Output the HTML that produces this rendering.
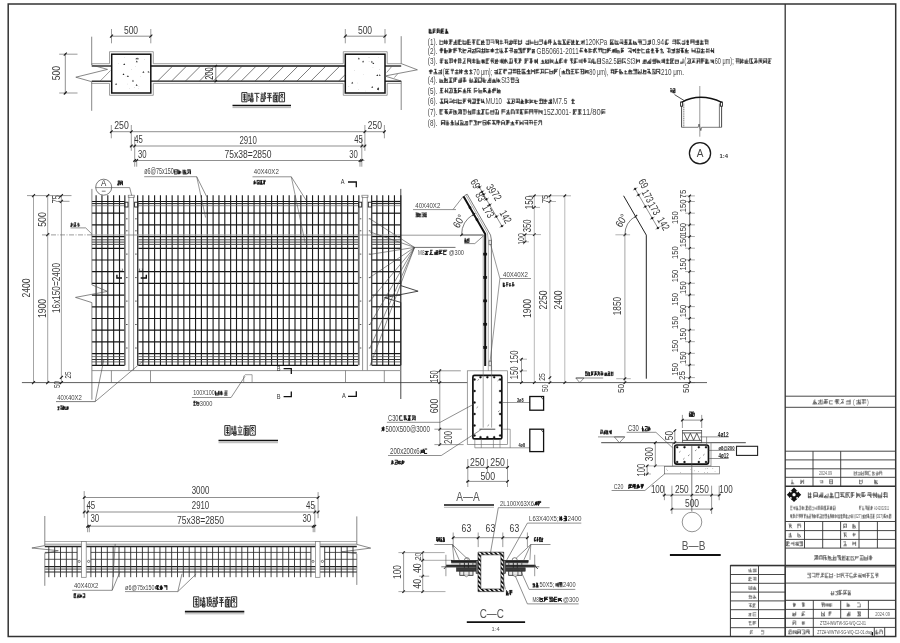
<!DOCTYPE html>
<html><head><meta charset="utf-8"><title>drawing</title>
<style>
html,body{margin:0;padding:0;background:#fff;}
body{width:900px;height:643px;overflow:hidden;font-family:"Liberation Sans",sans-serif;}
svg{display:block;position:absolute;left:0;top:0;filter:blur(0.3px);}
svg text{font-family:"Liberation Sans",sans-serif;}
</style></head><body>
<svg width="900" height="643" viewBox="0 0 900 643" shape-rendering="auto">
<rect x="0" y="0" width="900" height="643" fill="#fff"/>
<rect x="8.2" y="4" width="887.5" height="632.5" fill="none" stroke="#333" stroke-width="1.5"/>
<line x1="785.2" y1="4" x2="785.2" y2="636.5" stroke="#333" stroke-width="1.3"/>
<path d="M96.1 195.3V365.3M101.95 195.3V365.3M107.8 195.3V365.3M113.65 195.3V365.3M119.5 195.3V365.3M124.85 195.3V365.3M137.65 195.3V365.3M142.9 195.3V365.3M148.75 195.3V365.3M154.6 195.3V365.3M160.45 195.3V365.3M166.3 195.3V365.3M172.15 195.3V365.3M178 195.3V365.3M183.85 195.3V365.3M189.7 195.3V365.3M195.55 195.3V365.3M201.4 195.3V365.3M207.25 195.3V365.3M213.1 195.3V365.3M218.95 195.3V365.3M224.8 195.3V365.3M230.65 195.3V365.3M236.5 195.3V365.3M242.35 195.3V365.3M248.2 195.3V365.3M254.05 195.3V365.3M259.9 195.3V365.3M265.75 195.3V365.3M271.6 195.3V365.3M277.45 195.3V365.3M283.3 195.3V365.3M289.15 195.3V365.3M295 195.3V365.3M300.85 195.3V365.3M306.7 195.3V365.3M312.55 195.3V365.3M318.4 195.3V365.3M324.25 195.3V365.3M330.1 195.3V365.3M335.95 195.3V365.3M341.8 195.3V365.3M347.65 195.3V365.3M353.5 195.3V365.3M358.85 195.3V365.3M371.65 195.3V365.3M376.9 195.3V365.3M382.75 195.3V365.3M388.6 195.3V365.3M394.45 195.3V365.3" fill="none" stroke="#1c1c1c" stroke-width="1.12"/>
<line x1="91.9" y1="365.3" x2="124.6" y2="365.3" stroke="#141414" stroke-width="1.22"/>
<line x1="138.2" y1="365.3" x2="358" y2="365.3" stroke="#141414" stroke-width="1.22"/>
<line x1="371.7" y1="365.3" x2="400.8" y2="365.3" stroke="#141414" stroke-width="1.22"/>
<line x1="91.9" y1="353.6" x2="124.6" y2="353.6" stroke="#141414" stroke-width="1.22"/>
<line x1="138.2" y1="353.6" x2="358" y2="353.6" stroke="#141414" stroke-width="1.22"/>
<line x1="371.7" y1="353.6" x2="400.8" y2="353.6" stroke="#141414" stroke-width="1.22"/>
<line x1="91.9" y1="341.9" x2="124.6" y2="341.9" stroke="#141414" stroke-width="1.22"/>
<line x1="138.2" y1="341.9" x2="358" y2="341.9" stroke="#141414" stroke-width="1.22"/>
<line x1="371.7" y1="341.9" x2="400.8" y2="341.9" stroke="#141414" stroke-width="1.22"/>
<line x1="91.9" y1="330.2" x2="124.6" y2="330.2" stroke="#141414" stroke-width="1.22"/>
<line x1="138.2" y1="330.2" x2="358" y2="330.2" stroke="#141414" stroke-width="1.22"/>
<line x1="371.7" y1="330.2" x2="400.8" y2="330.2" stroke="#141414" stroke-width="1.22"/>
<line x1="91.9" y1="318.5" x2="124.6" y2="318.5" stroke="#141414" stroke-width="1.22"/>
<line x1="138.2" y1="318.5" x2="358" y2="318.5" stroke="#141414" stroke-width="1.22"/>
<line x1="371.7" y1="318.5" x2="400.8" y2="318.5" stroke="#141414" stroke-width="1.22"/>
<line x1="91.9" y1="306.8" x2="124.6" y2="306.8" stroke="#141414" stroke-width="1.22"/>
<line x1="138.2" y1="306.8" x2="358" y2="306.8" stroke="#141414" stroke-width="1.22"/>
<line x1="371.7" y1="306.8" x2="400.8" y2="306.8" stroke="#141414" stroke-width="1.22"/>
<line x1="91.9" y1="295.1" x2="124.6" y2="295.1" stroke="#141414" stroke-width="1.22"/>
<line x1="138.2" y1="295.1" x2="358" y2="295.1" stroke="#141414" stroke-width="1.22"/>
<line x1="371.7" y1="295.1" x2="400.8" y2="295.1" stroke="#141414" stroke-width="1.22"/>
<line x1="91.9" y1="283.4" x2="124.6" y2="283.4" stroke="#141414" stroke-width="1.22"/>
<line x1="138.2" y1="283.4" x2="358" y2="283.4" stroke="#141414" stroke-width="1.22"/>
<line x1="371.7" y1="283.4" x2="400.8" y2="283.4" stroke="#141414" stroke-width="1.22"/>
<line x1="91.9" y1="271.7" x2="124.6" y2="271.7" stroke="#141414" stroke-width="1.22"/>
<line x1="138.2" y1="271.7" x2="358" y2="271.7" stroke="#141414" stroke-width="1.22"/>
<line x1="371.7" y1="271.7" x2="400.8" y2="271.7" stroke="#141414" stroke-width="1.22"/>
<line x1="91.9" y1="260" x2="124.6" y2="260" stroke="#141414" stroke-width="1.22"/>
<line x1="138.2" y1="260" x2="358" y2="260" stroke="#141414" stroke-width="1.22"/>
<line x1="371.7" y1="260" x2="400.8" y2="260" stroke="#141414" stroke-width="1.22"/>
<line x1="91.9" y1="248.3" x2="124.6" y2="248.3" stroke="#141414" stroke-width="1.22"/>
<line x1="138.2" y1="248.3" x2="358" y2="248.3" stroke="#141414" stroke-width="1.22"/>
<line x1="371.7" y1="248.3" x2="400.8" y2="248.3" stroke="#141414" stroke-width="1.22"/>
<line x1="91.9" y1="236.6" x2="124.6" y2="236.6" stroke="#141414" stroke-width="1.22"/>
<line x1="138.2" y1="236.6" x2="358" y2="236.6" stroke="#141414" stroke-width="1.22"/>
<line x1="371.7" y1="236.6" x2="400.8" y2="236.6" stroke="#141414" stroke-width="1.22"/>
<line x1="91.9" y1="224.9" x2="124.6" y2="224.9" stroke="#141414" stroke-width="1.22"/>
<line x1="138.2" y1="224.9" x2="358" y2="224.9" stroke="#141414" stroke-width="1.22"/>
<line x1="371.7" y1="224.9" x2="400.8" y2="224.9" stroke="#141414" stroke-width="1.22"/>
<line x1="91.9" y1="213.2" x2="124.6" y2="213.2" stroke="#141414" stroke-width="1.22"/>
<line x1="138.2" y1="213.2" x2="358" y2="213.2" stroke="#141414" stroke-width="1.22"/>
<line x1="371.7" y1="213.2" x2="400.8" y2="213.2" stroke="#141414" stroke-width="1.22"/>
<line x1="91.9" y1="201.5" x2="124.6" y2="201.5" stroke="#141414" stroke-width="1.22"/>
<line x1="138.2" y1="201.5" x2="358" y2="201.5" stroke="#141414" stroke-width="1.22"/>
<line x1="371.7" y1="201.5" x2="400.8" y2="201.5" stroke="#141414" stroke-width="1.22"/>
<line x1="91.9" y1="203.6" x2="124.6" y2="203.6" stroke="#222" stroke-width="1"/>
<line x1="138.2" y1="203.6" x2="358" y2="203.6" stroke="#222" stroke-width="1"/>
<line x1="371.7" y1="203.6" x2="400.8" y2="203.6" stroke="#222" stroke-width="1"/>
<line x1="91.9" y1="205.7" x2="124.6" y2="205.7" stroke="#666" stroke-width="0.7"/>
<line x1="138.2" y1="205.7" x2="358" y2="205.7" stroke="#666" stroke-width="0.7"/>
<line x1="371.7" y1="205.7" x2="400.8" y2="205.7" stroke="#666" stroke-width="0.7"/>
<line x1="91.9" y1="239.8" x2="124.6" y2="239.8" stroke="#3a3a3a" stroke-width="0.9"/>
<line x1="138.2" y1="239.8" x2="358" y2="239.8" stroke="#3a3a3a" stroke-width="0.9"/>
<line x1="371.7" y1="239.8" x2="400.8" y2="239.8" stroke="#3a3a3a" stroke-width="0.9"/>
<line x1="91.9" y1="242.1" x2="124.6" y2="242.1" stroke="#333" stroke-width="0.9"/>
<line x1="138.2" y1="242.1" x2="358" y2="242.1" stroke="#333" stroke-width="0.9"/>
<line x1="371.7" y1="242.1" x2="400.8" y2="242.1" stroke="#333" stroke-width="0.9"/>
<line x1="91.9" y1="244.4" x2="124.6" y2="244.4" stroke="#3a3a3a" stroke-width="0.9"/>
<line x1="138.2" y1="244.4" x2="358" y2="244.4" stroke="#3a3a3a" stroke-width="0.9"/>
<line x1="371.7" y1="244.4" x2="400.8" y2="244.4" stroke="#3a3a3a" stroke-width="0.9"/>
<line x1="91.9" y1="356.6" x2="124.6" y2="356.6" stroke="#555" stroke-width="0.8"/>
<line x1="138.2" y1="356.6" x2="358" y2="356.6" stroke="#555" stroke-width="0.8"/>
<line x1="371.7" y1="356.6" x2="400.8" y2="356.6" stroke="#555" stroke-width="0.8"/>
<line x1="91.9" y1="359.5" x2="124.6" y2="359.5" stroke="#333" stroke-width="1"/>
<line x1="138.2" y1="359.5" x2="358" y2="359.5" stroke="#333" stroke-width="1"/>
<line x1="371.7" y1="359.5" x2="400.8" y2="359.5" stroke="#333" stroke-width="1"/>
<line x1="91.9" y1="361.9" x2="124.6" y2="361.9" stroke="#444" stroke-width="0.8"/>
<line x1="138.2" y1="361.9" x2="358" y2="361.9" stroke="#444" stroke-width="0.8"/>
<line x1="371.7" y1="361.9" x2="400.8" y2="361.9" stroke="#444" stroke-width="0.8"/>
<line x1="42" y1="234.9" x2="91.9" y2="234.9" stroke="#555" stroke-width="0.6" stroke-dasharray="5 1.5 1 1.5"/>
<line x1="91.9" y1="235" x2="400.8" y2="235" stroke="#9a9a9a" stroke-width="1.2"/>
<line x1="400.8" y1="235.2" x2="483.5" y2="235.2" stroke="#555" stroke-width="0.6"/>
<line x1="128.9" y1="196.5" x2="128.9" y2="370.6" stroke="#888" stroke-width="0.9"/>
<line x1="133.6" y1="196.5" x2="133.6" y2="370.6" stroke="#666" stroke-width="0.7"/>
<rect x="128.2" y="195.2" width="6.1" height="2.1" fill="none" stroke="#666" stroke-width="0.6"/>
<line x1="124.6" y1="207.5" x2="124.6" y2="365.3" stroke="#777" stroke-width="0.6"/>
<line x1="138.2" y1="207.5" x2="138.2" y2="365.3" stroke="#777" stroke-width="0.6"/>
<rect x="124.8" y="202.2" width="3.2" height="4.8" fill="none" stroke="#222" stroke-width="0.9"/>
<rect x="134.6" y="202.2" width="3.4" height="4.8" fill="none" stroke="#222" stroke-width="0.9"/>
<line x1="126" y1="218.8" x2="127.6" y2="218.8" stroke="#444" stroke-width="0.9"/>
<line x1="135.1" y1="218.8" x2="136.7" y2="218.8" stroke="#444" stroke-width="0.9"/>
<line x1="126" y1="230.8" x2="127.6" y2="230.8" stroke="#444" stroke-width="0.9"/>
<line x1="135.1" y1="230.8" x2="136.7" y2="230.8" stroke="#444" stroke-width="0.9"/>
<line x1="126" y1="254.1" x2="127.6" y2="254.1" stroke="#444" stroke-width="0.9"/>
<line x1="135.1" y1="254.1" x2="136.7" y2="254.1" stroke="#444" stroke-width="0.9"/>
<line x1="126" y1="277.6" x2="127.6" y2="277.6" stroke="#444" stroke-width="0.9"/>
<line x1="135.1" y1="277.6" x2="136.7" y2="277.6" stroke="#444" stroke-width="0.9"/>
<line x1="126" y1="301.1" x2="127.6" y2="301.1" stroke="#444" stroke-width="0.9"/>
<line x1="135.1" y1="301.1" x2="136.7" y2="301.1" stroke="#444" stroke-width="0.9"/>
<line x1="126" y1="324.5" x2="127.6" y2="324.5" stroke="#444" stroke-width="0.9"/>
<line x1="135.1" y1="324.5" x2="136.7" y2="324.5" stroke="#444" stroke-width="0.9"/>
<line x1="126" y1="348" x2="127.6" y2="348" stroke="#444" stroke-width="0.9"/>
<line x1="135.1" y1="348" x2="136.7" y2="348" stroke="#444" stroke-width="0.9"/>
<line x1="362.6" y1="196.5" x2="362.6" y2="370.6" stroke="#888" stroke-width="0.9"/>
<line x1="367.3" y1="196.5" x2="367.3" y2="370.6" stroke="#666" stroke-width="0.7"/>
<rect x="361.9" y="195.2" width="6.1" height="2.1" fill="none" stroke="#666" stroke-width="0.6"/>
<line x1="358.3" y1="207.5" x2="358.3" y2="365.3" stroke="#777" stroke-width="0.6"/>
<line x1="371.9" y1="207.5" x2="371.9" y2="365.3" stroke="#777" stroke-width="0.6"/>
<rect x="358.5" y="202.2" width="3.2" height="4.8" fill="none" stroke="#222" stroke-width="0.9"/>
<rect x="368.3" y="202.2" width="3.4" height="4.8" fill="none" stroke="#222" stroke-width="0.9"/>
<line x1="359.7" y1="218.8" x2="361.3" y2="218.8" stroke="#444" stroke-width="0.9"/>
<line x1="368.8" y1="218.8" x2="370.4" y2="218.8" stroke="#444" stroke-width="0.9"/>
<line x1="359.7" y1="230.8" x2="361.3" y2="230.8" stroke="#444" stroke-width="0.9"/>
<line x1="368.8" y1="230.8" x2="370.4" y2="230.8" stroke="#444" stroke-width="0.9"/>
<line x1="359.7" y1="254.1" x2="361.3" y2="254.1" stroke="#444" stroke-width="0.9"/>
<line x1="368.8" y1="254.1" x2="370.4" y2="254.1" stroke="#444" stroke-width="0.9"/>
<line x1="359.7" y1="277.6" x2="361.3" y2="277.6" stroke="#444" stroke-width="0.9"/>
<line x1="368.8" y1="277.6" x2="370.4" y2="277.6" stroke="#444" stroke-width="0.9"/>
<line x1="359.7" y1="301.1" x2="361.3" y2="301.1" stroke="#444" stroke-width="0.9"/>
<line x1="368.8" y1="301.1" x2="370.4" y2="301.1" stroke="#444" stroke-width="0.9"/>
<line x1="359.7" y1="324.5" x2="361.3" y2="324.5" stroke="#444" stroke-width="0.9"/>
<line x1="368.8" y1="324.5" x2="370.4" y2="324.5" stroke="#444" stroke-width="0.9"/>
<line x1="359.7" y1="348" x2="361.3" y2="348" stroke="#444" stroke-width="0.9"/>
<line x1="368.8" y1="348" x2="370.4" y2="348" stroke="#444" stroke-width="0.9"/>
<path d="M91.9 188.9 L91.9 284.8 L107.4 291.4 L75.5 297.4 L91.9 302.6 L91.9 399.7" fill="none" stroke="#555" stroke-width="0.7" stroke-linejoin="miter"/>
<path d="M400.8 188.9 L400.8 285.6 L418.1 291.2 L384.5 297.7 L400.8 302.4 L400.8 399" fill="none" stroke="#333" stroke-width="0.9" stroke-linejoin="miter"/>
<line x1="400.8" y1="195.3" x2="400.8" y2="365.3" stroke="#222" stroke-width="1.2"/>
<line x1="91.9" y1="370.6" x2="400.8" y2="370.6" stroke="#888" stroke-width="0.9"/>
<line x1="21.9" y1="382.6" x2="467.3" y2="382.6" stroke="#333" stroke-width="0.8"/>
<line x1="507.4" y1="382.6" x2="707" y2="382.6" stroke="#333" stroke-width="0.8"/>
<line x1="111.4" y1="370.6" x2="111.4" y2="382.6" stroke="#666" stroke-width="0.7"/>
<line x1="150.5" y1="370.6" x2="150.5" y2="382.6" stroke="#666" stroke-width="0.7"/>
<line x1="345.5" y1="370.6" x2="345.5" y2="382.6" stroke="#666" stroke-width="0.7"/>
<line x1="384.3" y1="370.6" x2="384.3" y2="382.6" stroke="#666" stroke-width="0.7"/>
<path d="M243.7 382.6 L243.7 376.2 L245.2 374.7 L252.1 374.7 L252.1 382.6" fill="none" stroke="#666" stroke-width="0.6" stroke-linejoin="miter"/>
<line x1="27" y1="195.6" x2="71.5" y2="195.6" stroke="#555" stroke-width="0.6"/>
<line x1="33.5" y1="195.6" x2="33.5" y2="382.6" stroke="#666" stroke-width="0.6"/>
<line x1="32" y1="197.1" x2="35" y2="194.1" stroke="#1a1a1a" stroke-width="1.1"/>
<line x1="32" y1="384.1" x2="35" y2="381.1" stroke="#1a1a1a" stroke-width="1.1"/>
<line x1="47.7" y1="195.6" x2="47.7" y2="382.6" stroke="#666" stroke-width="0.6"/>
<line x1="46.2" y1="197.1" x2="49.2" y2="194.1" stroke="#1a1a1a" stroke-width="1.1"/>
<line x1="46.2" y1="384.1" x2="49.2" y2="381.1" stroke="#1a1a1a" stroke-width="1.1"/>
<line x1="61.4" y1="195.6" x2="61.4" y2="382.6" stroke="#666" stroke-width="0.6"/>
<line x1="59.9" y1="197.1" x2="62.9" y2="194.1" stroke="#1a1a1a" stroke-width="1.1"/>
<line x1="59.9" y1="384.1" x2="62.9" y2="381.1" stroke="#1a1a1a" stroke-width="1.1"/>
<line x1="46.2" y1="236.2" x2="49.2" y2="233.2" stroke="#1a1a1a" stroke-width="1.1"/>
<line x1="59.9" y1="202.8" x2="62.9" y2="199.8" stroke="#1a1a1a" stroke-width="1.1"/>
<line x1="58.4" y1="201.3" x2="69.5" y2="201.3" stroke="#555" stroke-width="0.6"/>
<line x1="59.9" y1="378.9" x2="62.9" y2="375.9" stroke="#1a1a1a" stroke-width="1.1"/>
<text transform="translate(30.2 288) rotate(-90)" font-size="11.33" text-anchor="middle" fill="#3a3a3a" font-weight="normal" textLength="19" lengthAdjust="spacingAndGlyphs">2400</text>
<text transform="translate(46.2 219.5) rotate(-90)" font-size="11.33" text-anchor="middle" fill="#3a3a3a" font-weight="normal" textLength="14.5" lengthAdjust="spacingAndGlyphs">500</text>
<text transform="translate(46.2 308.5) rotate(-90)" font-size="11.33" text-anchor="middle" fill="#3a3a3a" font-weight="normal" textLength="19" lengthAdjust="spacingAndGlyphs">1900</text>
<text transform="translate(59.8 288) rotate(-90)" font-size="11.33" text-anchor="middle" fill="#3a3a3a" font-weight="normal" textLength="50" lengthAdjust="spacingAndGlyphs">16x150=2400</text>
<text transform="translate(59.6 199.3) rotate(-90)" font-size="10.03" text-anchor="middle" fill="#3a3a3a" font-weight="normal" textLength="8" lengthAdjust="spacingAndGlyphs">75</text>
<text transform="translate(70.6 374.9) rotate(-90)" font-size="8.26" text-anchor="middle" fill="#3a3a3a" font-weight="normal" textLength="7" lengthAdjust="spacingAndGlyphs">25</text>
<text transform="translate(59.6 384.6) rotate(-90)" font-size="8.26" text-anchor="middle" fill="#3a3a3a" font-weight="normal" textLength="7" lengthAdjust="spacingAndGlyphs">50</text>
<path d="M70.5 223.92H73.29M70.92 224.8H73.29M70.5 225.77H72.73M71.48 222.6V227M71.89 224.36L70.5 227M73.9 222.82H76.13M73.9 225.77H76.69M74.12 223.48V227M75.43 222.6V227M75.29 224.36L73.9 227M77.3 223.92H79.53M77.3 224.8H79.53M77.72 225.77H80.09M78.28 222.6V227" fill="none" stroke="#222" stroke-width="0.8"/>
<path d="M70.5 227.9 L85.7 227.9 L91.7 233.8" fill="none" stroke="#444" stroke-width="0.6" stroke-linejoin="miter"/>
<circle cx="103.7" cy="187.2" r="8" fill="none" stroke="#444" stroke-width="0.7"/>
<path d="M95.7 187.6 L129.7 187.6 L131.7 195.5" fill="none" stroke="#444" stroke-width="0.6" stroke-linejoin="miter"/>
<text transform="translate(103.7 186.2) rotate(0) scale(0.9 1)" font-size="8.85" text-anchor="middle" fill="#333" font-weight="normal">A</text>
<line x1="101.8" y1="191.2" x2="105.6" y2="191.2" stroke="#444" stroke-width="0.7"/>
<path d="M117.84 181.02H119.8M117.5 184.98H119.34M119.61 180.8V184.54M118.3 180.8V185.2M118.65 182.56L117.5 185.2M120.3 181.02H122.14M120.3 182.12H122.6M120.64 183H122.6M120.48 181.68V185.2M122.41 180.8V185.2M121.45 182.56L122.6 185.2" fill="none" stroke="#111" stroke-width="0.9"/>
<text transform="translate(144.2 174.3) rotate(0)" font-size="8.26" text-anchor="start" fill="#444" font-weight="normal" textLength="29.5" lengthAdjust="spacingAndGlyphs">ø6@75x150</text>
<path d="M174.54 169.83H177.61M174 171.9H176.89M174 173.97H176.89M177.32 169.6V174.2M174.29 169.6V173.51M178.4 171.9H181.29M178.4 172.91H181.29M178.69 169.6V174.2M179.66 170.52V174.2M180.2 171.44L178.4 174.2M182.8 170.98H186.41M182.8 172.91H186.41M182.8 173.97H186.41M184.78 169.6V173.51M183.09 169.6V173.51M184.6 171.44L186.41 174.2M187.2 169.83H190.81M187.2 170.98H190.81M187.74 172.91H190.81M190.52 170.52V174.2M189 171.44L187.2 174.2" fill="none" stroke="#111" stroke-width="0.9"/>
<path d="M144.2 176.7 L196.7 176.7 L206.7 196.7" fill="none" stroke="#444" stroke-width="0.6" stroke-linejoin="miter"/>
<line x1="196.7" y1="176.7" x2="205.6" y2="217.5" stroke="#555" stroke-width="0.6"/>
<text transform="translate(253.8 173.9) rotate(0)" font-size="7.79" text-anchor="start" fill="#444" font-weight="normal" textLength="25" lengthAdjust="spacingAndGlyphs">40X40X2</text>
<path d="M252.5 176.8 L291.3 176.8 L306.3 200.5" fill="none" stroke="#444" stroke-width="0.6" stroke-linejoin="miter"/>
<line x1="291.3" y1="176.8" x2="305.2" y2="243" stroke="#555" stroke-width="0.6"/>
<path d="M254.18 182.3H255.83M253.8 183.22H256.34M254 181.04V183.77M254.69 180.2V184.4M255.07 181.88L253.8 184.4M256.9 180.41H259.44M256.9 183.22H259.44M256.9 184.19H259.44M257.1 180.2V183.77M259.24 180.2V183.77M258.17 181.88L259.44 184.4M260.38 180.41H262.54M260 183.22H262.03M260 184.19H262.54M261.4 180.2V184.4M260.89 180.2V184.4M261.27 181.88L262.54 184.4M263.48 180.41H265.64M263.48 181.46H265.64M263.99 180.2V184.4M264.5 181.04V184.4M264.37 181.88L263.1 184.4" fill="none" stroke="#111" stroke-width="0.85"/>
<text transform="translate(342.6 184.2) rotate(0) scale(0.8 1)" font-size="7.08" text-anchor="middle" fill="#333" font-weight="normal">A</text>
<path d="M348 182 L356.3 182 L356.3 187.2" fill="none" stroke="#111" stroke-width="1.3" stroke-linejoin="miter"/>
<text transform="translate(343.8 398.4) rotate(0) scale(0.8 1)" font-size="7.08" text-anchor="middle" fill="#333" font-weight="normal">A</text>
<path d="M348 396.3 L356.3 396.3 L356.3 391.2" fill="none" stroke="#111" stroke-width="1.3" stroke-linejoin="miter"/>
<text transform="translate(278.7 371.2) rotate(0) scale(0.8 1)" font-size="7.08" text-anchor="middle" fill="#333" font-weight="normal">B</text>
<path d="M283.6 368.7 L291.3 368.7 L291.3 374" fill="none" stroke="#111" stroke-width="1.3" stroke-linejoin="miter"/>
<text transform="translate(278.7 399) rotate(0) scale(0.8 1)" font-size="7.08" text-anchor="middle" fill="#333" font-weight="normal">B</text>
<path d="M283.6 396.7 L291.3 396.7 L291.3 391.5" fill="none" stroke="#111" stroke-width="1.3" stroke-linejoin="miter"/>
<path d="M116.9 274.7 L116.9 278 L122 278" fill="none" stroke="#111" stroke-width="1.4" stroke-linejoin="miter"/>
<path d="M146.3 274.7 L146.3 278 L140.7 278" fill="none" stroke="#111" stroke-width="1.4" stroke-linejoin="miter"/>
<text transform="translate(123.3 270) rotate(-90) scale(0.8 1)" font-size="5.43" text-anchor="middle" fill="#222" font-weight="normal">C</text>
<text transform="translate(143.4 270) rotate(-90) scale(0.8 1)" font-size="5.43" text-anchor="middle" fill="#222" font-weight="normal">C</text>
<text transform="translate(415.3 207.6) rotate(0)" font-size="7.79" text-anchor="start" fill="#444" font-weight="normal" textLength="25" lengthAdjust="spacingAndGlyphs">40X40X2</text>
<line x1="413" y1="209.6" x2="456" y2="209.6" stroke="#444" stroke-width="0.6"/>
<line x1="453.1" y1="209.4" x2="463" y2="196.7" stroke="#444" stroke-width="0.6"/>
<path d="M415.5 213.01H417.47M415.5 214.9H417.96M415.5 216.79H417.96M416.85 212.8V216.37M417.76 212.8V217M418.5 214.06H420.96M418.87 214.9H420.96M418.5 216.79H420.96M419.85 213.64V216.37M418.7 212.8V217M421.5 213.01H423.96M421.5 214.9H423.96M421.5 216.79H423.96M423.76 213.64V216.37M424.5 213.01H426.96M424.87 214.9H426.96M424.5 216.79H426.96M425.85 213.64V217M424.7 212.8V217" fill="none" stroke="#111" stroke-width="0.85"/>
<line x1="414.5" y1="247.4" x2="455.5" y2="247.4" stroke="#333" stroke-width="0.7"/>
<line x1="414.5" y1="247.4" x2="369.9" y2="218.8" stroke="#444" stroke-width="0.6"/>
<line x1="414.5" y1="247.4" x2="369.9" y2="231.9" stroke="#444" stroke-width="0.6"/>
<line x1="414.5" y1="247.4" x2="369.9" y2="254.4" stroke="#444" stroke-width="0.6"/>
<line x1="414.5" y1="247.4" x2="369.9" y2="277.4" stroke="#444" stroke-width="0.6"/>
<line x1="414.5" y1="247.4" x2="369.9" y2="301" stroke="#444" stroke-width="0.6"/>
<line x1="414.5" y1="247.4" x2="369.9" y2="324.4" stroke="#444" stroke-width="0.6"/>
<line x1="414.5" y1="247.4" x2="369.9" y2="348" stroke="#444" stroke-width="0.6"/>
<line x1="414.5" y1="247.4" x2="369.9" y2="366" stroke="#444" stroke-width="0.6"/>
<text transform="translate(418 254.8) rotate(0)" font-size="7.08" text-anchor="start" fill="#555" font-weight="normal" textLength="6.5" lengthAdjust="spacingAndGlyphs">M8</text>
<path d="M425 251.44H428.77M425 254.56H428.02M426.32 250.96V254.8M427.07 250.96V254.8M426.89 251.92L425 254.8M430.17 250.24H432.62M429.6 254.56H433.37M430.92 250V254.8M431.49 251.92L429.6 254.8M434.2 252.4H437.97M434.2 253.46H437.22M434.2 254.56H437.97M437.67 250V254.08M436.27 250V254.08M438.8 250.24H442.57M438.8 251.44H441.82M439.37 253.46H442.57M439.1 250.96V254.08M440.12 250.96V254.08M440.69 251.92L438.8 254.8M443.4 250.24H447.17M443.4 251.44H446.42M443.4 254.56H446.42M443.7 250V254.8" fill="none" stroke="#111" stroke-width="0.9"/>
<text transform="translate(448.8 254.9) rotate(0)" font-size="7.55" text-anchor="start" fill="#444" font-weight="normal" textLength="15.2" lengthAdjust="spacingAndGlyphs">@300</text>
<text transform="translate(57.3 399.6) rotate(0)" font-size="7.79" text-anchor="start" fill="#444" font-weight="normal" textLength="24.5" lengthAdjust="spacingAndGlyphs">40X40X2</text>
<line x1="56" y1="401.6" x2="95.2" y2="401.6" stroke="#444" stroke-width="0.7"/>
<line x1="95.2" y1="401.6" x2="104" y2="359" stroke="#444" stroke-width="0.6"/>
<line x1="95.2" y1="401.6" x2="145" y2="359.4" stroke="#444" stroke-width="0.6"/>
<path d="M57.3 406.99H59.76M57.67 407.85H59.27M57.3 409.78H59.27M58.65 406.56V410M60.3 405.91H62.76M60.3 408.8H62.76M61.16 405.7V410M62.56 406.56V410M63.3 406.99H65.76M63.3 407.85H65.76M63.5 405.7V410M64.16 406.56V410M64.53 407.42L65.76 410M66.3 406.99H68.76M66.3 407.85H68.76M66.67 408.8H68.76M67.65 406.56V410M67.53 407.42L66.3 410" fill="none" stroke="#111" stroke-width="0.85"/>
<text transform="translate(193.3 395.4) rotate(0)" font-size="7.32" text-anchor="start" fill="#444" font-weight="normal" textLength="21.5" lengthAdjust="spacingAndGlyphs">100X100</text>
<path d="M215.2 393.05H218.81M215.2 394.04H218.81M215.2 395.07H218.81M215.49 390.8V395.3M218.52 390.8V394.62M220.14 392.15H222.49M219.6 393.05H222.49M219.6 394.04H223.21M219.89 390.8V395.3M221.58 390.8V395.3M224.54 391.03H227.61M224 393.05H227.61M224 395.07H227.61M225.98 391.7V395.3" fill="none" stroke="#111" stroke-width="0.85"/>
<path d="M191.9 397.5 L231.1 397.5 L245.1 376.1" fill="none" stroke="#444" stroke-width="0.6" stroke-linejoin="miter"/>
<path d="M193.69 401.23H195.4M193.3 402.35H195.92M193.3 405.27H195.92M194.22 401V405.5M196.89 402.35H198.6M196.5 403.25H199.12M196.5 405.27H199.12M196.71 401V404.82M198.91 401.9V404.82" fill="none" stroke="#111" stroke-width="0.85"/>
<text transform="translate(199.8 405.6) rotate(0)" font-size="7.32" text-anchor="start" fill="#444" font-weight="normal" textLength="12.6" lengthAdjust="spacingAndGlyphs">3000</text>
<path d="M224.8 425.6 L230.09 425.6 L230.09 435.2 L224.8 435.2 L224.8 425.6M225.86 428 L229.03 428M225.86 430.21 L229.03 430.21M226.12 432.51 L228.93 432.51 L228.93 433.76M227.45 426.75 L227.45 434.24" fill="none" stroke="#1a1a1a" stroke-width="0.9" stroke-linejoin="round"/>
<path d="M231.1 428.96 L233.01 428.96M232.05 426.08 L232.05 433.76M231.1 434.24 L233.11 433.09M233.48 427.04 L236.39 427.04M234.91 425.6 L234.91 429.44M234.01 428.29 L234.38 429.25M235.86 428.29 L235.49 429.25M233.32 429.92 L236.39 429.92M233.64 431.17 L236.18 431.17 L236.18 435.2 L233.64 435.2 L233.64 431.17M234.38 432.51 L235.44 432.51 L235.44 434.05 L234.38 434.05 L234.38 432.51" fill="none" stroke="#1a1a1a" stroke-width="0.9" stroke-linejoin="round"/>
<path d="M239.78 425.6 L240.15 426.75M237.66 427.71 L242.43 427.71M238.88 429.25 L239.31 433.47M241.32 429.06 L240.68 433.47M237.4 434.72 L242.69 434.72" fill="none" stroke="#1a1a1a" stroke-width="0.9" stroke-linejoin="round"/>
<path d="M243.7 426.08 L248.99 426.08M246.08 426.08 L245.71 428.29M243.96 428.29 L248.73 428.29 L248.73 435.2 L243.96 435.2 L243.96 428.29M245.55 428.29 L245.55 435.2M247.14 428.29 L247.14 435.2M245.55 430.59 L247.14 430.59M245.55 432.9 L247.14 432.9" fill="none" stroke="#1a1a1a" stroke-width="0.9" stroke-linejoin="round"/>
<path d="M250 425.6 L255.29 425.6 L255.29 435.2 L250 435.2 L250 425.6M252.22 426.75 L251.16 429.44M251.85 427.52 L253.7 427.52 L251.32 431.55M252.01 428.86 L254.23 431.55M252.54 431.94 L253.28 432.51M252.12 433.28 L253.28 434.05" fill="none" stroke="#1a1a1a" stroke-width="0.9" stroke-linejoin="round"/>
<line x1="218.5" y1="440.5" x2="278" y2="440.5" stroke="#111" stroke-width="1.6"/>
<line x1="218.5" y1="442.7" x2="278" y2="442.7" stroke="#666" stroke-width="0.5"/>
<path d="M91.7 63.7 L109.5 63.7 L109.5 51.7 L153.3 51.7 L153.3 63.7 L343.3 63.7 L343.3 51.7 L387.2 51.7 L387.2 63.7 L401.2 63.7" fill="none" stroke="#777" stroke-width="0.7" stroke-linejoin="miter"/>
<path d="M91.7 83.4 L109.5 83.4 L109.5 95.3 L153.3 95.3 L153.3 83.4 L343.3 83.4 L343.3 95.3 L387.2 95.3 L387.2 83.4 L401.2 83.4" fill="none" stroke="#777" stroke-width="0.7" stroke-linejoin="miter"/>
<line x1="91.7" y1="66" x2="111.7" y2="66" stroke="#161616" stroke-width="1.3"/>
<line x1="91.7" y1="81.2" x2="111.7" y2="81.2" stroke="#161616" stroke-width="1.3"/>
<line x1="150.8" y1="66" x2="345.3" y2="66" stroke="#161616" stroke-width="1.3"/>
<line x1="150.8" y1="81.2" x2="345.3" y2="81.2" stroke="#161616" stroke-width="1.3"/>
<line x1="385" y1="66" x2="401.2" y2="66" stroke="#161616" stroke-width="1.3"/>
<line x1="385" y1="81.2" x2="401.2" y2="81.2" stroke="#161616" stroke-width="1.3"/>
<rect x="111.7" y="54.2" width="39.1" height="38.8" fill="#fff" stroke="#111" stroke-width="1.5"/>
<rect x="345.3" y="54.2" width="39.7" height="38.8" fill="#fff" stroke="#111" stroke-width="1.5"/>
<path d="M157.5 81.2L172.7 66M171.43 81.2L186.63 66M185.36 81.2L200.56 66M199.29 81.2L214.49 66M213.22 81.2L228.42 66M227.15 81.2L242.35 66M241.08 81.2L256.28 66M255.01 81.2L270.21 66M268.94 81.2L284.14 66M282.87 81.2L298.07 66M296.8 81.2L312 66M310.73 81.2L325.93 66M324.66 81.2L339.86 66M338.59 81.2L345.3 74.49" fill="none" stroke="#444" stroke-width="0.7"/>
<line x1="100" y1="81.2" x2="110.5" y2="70.5" stroke="#555" stroke-width="0.6"/>
<line x1="386.7" y1="72.5" x2="391.7" y2="66.5" stroke="#555" stroke-width="0.6"/>
<line x1="394.4" y1="77.6" x2="397.5" y2="74" stroke="#555" stroke-width="0.6"/>
<path d="M122.58 75.05l1.9 0l-0.95 -1.7z" fill="#222" stroke="none"/>
<path d="M126.95 77.01l1.9 0l-0.95 -1.7z" fill="#222" stroke="none"/>
<path d="M135.41 59.35l1.9 0l-0.95 -1.7z" fill="#222" stroke="none"/>
<path d="M115.14 84.67l1.9 0l-0.95 -1.7z" fill="#222" stroke="none"/>
<path d="M123.28 64.89l1.9 0l-0.95 -1.7z" fill="#222" stroke="none"/>
<path d="M147.66 72.62l1.9 0l-0.95 -1.7z" fill="#222" stroke="none"/>
<path d="M142.39 72.82l1.9 0l-0.95 -1.7z" fill="#222" stroke="none"/>
<path d="M135.85 62.14l1.9 0l-0.95 -1.7z" fill="#222" stroke="none"/>
<path d="M135.71 85.67l1.9 0l-0.95 -1.7z" fill="#222" stroke="none"/>
<path d="M132.02 81.51l1.9 0l-0.95 -1.7z" fill="#222" stroke="none"/>
<path d="M136.92 59.3l1.9 0l-0.95 -1.7z" fill="#222" stroke="none"/>
<circle cx="140.31" cy="76.77" r="0.3" fill="#999"/>
<circle cx="124.27" cy="57.28" r="0.3" fill="#999"/>
<circle cx="144.08" cy="72.65" r="0.3" fill="#999"/>
<circle cx="138.93" cy="86.78" r="0.3" fill="#999"/>
<circle cx="138.77" cy="88.25" r="0.3" fill="#999"/>
<circle cx="127.56" cy="84.07" r="0.3" fill="#999"/>
<circle cx="129.31" cy="88.76" r="0.3" fill="#999"/>
<circle cx="144.55" cy="59.59" r="0.3" fill="#999"/>
<circle cx="118.47" cy="63.75" r="0.3" fill="#999"/>
<circle cx="147.59" cy="71.38" r="0.3" fill="#999"/>
<circle cx="135.7" cy="66.68" r="0.3" fill="#999"/>
<circle cx="131.5" cy="69.63" r="0.3" fill="#999"/>
<circle cx="126.02" cy="76.56" r="0.3" fill="#999"/>
<circle cx="134.21" cy="87.67" r="0.3" fill="#999"/>
<path d="M371.28 87.67l1.9 0l-0.95 -1.7z" fill="#222" stroke="none"/>
<path d="M377.16 89.7l1.9 0l-0.95 -1.7z" fill="#222" stroke="none"/>
<path d="M370.92 62.55l1.9 0l-0.95 -1.7z" fill="#222" stroke="none"/>
<path d="M377.3 88.84l1.9 0l-0.95 -1.7z" fill="#222" stroke="none"/>
<path d="M378.79 75.87l1.9 0l-0.95 -1.7z" fill="#222" stroke="none"/>
<path d="M372.36 64.12l1.9 0l-0.95 -1.7z" fill="#222" stroke="none"/>
<path d="M376.33 76.01l1.9 0l-0.95 -1.7z" fill="#222" stroke="none"/>
<path d="M357.9 59.28l1.9 0l-0.95 -1.7z" fill="#222" stroke="none"/>
<path d="M377.08 89.67l1.9 0l-0.95 -1.7z" fill="#222" stroke="none"/>
<path d="M351.28 83.46l1.9 0l-0.95 -1.7z" fill="#222" stroke="none"/>
<path d="M362.13 62.15l1.9 0l-0.95 -1.7z" fill="#222" stroke="none"/>
<circle cx="357.79" cy="82.95" r="0.3" fill="#999"/>
<circle cx="378.46" cy="57.74" r="0.3" fill="#999"/>
<circle cx="369.24" cy="57.76" r="0.3" fill="#999"/>
<circle cx="372.95" cy="67.72" r="0.3" fill="#999"/>
<circle cx="378.75" cy="90.33" r="0.3" fill="#999"/>
<circle cx="365.34" cy="90.95" r="0.3" fill="#999"/>
<circle cx="358.36" cy="58.88" r="0.3" fill="#999"/>
<circle cx="368.71" cy="57.29" r="0.3" fill="#999"/>
<circle cx="354.35" cy="70.4" r="0.3" fill="#999"/>
<circle cx="369.09" cy="61.64" r="0.3" fill="#999"/>
<circle cx="348.81" cy="86.4" r="0.3" fill="#999"/>
<circle cx="358.5" cy="89.56" r="0.3" fill="#999"/>
<circle cx="379.31" cy="69.35" r="0.3" fill="#999"/>
<circle cx="363.74" cy="74.3" r="0.3" fill="#999"/>
<path d="M91.7 36.7 L91.7 65 L107.5 69.4 L75.8 77.2 L91.7 81.7 L91.7 110.8" fill="none" stroke="#555" stroke-width="0.7" stroke-linejoin="miter"/>
<path d="M401.2 36.2 L401.2 63.6 L417.4 69.8 L384.9 76 L401.2 81.1 L401.2 110" fill="none" stroke="#555" stroke-width="0.7" stroke-linejoin="miter"/>
<line x1="110.7" y1="36.2" x2="151.6" y2="36.2" stroke="#444" stroke-width="0.6"/>
<line x1="111.5" y1="29" x2="111.5" y2="43.3" stroke="#555" stroke-width="0.6"/>
<line x1="150.8" y1="29" x2="150.8" y2="43.3" stroke="#555" stroke-width="0.6"/>
<line x1="110" y1="37.7" x2="113" y2="34.7" stroke="#1a1a1a" stroke-width="1.1"/>
<line x1="149.3" y1="37.7" x2="152.3" y2="34.7" stroke="#1a1a1a" stroke-width="1.1"/>
<text transform="translate(131 33.6) rotate(0)" font-size="11.33" text-anchor="middle" fill="#3a3a3a" font-weight="normal" textLength="14.2" lengthAdjust="spacingAndGlyphs">500</text>
<line x1="344.5" y1="36.2" x2="385.8" y2="36.2" stroke="#444" stroke-width="0.6"/>
<line x1="345.3" y1="29" x2="345.3" y2="43.3" stroke="#555" stroke-width="0.6"/>
<line x1="385" y1="29" x2="385" y2="43.3" stroke="#555" stroke-width="0.6"/>
<line x1="343.8" y1="37.7" x2="346.8" y2="34.7" stroke="#1a1a1a" stroke-width="1.1"/>
<line x1="383.5" y1="37.7" x2="386.5" y2="34.7" stroke="#1a1a1a" stroke-width="1.1"/>
<text transform="translate(365 33.6) rotate(0)" font-size="11.33" text-anchor="middle" fill="#3a3a3a" font-weight="normal" textLength="14.2" lengthAdjust="spacingAndGlyphs">500</text>
<line x1="65.3" y1="53" x2="65.3" y2="94.2" stroke="#444" stroke-width="0.6"/>
<line x1="59.2" y1="54.2" x2="77.5" y2="54.2" stroke="#555" stroke-width="0.6"/>
<line x1="59.2" y1="93" x2="77.5" y2="93" stroke="#555" stroke-width="0.6"/>
<line x1="63.8" y1="55.7" x2="66.8" y2="52.7" stroke="#1a1a1a" stroke-width="1.1"/>
<line x1="63.8" y1="94.5" x2="66.8" y2="91.5" stroke="#1a1a1a" stroke-width="1.1"/>
<text transform="translate(59.8 73.2) rotate(-90)" font-size="11.33" text-anchor="middle" fill="#3a3a3a" font-weight="normal" textLength="14.2" lengthAdjust="spacingAndGlyphs">500</text>
<line x1="215.8" y1="66" x2="215.8" y2="81.2" stroke="#333" stroke-width="0.6"/>
<line x1="214.6" y1="67.2" x2="217" y2="64.8" stroke="#1a1a1a" stroke-width="1.1"/>
<line x1="214.6" y1="82.4" x2="217" y2="80" stroke="#1a1a1a" stroke-width="1.1"/>
<text transform="translate(213.2 73.6) rotate(-90)" font-size="10.38" text-anchor="middle" fill="#222" font-weight="normal" textLength="12.5" lengthAdjust="spacingAndGlyphs">200</text>
<path d="M241.8 92.6 L247.05 92.6 L247.05 101.8 L241.8 101.8 L241.8 92.6M242.85 94.9 L246 94.9M242.85 97.02 L246 97.02M243.11 99.22 L245.9 99.22 L245.9 100.42M244.43 93.7 L244.43 100.88" fill="none" stroke="#1a1a1a" stroke-width="0.9" stroke-linejoin="round"/>
<path d="M248.05 95.82 L249.94 95.82M249 93.06 L249 100.42M248.05 100.88 L250.05 99.78M250.41 93.98 L253.3 93.98M251.83 92.6 L251.83 96.28M250.94 95.18 L251.31 96.1M252.78 95.18 L252.41 96.1M250.26 96.74 L253.3 96.74M250.57 97.94 L253.09 97.94 L253.09 101.8 L250.57 101.8 L250.57 97.94M251.31 99.22 L252.36 99.22 L252.36 100.7 L251.31 100.7 L251.31 99.22" fill="none" stroke="#1a1a1a" stroke-width="0.9" stroke-linejoin="round"/>
<path d="M254.3 93.34 L259.55 93.34M256.82 93.34 L256.82 101.8M257.19 96.1 L258.61 97.94" fill="none" stroke="#1a1a1a" stroke-width="0.9" stroke-linejoin="round"/>
<path d="M261.86 92.6 L262.12 93.52M260.66 94.26 L263.6 94.26M261.34 95.18 L261.7 96.46M262.91 95.18 L262.55 96.46M260.55 97.02 L263.7 97.02M260.97 98.3 L263.28 98.3 L263.28 101.62 L260.97 101.62 L260.97 98.3M264.23 92.78 L265.69 92.78 L264.75 95.36 L265.69 97.2 L265.54 98.86 L264.65 98.86M264.23 92.78 L264.23 101.8" fill="none" stroke="#1a1a1a" stroke-width="0.9" stroke-linejoin="round"/>
<path d="M267.12 93.34 L271.74 93.34M267.95 94.62 L268.48 96.46M270.9 94.62 L270.37 96.46M266.8 97.66 L272.05 97.66M269.43 93.34 L269.43 101.8" fill="none" stroke="#1a1a1a" stroke-width="0.9" stroke-linejoin="round"/>
<path d="M273.05 93.06 L278.3 93.06M275.41 93.06 L275.05 95.18M273.31 95.18 L278.04 95.18 L278.04 101.8 L273.31 101.8 L273.31 95.18M274.89 95.18 L274.89 101.8M276.46 95.18 L276.46 101.8M274.89 97.38 L276.46 97.38M274.89 99.59 L276.46 99.59" fill="none" stroke="#1a1a1a" stroke-width="0.9" stroke-linejoin="round"/>
<path d="M279.3 92.6 L284.55 92.6 L284.55 101.8 L279.3 101.8 L279.3 92.6M281.5 93.7 L280.45 96.28M281.14 94.44 L282.98 94.44 L280.61 98.3M281.3 95.73 L283.5 98.3M281.82 98.67 L282.56 99.22M281.4 99.96 L282.56 100.7" fill="none" stroke="#1a1a1a" stroke-width="0.9" stroke-linejoin="round"/>
<line x1="232.5" y1="105.5" x2="291" y2="105.5" stroke="#111" stroke-width="1.6"/>
<line x1="232.5" y1="107.6" x2="291" y2="107.6" stroke="#666" stroke-width="0.5"/>
<line x1="110.3" y1="131.7" x2="385.4" y2="131.7" stroke="#444" stroke-width="0.6"/>
<line x1="129.8" y1="146" x2="366.2" y2="146" stroke="#444" stroke-width="0.6"/>
<line x1="133.5" y1="160.5" x2="364.4" y2="160.5" stroke="#444" stroke-width="0.6"/>
<line x1="111.3" y1="125" x2="111.3" y2="138.3" stroke="#555" stroke-width="0.6"/>
<line x1="131.3" y1="125" x2="131.3" y2="150.8" stroke="#555" stroke-width="0.6"/>
<line x1="134.7" y1="136.7" x2="134.7" y2="166.7" stroke="#555" stroke-width="0.6"/>
<line x1="136.7" y1="160" x2="136.7" y2="166.7" stroke="#555" stroke-width="0.6"/>
<line x1="384.4" y1="125" x2="384.4" y2="138.3" stroke="#555" stroke-width="0.6"/>
<line x1="364.9" y1="125" x2="364.9" y2="150.8" stroke="#555" stroke-width="0.6"/>
<line x1="361.8" y1="136.7" x2="361.8" y2="166.7" stroke="#555" stroke-width="0.6"/>
<line x1="360" y1="160" x2="360" y2="166.7" stroke="#555" stroke-width="0.6"/>
<line x1="110" y1="133" x2="112.6" y2="130.4" stroke="#1a1a1a" stroke-width="1.1"/>
<line x1="130" y1="133" x2="132.6" y2="130.4" stroke="#1a1a1a" stroke-width="1.1"/>
<line x1="363.6" y1="133" x2="366.2" y2="130.4" stroke="#1a1a1a" stroke-width="1.1"/>
<line x1="383.1" y1="133" x2="385.7" y2="130.4" stroke="#1a1a1a" stroke-width="1.1"/>
<line x1="130" y1="147.3" x2="132.6" y2="144.7" stroke="#1a1a1a" stroke-width="1.1"/>
<line x1="133.4" y1="147.3" x2="136" y2="144.7" stroke="#1a1a1a" stroke-width="1.1"/>
<line x1="360.5" y1="147.3" x2="363.1" y2="144.7" stroke="#1a1a1a" stroke-width="1.1"/>
<line x1="363.6" y1="147.3" x2="366.2" y2="144.7" stroke="#1a1a1a" stroke-width="1.1"/>
<line x1="133.4" y1="161.8" x2="136" y2="159.2" stroke="#1a1a1a" stroke-width="1.1"/>
<line x1="135.4" y1="161.8" x2="138" y2="159.2" stroke="#1a1a1a" stroke-width="1.1"/>
<line x1="358.7" y1="161.8" x2="361.3" y2="159.2" stroke="#1a1a1a" stroke-width="1.1"/>
<line x1="360.5" y1="161.8" x2="363.1" y2="159.2" stroke="#1a1a1a" stroke-width="1.1"/>
<text transform="translate(121.5 129) rotate(0)" font-size="11.33" text-anchor="middle" fill="#3a3a3a" font-weight="normal" textLength="14.5" lengthAdjust="spacingAndGlyphs">250</text>
<text transform="translate(374.8 129.3) rotate(0)" font-size="11.33" text-anchor="middle" fill="#3a3a3a" font-weight="normal" textLength="14.2" lengthAdjust="spacingAndGlyphs">250</text>
<text transform="translate(248.1 143.7) rotate(0)" font-size="11.33" text-anchor="middle" fill="#3a3a3a" font-weight="normal" textLength="17.4" lengthAdjust="spacingAndGlyphs">2910</text>
<text transform="translate(248 158.2) rotate(0)" font-size="11.33" text-anchor="middle" fill="#3a3a3a" font-weight="normal" textLength="47.2" lengthAdjust="spacingAndGlyphs">75x38=2850</text>
<text transform="translate(138.6 143.2) rotate(0)" font-size="11.33" text-anchor="middle" fill="#3a3a3a" font-weight="normal" textLength="8.6" lengthAdjust="spacingAndGlyphs">45</text>
<text transform="translate(358.6 143) rotate(0)" font-size="11.33" text-anchor="middle" fill="#3a3a3a" font-weight="normal" textLength="8.6" lengthAdjust="spacingAndGlyphs">45</text>
<text transform="translate(142.2 157.8) rotate(0)" font-size="11.33" text-anchor="middle" fill="#3a3a3a" font-weight="normal" textLength="8.6" lengthAdjust="spacingAndGlyphs">30</text>
<text transform="translate(353.6 157.8) rotate(0)" font-size="11.33" text-anchor="middle" fill="#3a3a3a" font-weight="normal" textLength="8.6" lengthAdjust="spacingAndGlyphs">30</text>
<path d="M429.39 30.18H431.52M428.9 32.11H432.18M429.39 33.17H432.18M430.05 28.8V33.4M429.16 28.8V33.4M433.39 29.03H435.52M433.39 30.18H435.52M432.9 32.11H435.52M433.16 28.8V33.4M434.54 30.64L432.9 33.4M436.9 29.03H439.52M436.9 30.18H439.52M436.9 32.11H439.52M439.92 29.72V33.4M437.16 28.8V32.71M438.54 30.64L436.9 33.4M441.39 29.03H444.18M440.9 31.1H444.18M441.39 33.17H444.18M441.16 28.8V33.4M442.05 28.8V32.71M442.54 30.64L440.9 33.4M445.39 32.11H448.18M444.9 33.17H448.18M446.05 28.8V33.4M446.7 28.8V33.4M446.54 30.64L448.18 33.4" fill="none" stroke="#111" stroke-width="0.9"/>
<text transform="translate(427.8 45.1) rotate(0)" font-size="8.85" text-anchor="start" fill="#444" font-weight="normal" textLength="9.5" lengthAdjust="spacingAndGlyphs">(1).</text>
<path d="M440.17 41.2H443.39M439.6 44.45H443.39M443.09 40.7V43.95M439.9 39.7V44.7M444.22 41.2H448.01M444.22 42.2H448.01M444.22 43.3H448.01M446.3 39.7V44.7M444.52 39.7V43.95M448.84 39.95H452.63M448.84 41.2H452.63M450.92 39.7V44.7M450.17 39.7V44.7M450.73 41.7L448.84 44.7M453.46 42.2H456.49M453.46 44.45H457.25M456.95 39.7V44.7M455.54 39.7V43.95M455.35 41.7L453.46 44.7M458.65 39.95H461.11M458.65 41.2H461.87M458.65 44.45H461.87M458.38 39.7V44.7M459.41 39.7V44.7M462.7 41.2H465.73M462.7 43.3H466.49M463.27 44.45H466.49M463 39.7V44.7M466.19 40.7V43.95M467.32 39.95H470.35M467.32 42.2H471.11M467.32 44.45H471.11M468.65 39.7V44.7M467.62 39.7V44.7M471.94 39.95H475.73M471.94 42.2H474.97M473.27 39.7V44.7M474.02 39.7V44.7M476.56 39.95H480.35M477.13 44.45H480.35M477.89 39.7V44.7M476.86 40.7V44.7M481.18 41.2H484.21M481.18 42.2H484.97M481.18 44.45H484.97M481.48 40.7V44.7M483.26 39.7V43.95M483.07 41.7L481.18 44.7M485.8 39.95H489.59M486.37 44.45H489.59M489.29 39.7V43.95M487.13 39.7V43.95M490.42 39.95H494.21M490.42 42.2H493.45M493.91 40.7V43.95M495.04 39.95H498.07M495.61 41.2H498.83M495.61 42.2H498.83M498.53 39.7V44.7M496.37 39.7V43.95M496.93 41.7L498.83 44.7M499.66 41.2H502.69M499.66 43.3H503.45M500.99 39.7V44.7M504.28 39.95H508.07M504.28 42.2H508.07M505.61 39.7V43.95M507.77 40.7V44.7M508.9 41.2H512.69M508.9 43.3H511.93M508.9 44.45H511.93M510.98 39.7V44.7M512.39 40.7V43.95M510.79 41.7L508.9 44.7M513.52 39.95H517.31M513.52 41.2H517.31M514.09 43.3H517.31M513.82 40.7V43.95M515.6 40.7V44.7M518.14 41.2H521.93M518.71 43.3H521.93M518.14 44.45H521.17M518.44 39.7V44.7M521.63 39.7V43.95" fill="none" stroke="#222" stroke-width="0.74"/>
<path d="M525.83 41.2H529.05M525.26 43.3H529.05M525.83 44.45H529.05M528.75 39.7V44.7M529.88 42.2H533.67M530.45 43.3H533.67M530.18 39.7V44.7M534.5 42.2H537.53M534.5 44.45H538.29M534.8 39.7V44.7M537.99 40.7V44.7M539.12 39.95H542.91M539.12 41.2H542.15M539.12 44.45H542.15M542.61 39.7V43.95M544.31 42.2H547.53M543.74 43.3H547.53M544.31 44.45H546.77M545.07 40.7V43.95M545.82 39.7V44.7M548.93 39.95H551.39M548.36 41.2H551.39M548.36 42.2H552.15M548.66 39.7V43.95M550.44 39.7V44.7M553.55 43.3H556.01M552.98 44.45H556.77M554.31 39.7V43.95M554.87 41.7L556.77 44.7M557.6 41.2H561.39M557.6 43.3H561.39M558.17 44.45H561.39M558.93 39.7V43.95M559.49 41.7L561.39 44.7M562.22 39.95H566.01M562.22 44.45H566.01M564.3 40.7V44.7M563.55 39.7V43.95M564.11 41.7L566.01 44.7M567.41 39.95H570.63M567.41 42.2H570.63M567.41 44.45H569.87M567.14 40.7V44.7M568.17 40.7V43.95M568.73 41.7L566.84 44.7M571.46 41.2H574.49M572.03 42.2H574.49M571.46 44.45H575.25M573.54 39.7V43.95M571.76 39.7V44.7M573.35 41.7L571.46 44.7M576.08 41.2H579.11M576.08 44.45H579.87M576.38 39.7V43.95M577.41 40.7V44.7M577.97 41.7L576.08 44.7M580.7 41.2H584.49M581.27 42.2H583.73M582.78 40.7V44.7M584.19 39.7V44.7M582.59 41.7L580.7 44.7" fill="none" stroke="#222" stroke-width="0.74"/>
<text transform="translate(585.32 45.1) rotate(0)" font-size="8.85" text-anchor="start" fill="#444" font-weight="normal" textLength="22" lengthAdjust="spacingAndGlyphs">120KPa</text>
<path d="M610.12 39.95H613.91M610.12 43.3H613.91M610.12 44.45H613.91M610.42 39.7V44.7M612.2 40.7V44.7M612.01 41.7L610.12 44.7M615.31 41.2H618.53M614.74 43.3H618.53M615.31 44.45H618.53M615.04 39.7V44.7M616.63 41.7L618.53 44.7M619.93 39.95H623.15M619.36 42.2H622.39M619.36 43.3H623.15M622.85 40.7V43.95M621.25 41.7L623.15 44.7M624.55 39.95H627.77M623.98 42.2H627.77M623.98 44.45H627.01M626.06 39.7V44.7M625.31 39.7V43.95M625.87 41.7L627.77 44.7M628.6 39.95H631.63M629.17 43.3H632.39M628.6 44.45H632.39M630.68 39.7V43.95M629.93 39.7V43.95M630.49 41.7L628.6 44.7M633.22 42.2H636.25M633.22 43.3H637.01M633.79 44.45H637.01M633.52 40.7V44.7M635.11 41.7L637.01 44.7M637.84 39.95H641.63M637.84 41.2H641.63M637.84 42.2H641.63M641.33 40.7V44.7M639.92 40.7V44.7M642.46 39.95H646.25M642.46 44.45H646.25M645.95 40.7V43.95M647.65 41.2H650.87M647.65 43.3H650.87M647.08 44.45H650.11M650.57 39.7V43.95M649.16 39.7V43.95" fill="none" stroke="#222" stroke-width="0.74"/>
<text transform="translate(651.7 45.1) rotate(0)" font-size="8.85" text-anchor="start" fill="#444" font-weight="normal" textLength="12.5" lengthAdjust="spacingAndGlyphs">0.94</text>
<path d="M665.57 39.95H668.79M665.57 43.3H668.79M665 44.45H668.03M665.3 40.7V44.7M666.33 39.7V43.95" fill="none" stroke="#222" stroke-width="0.74"/>
<path d="M672.69 39.95H675.91M672.12 41.2H675.91M672.12 43.3H675.15M675.61 39.7V44.7M676.74 39.95H680.53M676.74 43.3H680.53M678.07 39.7V44.7M677.04 39.7V43.95M678.63 41.7L680.53 44.7M681.93 41.2H684.39M681.36 43.3H685.15M681.93 44.45H685.15M684.85 39.7V43.95M685.98 41.2H689.01M686.55 42.2H689.01M686.55 44.45H689.01M687.31 39.7V44.7M688.06 39.7V44.7M690.6 39.95H694.39M690.6 41.2H694.39M690.6 42.2H694.39M690.9 39.7V43.95M694.09 39.7V44.7M695.22 41.2H699.01M695.22 42.2H699.01M695.22 44.45H699.01M698.71 39.7V44.7M697.3 39.7V44.7M700.41 41.2H703.63M699.84 43.3H703.63M699.84 44.45H703.63M701.92 40.7V43.95M701.17 39.7V44.7M704.46 39.95H707.49M704.46 41.2H708.25M705.03 43.3H707.49M707.95 39.7V44.7M705.79 39.7V44.7" fill="none" stroke="#222" stroke-width="0.74"/>
<text transform="translate(427.8 53.5) rotate(0)" font-size="8.85" text-anchor="start" fill="#444" font-weight="normal" textLength="9.5" lengthAdjust="spacingAndGlyphs">(2).</text>
<path d="M440.17 48.35H442.63M439.6 49.6H443.39M439.6 50.6H443.39M441.68 48.1V53.1M440.93 49.1V53.1M444.22 50.6H448.01M444.22 51.7H448.01M444.22 52.85H447.25M445.55 48.1V53.1M444.52 48.1V53.1M449.41 49.6H452.63M448.84 50.6H451.87M448.84 51.7H451.87M450.17 48.1V53.1M449.14 48.1V53.1M450.73 50.1L448.84 53.1M454.03 48.35H457.25M453.46 49.6H456.49M454.03 50.6H457.25M453.76 48.1V53.1M454.79 49.1V53.1M458.08 48.35H461.11M458.65 49.6H461.87M459.41 48.1V52.35M459.97 50.1L461.87 53.1M463.27 49.6H466.49M462.7 50.6H466.49M463.27 52.85H465.73M463 48.1V52.35M464.59 50.1L462.7 53.1M467.89 48.35H471.11M467.89 50.6H471.11M467.89 51.7H471.11M470.81 48.1V53.1M469.21 50.1L467.32 53.1M471.94 49.6H475.73M471.94 51.7H474.97M471.94 52.85H475.73M475.43 48.1V52.35M473.83 50.1L471.94 53.1M476.56 48.35H479.59M476.56 51.7H480.35M476.86 48.1V53.1M480.05 48.1V52.35M478.45 50.1L480.35 53.1M481.18 49.6H484.97M481.18 51.7H484.97M481.18 52.85H484.21M484.67 48.1V53.1M482.51 48.1V52.35M485.8 49.6H489.59M485.8 51.7H489.59M487.88 49.1V53.1M486.1 48.1V53.1M490.42 49.6H494.21M490.42 50.6H494.21M490.42 51.7H494.21M491.75 49.1V52.35M492.5 48.1V52.35M495.04 49.6H498.83M495.04 52.85H498.83M497.12 48.1V52.35M499.66 51.7H502.69M500.23 52.85H502.69M501.74 48.1V53.1M499.96 48.1V52.35M501.55 50.1L503.45 53.1M504.85 48.35H508.07M504.28 51.7H508.07M506.36 48.1V52.35M505.61 48.1V53.1M509.47 48.35H512.69M508.9 50.6H511.93M512.39 48.1V52.35M510.98 48.1V53.1M514.09 49.6H517.31M513.52 51.7H517.31M514.09 52.85H517.31M514.85 49.1V53.1M517.01 49.1V52.35M515.41 50.1L517.31 53.1M518.14 48.35H521.93M518.14 49.6H521.17M518.14 52.85H521.93M520.22 48.1V52.35M521.63 49.1V53.1M520.03 50.1L521.93 53.1M523.33 48.35H526.55M522.76 49.6H525.79M524.09 48.1V53.1M523.06 48.1V53.1M527.38 48.35H531.17M527.38 49.6H531.17M527.68 48.1V52.35M528.71 48.1V52.35M529.27 50.1L527.38 53.1M532 49.6H535.03M532 51.7H535.03M532 52.85H535.03M534.08 49.1V52.35M532.3 49.1V53.1M533.89 50.1L532 53.1" fill="none" stroke="#222" stroke-width="0.74"/>
<text transform="translate(536.62 53.5) rotate(0)" font-size="8.85" text-anchor="start" fill="#444" font-weight="normal" textLength="42" lengthAdjust="spacingAndGlyphs">GB50661-2011</text>
<path d="M579.99 48.35H583.21M579.42 50.6H582.45M579.42 51.7H583.21M580.75 48.1V52.35M584.61 49.6H587.07M584.04 50.6H587.07M584.61 51.7H587.83M585.37 48.1V52.35M586.12 49.1V53.1M589.23 49.6H592.45M589.23 51.7H592.45M588.96 48.1V53.1M589.99 48.1V53.1M593.85 48.35H597.07M593.28 49.6H596.31M594.61 48.1V53.1M593.58 49.1V53.1M595.17 50.1L597.07 53.1M597.9 48.35H601.69M597.9 49.6H601.69M599.23 49.1V52.35M601.39 48.1V52.35M602.52 49.6H606.31M602.52 52.85H606.31M606.01 49.1V53.1M602.82 48.1V53.1M607.71 48.35H610.93M607.71 49.6H610.17M607.14 50.6H610.93M607.44 48.1V53.1M608.47 49.1V52.35M612.33 49.6H615.55M611.76 50.6H615.55M612.33 51.7H615.55M613.84 49.1V53.1M615.25 48.1V53.1M613.65 50.1L611.76 53.1M616.38 50.6H619.41M616.38 51.7H620.17M616.95 52.85H620.17M616.68 48.1V53.1M621 48.35H624.03M621 50.6H624.03M621 51.7H624.03M622.33 49.1V52.35M621.3 48.1V52.35M622.89 50.1L621 53.1" fill="none" stroke="#222" stroke-width="0.74"/>
<path d="M627.62 48.35H631.41M628.19 51.7H631.41M631.11 48.1V53.1M629.51 50.1L631.41 53.1M632.24 49.6H636.03M632.24 50.6H635.27M633.57 49.1V52.35M635.73 48.1V53.1M634.13 50.1L636.03 53.1M636.86 49.6H640.65M636.86 50.6H640.65M636.86 52.85H639.89M638.19 48.1V53.1M642.05 49.6H644.51M641.48 52.85H645.27M641.78 48.1V52.35M646.67 49.6H649.89M646.1 51.7H649.89M646.1 52.85H649.89M646.4 49.1V53.1M648.18 48.1V53.1M651.29 49.6H653.75M650.72 50.6H653.75M651.29 52.85H654.51M652.05 48.1V53.1M652.8 48.1V52.35M655.34 48.35H658.37M655.34 50.6H659.13M655.91 51.7H658.37M657.42 49.1V53.1M656.67 48.1V53.1M659.96 49.6H662.99M660.53 52.85H663.75M661.29 48.1V52.35M661.85 50.1L663.75 53.1" fill="none" stroke="#222" stroke-width="0.74"/>
<path d="M666.58 48.35H670.37M667.15 51.7H669.61M668.66 48.1V53.1M670.07 49.1V53.1M671.2 49.6H674.99M671.77 50.6H674.99M671.2 52.85H674.23M673.28 49.1V53.1M674.69 48.1V53.1M675.82 49.6H679.61M676.39 51.7H678.85M675.82 52.85H678.85M677.15 48.1V52.35M679.31 48.1V52.35M677.71 50.1L679.61 53.1M680.44 48.35H684.23M680.44 50.6H683.47M681.01 51.7H683.47M681.77 48.1V53.1M682.52 48.1V53.1M682.33 50.1L684.23 53.1M685.06 50.6H688.85M685.63 51.7H688.09M685.06 52.85H688.85M686.39 48.1V52.35M685.36 49.1V52.35" fill="none" stroke="#222" stroke-width="0.74"/>
<path d="M691.68 50.6H695.47M692.25 51.7H695.47M691.98 48.1V52.35M695.17 48.1V53.1M696.3 48.35H699.33M696.3 51.7H700.09M696.3 52.85H699.33M699.79 48.1V53.1M697.63 49.1V52.35M700.92 49.6H704.71M701.49 51.7H704.71M700.92 52.85H704.71M702.25 48.1V53.1M702.81 50.1L700.92 53.1M706.11 49.6H708.57M705.54 51.7H708.57M706.87 48.1V53.1M709.03 48.1V53.1M710.16 50.6H713.95M710.73 51.7H713.95M711.49 48.1V52.35M713.65 48.1V53.1M712.05 50.1L713.95 53.1" fill="none" stroke="#222" stroke-width="0.74"/>
<text transform="translate(427.8 64) rotate(0)" font-size="8.85" text-anchor="start" fill="#444" font-weight="normal" textLength="9.5" lengthAdjust="spacingAndGlyphs">(3).</text>
<path d="M440.17 58.85H443.39M439.6 60.1H443.39M439.6 62.2H442.63M441.68 59.6V63.6M440.93 59.6V63.6M444.22 60.1H448.01M444.22 62.2H448.01M444.79 63.35H448.01M445.55 59.6V63.6M446.11 60.6L448.01 63.6M448.84 58.85H452.63M449.41 60.1H451.87M448.84 62.2H452.63M450.17 58.6V63.6M452.33 58.6V62.85M453.46 60.1H457.25M453.46 61.1H456.49M454.79 59.6V62.85M455.54 58.6V63.6M458.08 58.85H461.11M458.65 60.1H461.87M458.08 62.2H461.87M460.16 58.6V63.6M458.38 58.6V63.6M463.27 58.85H465.73M462.7 63.35H465.73M464.78 59.6V62.85M464.59 60.6L462.7 63.6M467.32 58.85H470.35M467.32 60.1H471.11M467.32 61.1H471.11M470.81 58.6V63.6M467.62 58.6V63.6M469.21 60.6L471.11 63.6M471.94 60.1H475.73M471.94 62.2H475.73M473.27 58.6V62.85M474.02 58.6V63.6M477.13 61.1H480.35M477.13 62.2H480.35M476.56 63.35H480.35M476.86 58.6V63.6M477.89 58.6V63.6M481.18 60.1H484.97M481.18 61.1H484.97M481.18 62.2H484.97M483.26 59.6V63.6M482.51 59.6V63.6M483.07 60.6L484.97 63.6M486.37 58.85H489.59M486.37 60.1H488.83M485.8 63.35H488.83M486.1 58.6V63.6M487.13 58.6V63.6M490.99 58.85H494.21M490.42 60.1H494.21M490.42 61.1H494.21M491.75 59.6V63.6M492.31 60.6L494.21 63.6M495.04 60.1H498.07M495.04 61.1H498.83M495.04 63.35H498.07M495.34 59.6V62.85M497.12 58.6V63.6M496.93 60.6L495.04 63.6M499.66 60.1H503.45M499.66 61.1H503.45M499.66 62.2H502.69M503.15 58.6V63.6M501.74 58.6V63.6M501.55 60.6L503.45 63.6M504.28 60.1H507.31M504.28 61.1H507.31M505.61 58.6V63.6M504.58 59.6V63.6M506.17 60.6L508.07 63.6M509.47 58.85H512.69M508.9 62.2H512.69M508.9 63.35H512.69M512.39 59.6V62.85M510.23 58.6V63.6M514.09 58.85H517.31M514.09 60.1H517.31M514.09 61.1H516.55M515.6 58.6V63.6M515.41 60.6L517.31 63.6M518.14 58.85H521.17M518.71 60.1H521.93M520.22 58.6V62.85M519.47 59.6V63.6M520.03 60.6L518.14 63.6" fill="none" stroke="#222" stroke-width="0.74"/>
<path d="M524.76 58.85H528.55M524.76 60.1H528.55M525.06 58.6V63.6M526.09 59.6V63.6M526.65 60.6L524.76 63.6M529.38 58.85H532.41M529.95 61.1H533.17M529.38 62.2H532.41M530.71 58.6V63.6M531.46 58.6V63.6M534 60.1H537.79M534 61.1H537.79M534 62.2H537.03M535.33 59.6V63.6M537.49 58.6V63.6M535.89 60.6L537.79 63.6" fill="none" stroke="#222" stroke-width="0.74"/>
<path d="M541.19 61.1H544.41M540.62 63.35H544.41M542.7 59.6V63.6M542.51 60.6L544.41 63.6M545.24 60.1H549.03M545.24 62.2H549.03M545.81 63.35H549.03M545.54 59.6V62.85M548.73 59.6V62.85M547.13 60.6L545.24 63.6M550.43 60.1H553.65M549.86 61.1H553.65M549.86 62.2H552.89M550.16 58.6V63.6M551.75 60.6L553.65 63.6M554.48 62.2H558.27M554.48 63.35H558.27M556.56 58.6V62.85M556.37 60.6L558.27 63.6M559.67 58.85H562.89M559.1 60.1H562.13M559.1 62.2H562.89M560.43 58.6V63.6M559.4 59.6V63.6M563.72 60.1H567.51M563.72 61.1H566.75M563.72 62.2H566.75M565.8 58.6V63.6" fill="none" stroke="#222" stroke-width="0.74"/>
<path d="M569.91 58.85H573.13M569.91 60.1H573.13M571.42 58.6V63.6M571.23 60.6L573.13 63.6M573.96 58.85H577.75M574.53 62.2H577.75M574.26 59.6V63.6M575.29 58.6V63.6M575.85 60.6L573.96 63.6M578.58 60.1H582.37M578.58 61.1H581.61M578.58 62.2H582.37M582.07 58.6V63.6M583.77 58.85H586.23M583.2 60.1H586.23M583.2 61.1H586.99M585.28 59.6V62.85M584.53 58.6V62.85M587.82 58.85H590.85M587.82 62.2H591.61M589.15 59.6V62.85M591.31 59.6V63.6M592.44 62.2H596.23M593.01 63.35H596.23M592.74 58.6V62.85M593.77 58.6V63.6M597.63 58.85H600.85M597.63 61.1H600.85M597.06 63.35H600.85M597.36 58.6V62.85M600.55 58.6V63.6" fill="none" stroke="#222" stroke-width="0.74"/>
<text transform="translate(601.68 64) rotate(0)" font-size="8.85" text-anchor="start" fill="#444" font-weight="normal" textLength="15" lengthAdjust="spacingAndGlyphs">Sa2.5</text>
<path d="M617.48 58.85H621.27M618.05 61.1H621.27M617.48 63.35H620.51M620.97 59.6V63.6M617.78 58.6V63.6M619.37 60.6L617.48 63.6M622.1 58.85H625.89M622.1 62.2H625.89M622.4 58.6V63.6M623.99 60.6L625.89 63.6" fill="none" stroke="#222" stroke-width="0.74"/>
<text transform="translate(626.72 64) rotate(0)" font-size="8.85" text-anchor="start" fill="#444" font-weight="normal" textLength="8.5" lengthAdjust="spacingAndGlyphs">St3</text>
<path d="M636.02 60.1H639.81M636.02 61.1H639.81M639.51 59.6V62.85M636.32 58.6V63.6M637.91 60.6L636.02 63.6" fill="none" stroke="#222" stroke-width="0.74"/>
<path d="M643.21 60.1H646.43M642.64 61.1H646.43M642.64 63.35H645.67M644.72 59.6V63.6M646.13 59.6V63.6M644.53 60.6L642.64 63.6M647.26 62.2H651.05M647.26 63.35H651.05M649.34 59.6V63.6M650.75 58.6V63.6M649.15 60.6L647.26 63.6M651.88 60.1H655.67M651.88 61.1H655.67M652.45 63.35H655.67M653.96 58.6V63.6M655.37 58.6V63.6M656.5 61.1H660.29M657.07 62.2H660.29M656.8 58.6V62.85M657.83 59.6V63.6M658.39 60.6L660.29 63.6M661.12 60.1H664.91M661.69 61.1H664.91M661.12 62.2H664.91M663.2 58.6V62.85M664.61 58.6V63.6M665.74 60.1H669.53M665.74 63.35H669.53M667.82 58.6V63.6M667.07 58.6V63.6M670.36 58.85H674.15M670.36 60.1H674.15M670.36 63.35H674.15M672.44 59.6V62.85M670.66 58.6V63.6M672.25 60.6L670.36 63.6M675.55 60.1H678.01M675.55 61.1H678.77M674.98 63.35H678.77M678.47 59.6V62.85M675.28 59.6V63.6M680.17 62.2H683.39M680.17 63.35H682.63M683.09 58.6V63.6" fill="none" stroke="#222" stroke-width="0.74"/>
<text transform="translate(684.22 64) rotate(0)" font-size="8.85" text-anchor="start" fill="#444" font-weight="normal" textLength="2" lengthAdjust="spacingAndGlyphs">(</text>
<path d="M687.02 58.85H690.05M687.59 63.35H690.05M689.1 59.6V63.6M690.51 58.6V63.6M688.91 60.6L687.02 63.6M691.64 58.85H695.43M692.21 61.1H694.67M692.21 62.2H695.43M693.72 59.6V62.85M693.53 60.6L691.64 63.6M696.26 58.85H700.05M696.26 61.1H700.05M699.75 58.6V63.6M697.59 59.6V63.6M698.15 60.6L696.26 63.6M700.88 58.85H704.67M701.45 60.1H703.91M700.88 61.1H704.67M701.18 58.6V63.6M702.21 58.6V63.6M706.07 60.1H708.53M705.5 62.2H709.29M705.5 63.35H709.29M705.8 58.6V63.6M706.83 58.6V63.6M707.39 60.6L705.5 63.6M710.12 60.1H713.15M710.69 61.1H713.91M710.69 62.2H713.15M713.61 59.6V63.6M712.01 60.6L713.91 63.6" fill="none" stroke="#222" stroke-width="0.74"/>
<text transform="translate(714.74 64) rotate(0)" font-size="8.85" text-anchor="start" fill="#444" font-weight="normal" textLength="19" lengthAdjust="spacingAndGlyphs">60 μm);</text>
<path d="M735.54 58.85H739.33M735.54 61.1H739.33M739.03 58.6V63.6M736.87 58.6V63.6M740.73 60.1H743.95M740.16 62.2H743.95M740.46 58.6V63.6M742.24 58.6V63.6M742.05 60.6L740.16 63.6M744.78 61.1H748.57M744.78 62.2H747.81M744.78 63.35H748.57M746.86 58.6V62.85M745.08 59.6V63.6M749.4 58.85H753.19M749.4 63.35H753.19M751.48 58.6V63.6M749.7 58.6V62.85M751.29 60.6L753.19 63.6M754.02 58.85H757.05M754.59 61.1H757.81M754.02 62.2H757.81M756.1 58.6V63.6M755.91 60.6L754.02 63.6M758.64 58.85H762.43M759.21 60.1H762.43M759.21 61.1H762.43M758.94 59.6V63.6M760.72 59.6V62.85M760.53 60.6L762.43 63.6M763.26 58.85H767.05M763.83 61.1H767.05M763.26 62.2H767.05M766.75 58.6V63.6M763.56 59.6V62.85M765.15 60.6L763.26 63.6M767.88 58.85H771.67M767.88 61.1H770.91M768.45 63.35H770.91M769.21 58.6V63.6M769.77 60.6L767.88 63.6" fill="none" stroke="#222" stroke-width="0.74"/>
<path d="M428.9 70.6H432.69M428.9 71.6H432.69M430.23 70.1V74.1M430.98 69.1V74.1M434.09 69.35H436.55M433.52 72.7H436.55M433.52 73.85H437.31M435.6 69.1V73.35M435.41 71.1L437.31 74.1M438.71 70.6H441.93M438.14 72.7H441.17M438.14 73.85H441.93M441.63 69.1V73.35M440.03 71.1L441.93 74.1" fill="none" stroke="#222" stroke-width="0.74"/>
<text transform="translate(442.76 74.5) rotate(0)" font-size="8.85" text-anchor="start" fill="#444" font-weight="normal" textLength="2" lengthAdjust="spacingAndGlyphs">(</text>
<path d="M445.56 69.35H449.35M445.56 71.6H448.59M445.56 73.85H449.35M445.86 69.1V74.1M447.64 70.1V74.1M447.45 71.1L445.56 74.1M450.75 69.35H453.97M450.75 70.6H453.97M452.26 70.1V74.1M454.8 70.6H458.59M454.8 72.7H458.59M454.8 73.85H458.59M456.88 69.1V74.1M459.42 70.6H463.21M459.42 71.6H462.45M459.42 72.7H462.45M461.5 69.1V74.1M459.72 69.1V74.1M464.61 70.6H467.83M464.04 71.6H467.83M464.04 73.85H467.83M466.12 69.1V73.35M465.93 71.1L467.83 74.1M469.23 70.6H472.45M469.23 73.85H471.69M470.74 69.1V74.1M470.55 71.1L472.45 74.1" fill="none" stroke="#222" stroke-width="0.74"/>
<text transform="translate(473.28 74.5) rotate(0)" font-size="8.85" text-anchor="start" fill="#444" font-weight="normal" textLength="19" lengthAdjust="spacingAndGlyphs">70 μm);</text>
<path d="M494.08 70.6H497.11M494.08 72.7H497.87M494.65 73.85H497.87M496.16 70.1V74.1M497.57 69.1V74.1M498.7 69.35H502.49M498.7 73.85H501.73M500.03 69.1V74.1M500.59 71.1L498.7 74.1M503.32 69.35H507.11M503.89 70.6H507.11M503.62 70.1V73.35M504.65 69.1V74.1M508.51 69.35H511.73M507.94 72.7H511.73M507.94 73.85H511.73M511.43 69.1V73.35M512.56 69.35H516.35M512.56 70.6H515.59M512.56 72.7H516.35M513.89 69.1V73.35M516.05 69.1V73.35M517.18 69.35H520.21M517.18 71.6H520.97M517.18 73.85H520.97M519.26 69.1V74.1M517.48 69.1V74.1M521.8 69.35H525.59M521.8 72.7H525.59M521.8 73.85H525.59M523.88 69.1V74.1M522.1 69.1V74.1M523.69 71.1L525.59 74.1M526.99 70.6H530.21M526.42 71.6H530.21M526.42 73.85H530.21M528.5 69.1V74.1M528.31 71.1L530.21 74.1M531.61 70.6H534.07M531.61 71.6H534.83M531.34 69.1V74.1M534.53 69.1V74.1M536.23 69.35H539.45M535.66 70.6H538.69M536.23 72.7H539.45M536.99 69.1V73.35M535.96 69.1V74.1M540.28 69.35H544.07M540.85 72.7H544.07M541.61 69.1V73.35M543.77 70.1V73.35M542.17 71.1L540.28 74.1M544.9 69.35H548.69M544.9 72.7H548.69M545.2 69.1V74.1M549.52 71.6H553.31M549.52 73.85H552.55M549.82 69.1V74.1M553.01 70.1V73.35M551.41 71.1L553.31 74.1M554.14 69.35H557.93M554.14 70.6H557.17M554.14 71.6H557.17M554.44 69.1V74.1M556.03 71.1L554.14 74.1" fill="none" stroke="#222" stroke-width="0.74"/>
<text transform="translate(558.76 74.5) rotate(0)" font-size="8.85" text-anchor="start" fill="#444" font-weight="normal" textLength="2" lengthAdjust="spacingAndGlyphs">(</text>
<path d="M561.56 71.6H565.35M561.56 72.7H564.59M561.56 73.85H565.35M563.64 70.1V73.35M563.45 71.1L565.35 74.1M566.18 69.35H569.21M566.18 70.6H569.97M566.75 73.85H569.97M566.48 69.1V74.1M569.67 70.1V74.1M568.07 71.1L569.97 74.1M570.8 69.35H574.59M570.8 71.6H573.83M570.8 73.85H574.59M572.13 69.1V74.1M575.42 69.35H579.21M575.42 72.7H579.21M575.72 69.1V73.35M576.75 70.1V74.1M580.04 69.35H583.83M580.61 71.6H583.07M580.61 73.85H583.83M583.53 69.1V74.1M581.37 69.1V73.35M585.23 70.6H588.45M584.66 71.6H587.69M584.66 72.7H588.45M588.15 70.1V74.1M584.96 69.1V73.35M586.55 71.1L584.66 74.1" fill="none" stroke="#222" stroke-width="0.74"/>
<text transform="translate(589.28 74.5) rotate(0)" font-size="8.85" text-anchor="start" fill="#444" font-weight="normal" textLength="19" lengthAdjust="spacingAndGlyphs">80 μm),</text>
<path d="M610.65 69.35H613.11M610.65 70.6H613.87M610.65 72.7H613.87M613.57 69.1V74.1M611.41 70.1V73.35M614.7 69.35H617.73M614.7 71.6H618.49M616.03 69.1V73.35M615 69.1V74.1M616.59 71.1L614.7 74.1M619.32 72.7H623.11M619.32 73.85H622.35M619.62 69.1V73.35M620.65 69.1V74.1M621.21 71.1L623.11 74.1M624.51 71.6H626.97M624.51 73.85H627.73M625.27 70.1V74.1M629.13 70.6H632.35M628.56 71.6H632.35M628.56 73.85H632.35M629.89 69.1V73.35M628.86 70.1V74.1M630.45 71.1L632.35 74.1M633.18 69.35H636.97M633.18 70.6H636.97M633.18 73.85H636.97M635.26 70.1V73.35M636.67 69.1V73.35M637.8 72.7H641.59M638.37 73.85H641.59M641.29 69.1V73.35M638.1 69.1V74.1M639.69 71.1L637.8 74.1M642.99 70.6H646.21M642.99 71.6H646.21M642.99 73.85H646.21M645.91 70.1V74.1M643.75 69.1V73.35M644.31 71.1L642.42 74.1M647.04 69.35H650.07M647.61 71.6H650.07M647.04 72.7H650.83M649.12 69.1V74.1M648.93 71.1L650.83 74.1M652.23 69.35H654.69M651.66 73.85H655.45M652.99 69.1V73.35M655.15 69.1V74.1M653.55 71.1L655.45 74.1M656.28 69.35H660.07M656.85 71.6H659.31M659.77 69.1V74.1M656.58 69.1V74.1M658.17 71.1L660.07 74.1" fill="none" stroke="#222" stroke-width="0.74"/>
<text transform="translate(660.9 74.5) rotate(0)" font-size="8.85" text-anchor="start" fill="#444" font-weight="normal" textLength="23" lengthAdjust="spacingAndGlyphs">210 μm.</text>
<text transform="translate(427.8 83.1) rotate(0)" font-size="8.85" text-anchor="start" fill="#444" font-weight="normal" textLength="9.5" lengthAdjust="spacingAndGlyphs">(4).</text>
<path d="M440.17 80.2H443.39M439.6 81.3H442.63M439.6 82.45H443.39M439.9 78.7V82.7M441.49 79.7L443.39 82.7M444.79 79.2H448.01M444.79 80.2H448.01M444.22 82.45H448.01M444.52 77.7V82.7M445.55 77.7V81.95M446.11 79.7L448.01 82.7M448.84 77.95H452.63M449.41 81.3H451.87M448.84 82.45H452.63M450.17 78.7V82.7M450.92 77.7V82.7M454.03 77.95H457.25M453.46 79.2H457.25M453.76 77.7V81.95M455.54 77.7V81.95M455.35 79.7L453.46 82.7M458.08 80.2H461.87M458.08 81.3H461.87M458.08 82.45H461.11M461.57 77.7V82.7M460.16 77.7V82.7M462.7 77.95H465.73M462.7 80.2H466.49M462.7 81.3H466.49M464.03 77.7V82.7M464.78 77.7V81.95" fill="none" stroke="#222" stroke-width="0.74"/>
<path d="M468.82 80.2H471.85M469.39 81.3H472.61M469.39 82.45H472.61M470.15 77.7V81.95M472.31 78.7V81.95M474.01 77.95H477.23M473.44 81.3H476.47M473.44 82.45H476.47M475.52 78.7V82.7M476.93 77.7V82.7M475.33 79.7L477.23 82.7M478.06 77.95H481.85M478.06 81.3H481.09M478.06 82.45H481.85M478.36 78.7V82.7M481.55 77.7V81.95M482.68 80.2H486.47M482.68 81.3H485.71M483.25 82.45H485.71M484.01 77.7V81.95M482.98 77.7V81.95M487.87 80.2H491.09M487.3 82.45H491.09M490.79 77.7V82.7M489.38 77.7V81.95M489.19 79.7L487.3 82.7M491.92 80.2H495.71M491.92 81.3H495.71M491.92 82.45H495.71M494 78.7V81.95M493.81 79.7L495.71 82.7M496.54 80.2H500.33M497.11 81.3H499.57M496.84 77.7V82.7M498.62 78.7V82.7M498.43 79.7L500.33 82.7" fill="none" stroke="#222" stroke-width="0.74"/>
<text transform="translate(501.16 83.1) rotate(0)" font-size="8.85" text-anchor="start" fill="#444" font-weight="normal" textLength="8.5" lengthAdjust="spacingAndGlyphs">St3</text>
<path d="M510.46 77.95H514.25M510.46 79.2H514.25M511.03 82.45H514.25M511.79 77.7V82.7M513.95 77.7V81.95M515.65 77.95H518.11M515.08 80.2H518.11M515.08 82.45H518.87M518.57 78.7V82.7M516.97 79.7L518.87 82.7" fill="none" stroke="#222" stroke-width="0.74"/>
<text transform="translate(427.8 93.5) rotate(0)" font-size="8.85" text-anchor="start" fill="#444" font-weight="normal" textLength="9.5" lengthAdjust="spacingAndGlyphs">(5).</text>
<path d="M440.17 88.35H443.39M440.17 90.6H442.63M439.6 92.85H443.39M441.68 88.1V93.1M440.93 88.1V92.35M444.79 90.6H447.25M444.22 91.7H448.01M445.55 88.1V93.1M447.71 88.1V93.1M448.84 88.35H452.63M448.84 92.85H451.87M452.33 89.1V93.1M450.92 88.1V93.1M450.73 90.1L448.84 93.1M453.46 88.35H456.49M454.03 90.6H457.25M453.46 92.85H457.25M454.79 88.1V93.1M455.54 88.1V93.1M455.35 90.1L457.25 93.1M458.08 88.35H461.87M458.08 90.6H461.11M458.08 91.7H461.87M458.38 88.1V93.1M459.97 90.1L458.08 93.1M463.27 90.6H465.73M462.7 91.7H466.49M462.7 92.85H466.49M464.78 88.1V92.35M464.03 89.1V92.35M467.32 88.35H471.11M467.32 90.6H471.11M467.62 88.1V93.1M469.4 89.1V93.1M469.21 90.1L471.11 93.1" fill="none" stroke="#222" stroke-width="0.74"/>
<path d="M473.94 88.35H476.97M474.51 90.6H477.73M474.51 91.7H476.97M474.24 88.1V93.1M479.13 90.6H482.35M478.56 91.7H482.35M479.13 92.85H482.35M478.86 88.1V93.1M483.18 88.35H486.21M483.75 90.6H486.21M483.18 91.7H486.21M484.51 88.1V92.35M483.48 88.1V92.35M485.07 90.1L486.97 93.1M488.37 90.6H490.83M487.8 91.7H491.59M487.8 92.85H490.83M489.13 88.1V93.1M489.88 88.1V93.1M489.69 90.1L487.8 93.1M492.99 88.35H496.21M492.42 89.6H496.21M492.42 90.6H496.21M493.75 89.1V93.1M492.72 89.1V93.1M497.04 90.6H500.83M497.61 91.7H500.83M497.61 92.85H500.83M497.34 88.1V93.1M499.12 89.1V93.1M498.93 90.1L497.04 93.1" fill="none" stroke="#222" stroke-width="0.74"/>
<text transform="translate(427.8 104.2) rotate(0)" font-size="8.85" text-anchor="start" fill="#444" font-weight="normal" textLength="9.5" lengthAdjust="spacingAndGlyphs">(6).</text>
<path d="M440.17 99.05H443.39M439.6 102.4H443.39M440.17 103.55H443.39M441.68 98.8V103.05M441.49 100.8L443.39 103.8M444.22 99.05H448.01M444.22 101.3H448.01M444.22 102.4H448.01M447.71 99.8V103.8M444.52 98.8V103.8M446.11 100.8L448.01 103.8M449.41 99.05H451.87M449.41 101.3H452.63M448.84 102.4H451.87M452.33 99.8V103.05M453.46 100.3H456.49M453.46 102.4H457.25M453.76 98.8V103.8M456.95 98.8V103.8M458.65 100.3H461.87M458.08 102.4H461.87M458.08 103.55H461.87M458.38 98.8V103.8M462.7 99.05H466.49M462.7 100.3H465.73M462.7 101.3H465.73M464.03 98.8V103.8M464.59 100.8L462.7 103.8M467.89 99.05H471.11M467.32 100.3H471.11M467.89 101.3H471.11M468.65 99.8V103.05M470.81 99.8V103.8M469.21 100.8L471.11 103.8M471.94 99.05H475.73M471.94 102.4H474.97M471.94 103.55H475.73M474.02 98.8V103.8M475.43 98.8V103.05M476.56 99.05H480.35M476.56 100.3H480.35M476.56 103.55H479.59M477.89 98.8V103.8M478.64 98.8V103.8M481.75 101.3H484.21M481.75 102.4H484.21M483.26 98.8V103.05M481.48 98.8V103.05M483.07 100.8L484.97 103.8" fill="none" stroke="#222" stroke-width="0.74"/>
<text transform="translate(485.8 104.2) rotate(0)" font-size="8.85" text-anchor="start" fill="#444" font-weight="normal" textLength="16" lengthAdjust="spacingAndGlyphs">MU10</text>
<path d="M507.17 99.05H510.39M506.6 102.4H509.63M507.17 103.55H510.39M508.68 99.8V103.8M508.49 100.8L510.39 103.8M511.22 99.05H514.25M511.79 101.3H514.25M511.22 103.55H514.25M512.55 99.8V103.05M514.71 98.8V103.05M513.11 100.8L511.22 103.8M515.84 99.05H519.63M516.41 101.3H518.87M515.84 102.4H519.63M517.17 98.8V103.05M519.33 98.8V103.8M520.46 101.3H524.25M520.46 102.4H523.49M521.03 103.55H524.25M521.79 98.8V103.8M522.54 99.8V103.05M522.35 100.8L520.46 103.8M525.65 100.3H528.87M525.65 101.3H528.11M525.65 102.4H528.87M525.38 98.8V103.8M526.41 98.8V103.8M529.7 100.3H533.49M530.27 101.3H532.73M529.7 102.4H533.49M530 98.8V103.05M531.59 100.8L529.7 103.8M534.32 101.3H538.11M534.89 103.55H537.35M534.62 99.8V103.05M535.65 99.8V103.8M539.51 99.05H541.97M538.94 100.3H542.73M538.94 103.55H542.73M542.43 98.8V103.8M540.27 98.8V103.8M543.56 100.3H547.35M544.13 101.3H547.35M543.56 103.55H546.59M543.86 98.8V103.8M545.64 98.8V103.05M548.75 100.3H551.97M548.18 102.4H551.97M548.18 103.55H551.97M551.67 98.8V103.05M550.26 98.8V103.8M550.07 100.8L551.97 103.8" fill="none" stroke="#222" stroke-width="0.74"/>
<text transform="translate(552.8 104.2) rotate(0)" font-size="8.85" text-anchor="start" fill="#444" font-weight="normal" textLength="14.5" lengthAdjust="spacingAndGlyphs">M7.5</text>
<path d="M571.1 100.3H574.89M571.67 103.55H574.89M573.18 98.8V103.05M572.43 98.8V103.8" fill="none" stroke="#222" stroke-width="0.74"/>
<text transform="translate(427.8 114.8) rotate(0)" font-size="8.85" text-anchor="start" fill="#444" font-weight="normal" textLength="9.5" lengthAdjust="spacingAndGlyphs">(7).</text>
<path d="M439.6 109.65H443.39M440.17 110.9H442.63M439.6 114.15H442.63M440.93 109.4V114.4M439.9 109.4V113.65M444.22 109.65H448.01M444.22 111.9H448.01M444.79 113H448.01M446.3 109.4V114.4M445.55 109.4V113.65M446.11 111.4L448.01 114.4M449.41 109.65H452.63M448.84 111.9H452.63M448.84 113H451.87M450.92 109.4V113.65M450.73 111.4L448.84 114.4M454.03 110.9H456.49M453.46 111.9H457.25M453.46 114.15H456.49M455.54 110.4V113.65M453.76 109.4V114.4M455.35 111.4L457.25 114.4M458.08 109.65H461.11M458.08 110.9H461.87M458.08 113H461.87M461.57 109.4V114.4M460.16 109.4V114.4M459.97 111.4L458.08 114.4M462.7 109.65H465.73M463.27 110.9H465.73M463.27 114.15H465.73M466.19 109.4V113.65M464.03 109.4V114.4M467.32 111.9H471.11M467.89 114.15H471.11M468.65 109.4V113.65M470.81 110.4V114.4M469.21 111.4L471.11 114.4M472.51 109.65H475.73M472.51 110.9H475.73M472.51 113H475.73M472.24 109.4V114.4M474.02 109.4V114.4M476.56 110.9H480.35M476.56 113H479.59M476.56 114.15H480.35M478.64 109.4V114.4M478.45 111.4L480.35 114.4M481.18 109.65H484.97M481.18 114.15H484.21M483.26 109.4V113.65M482.51 109.4V114.4M483.07 111.4L481.18 114.4M485.8 109.65H488.83M485.8 113H489.59M486.37 114.15H488.83M486.1 109.4V114.4M490.42 110.9H494.21M490.99 111.9H494.21M490.42 114.15H494.21M490.72 110.4V113.65M493.91 109.4V113.65M495.04 109.65H498.07M495.04 113H498.83M495.04 114.15H498.83M496.37 109.4V113.65M498.53 110.4V114.4" fill="none" stroke="#222" stroke-width="0.74"/>
<path d="M501.66 109.65H505.45M501.66 110.9H504.69M501.66 111.9H505.45M501.96 109.4V114.4M506.28 110.9H509.31M506.85 113H510.07M506.28 114.15H510.07M508.36 109.4V113.65M508.17 111.4L506.28 114.4M510.9 109.65H513.93M510.9 110.9H513.93M510.9 113H514.69M514.39 110.4V114.4M511.2 110.4V114.4M515.52 109.65H519.31M515.52 110.9H519.31M515.52 113H519.31M517.6 110.4V113.65M520.14 109.65H523.93M520.14 113H523.17M520.71 114.15H523.17M521.47 109.4V113.65M520.44 109.4V113.65M522.03 111.4L520.14 114.4M524.76 109.65H528.55M524.76 111.9H528.55M524.76 113H528.55M525.06 109.4V114.4M526.09 110.4V113.65M529.38 109.65H533.17M529.38 110.9H533.17M529.38 111.9H533.17M529.68 109.4V114.4M532.87 109.4V114.4M534 109.65H537.79M534 110.9H537.79M534 111.9H537.79M536.08 110.4V114.4M538.62 110.9H542.41M538.62 111.9H542.41M542.11 110.4V113.65M538.92 109.4V114.4M540.51 111.4L542.41 114.4" fill="none" stroke="#222" stroke-width="0.74"/>
<text transform="translate(543.24 114.8) rotate(0)" font-size="8.85" text-anchor="start" fill="#444" font-weight="normal" textLength="28" lengthAdjust="spacingAndGlyphs">15ZJ001-</text>
<path d="M573.04 109.65H576.83M573.04 110.9H576.83M573.04 114.15H576.07M573.34 109.4V114.4M574.37 110.4V113.65M574.93 111.4L573.04 114.4M577.66 109.65H581.45M578.23 110.9H581.45M577.66 114.15H580.69M579.74 109.4V114.4M578.99 110.4V114.4M579.55 111.4L581.45 114.4" fill="none" stroke="#222" stroke-width="0.74"/>
<text transform="translate(582.28 114.8) rotate(0)" font-size="8.85" text-anchor="start" fill="#444" font-weight="normal" textLength="18.5" lengthAdjust="spacingAndGlyphs">11/80</text>
<path d="M601.58 109.65H605.37M601.58 111.9H605.37M601.58 113H605.37M601.88 109.4V113.65M603.47 111.4L601.58 114.4" fill="none" stroke="#222" stroke-width="0.74"/>
<text transform="translate(427.8 125.6) rotate(0)" font-size="8.85" text-anchor="start" fill="#444" font-weight="normal" textLength="9.5" lengthAdjust="spacingAndGlyphs">(8).</text>
<path d="M441.67 120.45H444.89M441.1 122.7H444.89M441.1 123.8H444.89M444.59 120.2V125.2M441.4 120.2V124.45M442.99 122.2L441.1 125.2M446.29 122.7H448.75M446.29 123.8H449.51M446.29 124.95H448.75M446.02 120.2V125.2M447.8 120.2V125.2M450.34 122.7H454.13M450.34 124.95H453.37M452.42 120.2V125.2M451.67 120.2V124.45M452.23 122.2L454.13 125.2M455.53 123.8H458.75M455.53 124.95H457.99M455.26 120.2V125.2M458.45 120.2V125.2M456.85 122.2L458.75 125.2M459.58 120.45H462.61M460.15 123.8H462.61M459.58 124.95H463.37M463.07 121.2V125.2M460.91 121.2V125.2M461.47 122.2L463.37 125.2M464.77 121.7H467.99M464.2 124.95H467.99M467.69 121.2V125.2M466.28 121.2V125.2M466.09 122.2L464.2 125.2M469.39 120.45H472.61M469.39 121.7H472.61M470.15 120.2V125.2M473.44 120.45H476.47M474.01 121.7H477.23M473.44 124.95H476.47M475.52 121.2V124.45M476.93 121.2V125.2M478.06 121.7H481.85M478.06 122.7H481.09M478.36 121.2V125.2M483.25 120.45H486.47M482.68 122.7H486.47M482.68 124.95H485.71M486.17 121.2V124.45M482.98 120.2V124.45M484.57 122.2L486.47 125.2M487.87 120.45H491.09M487.3 122.7H490.33M487.87 123.8H491.09M488.63 120.2V125.2M487.6 121.2V124.45M491.92 120.45H495.71M491.92 123.8H495.71M493.25 120.2V124.45M494 121.2V124.45M493.81 122.2L495.71 125.2M496.54 120.45H499.57M496.54 121.7H500.33M497.11 122.7H500.33M496.84 120.2V124.45M498.62 120.2V125.2M501.73 120.45H504.19M501.73 122.7H504.95M501.73 123.8H504.95M501.46 121.2V125.2M504.65 121.2V125.2M505.78 120.45H509.57M506.35 121.7H509.57M506.35 122.7H509.57M507.86 120.2V124.45M507.11 120.2V125.2M507.67 122.2L505.78 125.2M510.4 122.7H514.19M510.97 123.8H513.43M510.4 124.95H514.19M512.48 121.2V124.45M512.29 122.2L514.19 125.2M515.59 120.45H518.81M515.02 122.7H518.05M517.1 121.2V124.45M516.35 120.2V124.45M519.64 122.7H522.67M520.21 123.8H523.43M523.13 120.2V125.2M519.94 120.2V124.45M521.53 122.2L519.64 125.2M524.26 120.45H528.05M524.26 122.7H528.05M524.83 123.8H528.05M527.75 120.2V125.2M528.88 120.45H532.67M528.88 122.7H532.67M532.37 121.2V124.45M530.21 120.2V124.45M534.07 120.45H537.29M533.5 122.7H537.29M534.07 124.95H536.53M534.83 121.2V124.45M538.69 120.45H541.91M538.12 121.7H541.91M541.61 121.2V125.2M540.01 122.2L538.12 125.2" fill="none" stroke="#222" stroke-width="0.74"/>
<line x1="699.8" y1="86" x2="699.8" y2="136.7" stroke="#555" stroke-width="0.6"/>
<path d="M681.6 102.3 Q700 92.3 721.8 102.3" fill="none" stroke="#111" stroke-width="1.4"/>
<rect x="680.6" y="102" width="2" height="4.2" fill="none" stroke="#222" stroke-width="0.9"/>
<rect x="720.4" y="102" width="2" height="4.2" fill="none" stroke="#222" stroke-width="0.9"/>
<line x1="681.6" y1="106" x2="681.6" y2="127.3" stroke="#333" stroke-width="0.9"/>
<line x1="683.8" y1="103.5" x2="683.8" y2="127.3" stroke="#555" stroke-width="0.8" stroke-dasharray="1.2 0.6"/>
<line x1="719.4" y1="103.5" x2="719.4" y2="127.3" stroke="#555" stroke-width="0.8"/>
<line x1="721.6" y1="106" x2="721.6" y2="127.3" stroke="#333" stroke-width="0.9"/>
<path d="M681.6 127.3 L698.2 127.3 L699 124 L700.8 130.6 L701.6 127.3 L721.6 127.3" fill="none" stroke="#444" stroke-width="0.7" stroke-linejoin="miter"/>
<path d="M670 88.82H671.84M670 90.8H672.3M670.34 91.77H671.84M672.11 89.48V92.34M672.8 88.82H675.1M672.8 90.8H675.1M672.8 92.78H675.1M674.91 88.6V93M673.95 90.36L672.8 93" fill="none" stroke="#111" stroke-width="0.95"/>
<line x1="674.5" y1="94.6" x2="684.2" y2="100.6" stroke="#222" stroke-width="0.8"/>
<circle cx="700" cy="153.2" r="10.6" fill="none" stroke="#1a1a1a" stroke-width="1.3"/>
<text transform="translate(700.2 157.4) rotate(0) scale(0.85 1)" font-size="11.8" text-anchor="middle" fill="#444" font-weight="normal">A</text>
<text transform="translate(719.6 157.6) rotate(0)" font-size="6.14" text-anchor="start" fill="#333" font-weight="bold" textLength="8.5" lengthAdjust="spacingAndGlyphs">1:4</text>
<path d="M463.45 196.33 L485.2 234 L485.2 366" fill="none" stroke="#111" stroke-width="2" stroke-linejoin="miter"/>
<line x1="483.2" y1="236" x2="483.2" y2="366" stroke="#888" stroke-width="0.7"/>
<path d="M464.45 195.73 L467.17 194.18 L490.52 235.05 L491.4 240 L491.4 371" fill="none" stroke="#444" stroke-width="0.7" stroke-linejoin="miter"/>
<path d="M487.45 233 L488.3 240 L488.3 371" fill="none" stroke="#777" stroke-width="0.6" stroke-linejoin="miter"/>
<line x1="465.96" y1="195.23" x2="487.45" y2="233" stroke="#777" stroke-width="0.6"/>
<rect x="489" y="240.2" width="2.2" height="4.6" fill="none" stroke="#555" stroke-width="0.6"/>
<rect x="489" y="361" width="2.2" height="4.8" fill="none" stroke="#555" stroke-width="0.6"/>
<rect x="483.6" y="253.1" width="3.2" height="2" fill="#111" stroke="#111" stroke-width="0.5"/>
<rect x="483.6" y="276.5" width="3.2" height="2" fill="#111" stroke="#111" stroke-width="0.5"/>
<rect x="483.6" y="299.9" width="3.2" height="2" fill="#111" stroke="#111" stroke-width="0.5"/>
<rect x="483.6" y="323.2" width="3.2" height="2" fill="#111" stroke="#111" stroke-width="0.5"/>
<rect x="483.6" y="346.6" width="3.2" height="2" fill="#111" stroke="#111" stroke-width="0.5"/>
<circle cx="469.97" cy="207.63" r="1.1" fill="#111" stroke="#111" stroke-width="0.5"/>
<circle cx="476.94" cy="219.69" r="1.1" fill="#111" stroke="#111" stroke-width="0.5"/>
<line x1="461.8" y1="234.9" x2="483.5" y2="234.9" stroke="#444" stroke-width="0.6"/>
<path d="M461.6 234.9 A23.6 23.6 0 0 1 473.4 214.46" fill="none" stroke="#444" stroke-width="0.7"/>
<line x1="460.3" y1="236.2" x2="462.9" y2="233.6" stroke="#1a1a1a" stroke-width="1.1"/>
<line x1="472.5" y1="215.76" x2="475.1" y2="213.16" stroke="#1a1a1a" stroke-width="1.1"/>
<text transform="translate(462 223) rotate(-60)" font-size="10.62" text-anchor="middle" fill="#3a3a3a" font-weight="normal" textLength="13" lengthAdjust="spacingAndGlyphs">60°</text>
<path d="M464.4 240.2H466.53M464.4 241.21H466.53M464.4 242.27H466.53M465.15 237.9V242.5M465.47 239.74L466.53 242.5M467 239.28H468.71M467 240.2H469.13M467 242.27H469.13M467.17 238.82V242.5M468.96 237.9V242.5" fill="none" stroke="#111" stroke-width="0.9"/>
<path d="M464.3 243.6 L474.8 243.6 L484.2 235.2" fill="none" stroke="#444" stroke-width="0.6" stroke-linejoin="miter"/>
<line x1="478.98" y1="186.44" x2="502.28" y2="226.79" stroke="#444" stroke-width="0.6"/>
<line x1="477.13" y1="188.43" x2="481.64" y2="185.83" stroke="#555" stroke-width="0.6"/>
<circle cx="479.38" cy="187.13" r="0.9" fill="#111" stroke="#111" stroke-width="0.4"/>
<line x1="479.82" y1="193.08" x2="484.32" y2="190.48" stroke="#555" stroke-width="0.6"/>
<circle cx="482.07" cy="191.78" r="0.9" fill="#111" stroke="#111" stroke-width="0.4"/>
<line x1="481.34" y1="195.71" x2="485.84" y2="193.11" stroke="#555" stroke-width="0.6"/>
<circle cx="483.59" cy="194.41" r="0.9" fill="#111" stroke="#111" stroke-width="0.4"/>
<line x1="484.14" y1="200.57" x2="488.65" y2="197.97" stroke="#555" stroke-width="0.6"/>
<circle cx="486.4" cy="199.27" r="0.9" fill="#111" stroke="#111" stroke-width="0.4"/>
<line x1="487.38" y1="206.17" x2="491.88" y2="203.57" stroke="#555" stroke-width="0.6"/>
<circle cx="489.63" cy="204.87" r="0.9" fill="#111" stroke="#111" stroke-width="0.4"/>
<line x1="494.11" y1="217.84" x2="498.62" y2="215.24" stroke="#555" stroke-width="0.6"/>
<circle cx="496.37" cy="216.54" r="0.9" fill="#111" stroke="#111" stroke-width="0.4"/>
<line x1="499.65" y1="227.42" x2="504.15" y2="224.82" stroke="#555" stroke-width="0.6"/>
<circle cx="501.9" cy="226.12" r="0.9" fill="#111" stroke="#111" stroke-width="0.4"/>
<text transform="translate(472.1 185.65) rotate(60)" font-size="10.86" text-anchor="middle" fill="#3a3a3a" font-weight="normal" textLength="8.8" lengthAdjust="spacingAndGlyphs">69</text>
<text transform="translate(487.9 190.75) rotate(60)" font-size="10.86" text-anchor="middle" fill="#3a3a3a" font-weight="normal" textLength="8.8" lengthAdjust="spacingAndGlyphs">39</text>
<text transform="translate(493.5 197.75) rotate(60)" font-size="10.86" text-anchor="middle" fill="#3a3a3a" font-weight="normal" textLength="8.8" lengthAdjust="spacingAndGlyphs">72</text>
<text transform="translate(477.2 198.65) rotate(60)" font-size="10.86" text-anchor="middle" fill="#3a3a3a" font-weight="normal" textLength="8.8" lengthAdjust="spacingAndGlyphs">83</text>
<text transform="translate(485.1 213.15) rotate(60)" font-size="10.86" text-anchor="middle" fill="#3a3a3a" font-weight="normal" textLength="13" lengthAdjust="spacingAndGlyphs">173</text>
<text transform="translate(502.4 218.75) rotate(60)" font-size="10.86" text-anchor="middle" fill="#3a3a3a" font-weight="normal" textLength="13" lengthAdjust="spacingAndGlyphs">142</text>
<text transform="translate(503 276.5) rotate(0)" font-size="7.79" text-anchor="start" fill="#444" font-weight="normal" textLength="25" lengthAdjust="spacingAndGlyphs">40X40X2</text>
<line x1="499.9" y1="278.5" x2="531" y2="278.5" stroke="#444" stroke-width="0.6"/>
<line x1="499.9" y1="278.5" x2="490.5" y2="244" stroke="#555" stroke-width="0.6"/>
<line x1="499.9" y1="278.5" x2="490" y2="362" stroke="#555" stroke-width="0.6"/>
<path d="M503 283.86H504.97M503 285.62H505.46M503 286.59H504.97M503.2 282.6V286.8M503.86 282.6V286.8M506 282.81H508.46M506 284.7H508.46M506.86 282.6V286.8M509 283.86H510.97M509 285.62H511.46M509.86 283.44V286.8M512 282.81H513.97M512 284.7H514.46M512.37 285.62H514.46M512.86 282.6V286.8" fill="none" stroke="#111" stroke-width="0.85"/>
<rect x="467.3" y="370.8" width="40.1" height="73.8" fill="none" stroke="#777" stroke-width="0.7"/>
<rect x="472.9" y="375.4" width="28.9" height="63.5" rx="1.5" fill="none" stroke="#111" stroke-width="1.7"/>
<line x1="483.2" y1="366" x2="483.2" y2="427.7" stroke="#666" stroke-width="0.6"/>
<line x1="491.6" y1="366" x2="491.6" y2="427.7" stroke="#666" stroke-width="0.6"/>
<path d="M479.4 429.2 L495.3 429.2" fill="none" stroke="#333" stroke-width="0.9" stroke-linejoin="miter"/>
<circle cx="474.6" cy="379.5" r="1" fill="#111" stroke="#111" stroke-width="0.3"/>
<circle cx="500.1" cy="379.5" r="1" fill="#111" stroke="#111" stroke-width="0.3"/>
<circle cx="474.6" cy="391" r="1" fill="#111" stroke="#111" stroke-width="0.3"/>
<circle cx="500.1" cy="391" r="1" fill="#111" stroke="#111" stroke-width="0.3"/>
<circle cx="474.6" cy="402.5" r="1" fill="#111" stroke="#111" stroke-width="0.3"/>
<circle cx="500.1" cy="402.5" r="1" fill="#111" stroke="#111" stroke-width="0.3"/>
<circle cx="474.6" cy="414" r="1" fill="#111" stroke="#111" stroke-width="0.3"/>
<circle cx="500.1" cy="414" r="1" fill="#111" stroke="#111" stroke-width="0.3"/>
<circle cx="474.6" cy="425.5" r="1" fill="#111" stroke="#111" stroke-width="0.3"/>
<circle cx="500.1" cy="425.5" r="1" fill="#111" stroke="#111" stroke-width="0.3"/>
<circle cx="474.6" cy="435.5" r="1" fill="#111" stroke="#111" stroke-width="0.3"/>
<circle cx="500.1" cy="435.5" r="1" fill="#111" stroke="#111" stroke-width="0.3"/>
<circle cx="480.5" cy="437.2" r="1" fill="#111" stroke="#111" stroke-width="0.3"/>
<circle cx="480.5" cy="377.2" r="1" fill="#111" stroke="#111" stroke-width="0.3"/>
<circle cx="487.4" cy="437.2" r="1" fill="#111" stroke="#111" stroke-width="0.3"/>
<circle cx="487.4" cy="377.2" r="1" fill="#111" stroke="#111" stroke-width="0.3"/>
<circle cx="494.2" cy="437.2" r="1" fill="#111" stroke="#111" stroke-width="0.3"/>
<circle cx="494.2" cy="377.2" r="1" fill="#111" stroke="#111" stroke-width="0.3"/>
<line x1="477.5" y1="380.5" x2="479.1" y2="379.1" stroke="#444" stroke-width="0.6"/>
<line x1="497.5" y1="381" x2="499.1" y2="379.6" stroke="#444" stroke-width="0.6"/>
<line x1="476.5" y1="408" x2="478.1" y2="406.6" stroke="#444" stroke-width="0.6"/>
<line x1="498" y1="412" x2="499.6" y2="410.6" stroke="#444" stroke-width="0.6"/>
<line x1="487.5" y1="426" x2="489.1" y2="424.6" stroke="#444" stroke-width="0.6"/>
<line x1="474.8" y1="438.9" x2="474.8" y2="447.8" stroke="#666" stroke-width="0.6"/>
<line x1="481.3" y1="438.9" x2="481.3" y2="447.8" stroke="#666" stroke-width="0.6"/>
<line x1="493.4" y1="438.9" x2="493.4" y2="447.8" stroke="#666" stroke-width="0.6"/>
<line x1="500" y1="438.9" x2="500" y2="447.8" stroke="#666" stroke-width="0.6"/>
<path d="M501.8 429.2 L510.2 429.2 L510.2 447.8" fill="none" stroke="#666" stroke-width="0.6" stroke-linejoin="miter"/>
<line x1="474.8" y1="447.8" x2="529.8" y2="447.8" stroke="#555" stroke-width="0.6"/>
<line x1="501.8" y1="402.5" x2="529.8" y2="402.5" stroke="#555" stroke-width="0.6"/>
<rect x="529.8" y="396.5" width="13.8" height="13.7" fill="none" stroke="#111" stroke-width="1.3"/>
<line x1="541" y1="396.8" x2="543.2" y2="399.6" stroke="#222" stroke-width="0.8"/>
<rect x="529.8" y="429.2" width="13.8" height="22.4" fill="none" stroke="#111" stroke-width="1.3"/>
<line x1="541" y1="429.5" x2="543.2" y2="432.3" stroke="#222" stroke-width="0.8"/>
<text transform="translate(517 401.6) rotate(0)" font-size="4.72" text-anchor="start" fill="#111" font-weight="bold" textLength="6.5" lengthAdjust="spacingAndGlyphs">3ø8</text>
<text transform="translate(518.5 447) rotate(0)" font-size="4.72" text-anchor="start" fill="#111" font-weight="bold" textLength="6.5" lengthAdjust="spacingAndGlyphs">4ø8</text>
<line x1="439.8" y1="369.5" x2="439.8" y2="446" stroke="#555" stroke-width="0.6"/>
<line x1="438.5" y1="372.1" x2="441.1" y2="369.5" stroke="#1a1a1a" stroke-width="1.1"/>
<line x1="438.5" y1="383.9" x2="441.1" y2="381.3" stroke="#1a1a1a" stroke-width="1.1"/>
<line x1="438.5" y1="430.5" x2="441.1" y2="427.9" stroke="#1a1a1a" stroke-width="1.1"/>
<line x1="438.5" y1="445.9" x2="441.1" y2="443.3" stroke="#1a1a1a" stroke-width="1.1"/>
<line x1="439" y1="370.8" x2="460.8" y2="370.8" stroke="#555" stroke-width="0.6"/>
<line x1="434.4" y1="429.2" x2="461.8" y2="429.2" stroke="#555" stroke-width="0.6"/>
<line x1="434.4" y1="444.6" x2="463.6" y2="444.6" stroke="#555" stroke-width="0.6"/>
<text transform="translate(437.6 376.5) rotate(-90)" font-size="10.15" text-anchor="middle" fill="#3a3a3a" font-weight="normal" textLength="12.5" lengthAdjust="spacingAndGlyphs">150</text>
<text transform="translate(437.8 406) rotate(-90)" font-size="11.33" text-anchor="middle" fill="#3a3a3a" font-weight="normal" textLength="14.5" lengthAdjust="spacingAndGlyphs">600</text>
<text transform="translate(451.8 437.4) rotate(-90)" font-size="10.62" text-anchor="middle" fill="#3a3a3a" font-weight="normal" textLength="13" lengthAdjust="spacingAndGlyphs">200</text>
<text transform="translate(388 420.8) rotate(0)" font-size="8.26" text-anchor="start" fill="#444" font-weight="normal" textLength="10.5" lengthAdjust="spacingAndGlyphs">C30</text>
<path d="M399.92 415.85H402.16M399.4 420.25H402.84M399.68 415.6V419.76M403.6 415.85H406.36M403.6 417.07H406.36M403.6 419.13H407.04M404.81 415.6V420.5M405.32 417.56L407.04 420.5M407.8 415.85H411.24M407.8 419.13H410.56M407.8 420.25H410.56M409.01 415.6V420.5M409.69 415.6V420.5M409.52 417.56L407.8 420.5M412 415.85H414.76M412 417.07H415.44M412 419.13H415.44M415.17 415.6V420.5M413.72 417.56L412 420.5" fill="none" stroke="#111" stroke-width="0.95"/>
<path d="M386.9 422.3 L440.2 422.3 L474 404" fill="none" stroke="#444" stroke-width="0.6" stroke-linejoin="miter"/>
<path d="M381.6 427.87H384.88M381.6 428.85H384.22M382.09 429.93H384.88M382.75 427.38V430.56M383.4 426.4V431.3M383.24 428.36L381.6 431.3" fill="none" stroke="#111" stroke-width="0.9"/>
<text transform="translate(385.4 431.7) rotate(0)" font-size="8.26" text-anchor="start" fill="#444" font-weight="normal" textLength="44.4" lengthAdjust="spacingAndGlyphs">500X500@3000</text>
<text transform="translate(390.1 454) rotate(0)" font-size="8.26" text-anchor="start" fill="#444" font-weight="normal" textLength="29.5" lengthAdjust="spacingAndGlyphs">200x200x6</text>
<path d="M420.6 450.27H423.55M420.6 451.25H422.96M420.6 452.33H423.55M423.32 448.8V452.96M422.08 450.76L420.6 453.7M424.64 449.05H427.15M424.2 453.45H427.15M424.44 449.78V453.7" fill="none" stroke="#111" stroke-width="1"/>
<path d="M388 455.5 L441.3 455.5 L481.4 429.4" fill="none" stroke="#444" stroke-width="0.6" stroke-linejoin="miter"/>
<path d="M391.63 461.35H393.5M391.63 462.25H393.5M391.63 463.24H394.07M392.2 460V464.5M392.63 461.8L391.2 464.5M394.7 460.23H397.57M395.13 462.25H397.57M394.7 464.27H397M397.34 460V464.5M396.13 461.8L394.7 464.5M398.63 461.35H401.07M398.2 463.24H400.5M399.2 460.9V464.5M398.43 460.9V463.82M399.63 461.8L401.07 464.5M402.13 461.35H404.57M402.13 462.25H404.57M401.7 463.24H404M401.93 460.9V464.5M402.7 460V463.82M403.13 461.8L401.7 464.5" fill="none" stroke="#111" stroke-width="0.9"/>
<line x1="466" y1="467.4" x2="508.4" y2="467.4" stroke="#444" stroke-width="0.6"/>
<line x1="466" y1="481.4" x2="508.4" y2="481.4" stroke="#444" stroke-width="0.6"/>
<line x1="467.8" y1="459" x2="467.8" y2="487" stroke="#555" stroke-width="0.6"/>
<line x1="466.5" y1="468.7" x2="469.1" y2="466.1" stroke="#1a1a1a" stroke-width="1.1"/>
<line x1="466.5" y1="482.7" x2="469.1" y2="480.1" stroke="#1a1a1a" stroke-width="1.1"/>
<line x1="507.5" y1="459" x2="507.5" y2="487" stroke="#555" stroke-width="0.6"/>
<line x1="506.2" y1="468.7" x2="508.8" y2="466.1" stroke="#1a1a1a" stroke-width="1.1"/>
<line x1="506.2" y1="482.7" x2="508.8" y2="480.1" stroke="#1a1a1a" stroke-width="1.1"/>
<line x1="487.4" y1="459" x2="487.4" y2="472" stroke="#555" stroke-width="0.6"/>
<line x1="486.1" y1="468.7" x2="488.7" y2="466.1" stroke="#1a1a1a" stroke-width="1.1"/>
<text transform="translate(477.4 465.6) rotate(0)" font-size="11.33" text-anchor="middle" fill="#3a3a3a" font-weight="normal" textLength="14.6" lengthAdjust="spacingAndGlyphs">250</text>
<text transform="translate(497.6 465.6) rotate(0)" font-size="11.33" text-anchor="middle" fill="#3a3a3a" font-weight="normal" textLength="14.6" lengthAdjust="spacingAndGlyphs">250</text>
<text transform="translate(487.8 479.6) rotate(0)" font-size="11.33" text-anchor="middle" fill="#3a3a3a" font-weight="normal" textLength="14.6" lengthAdjust="spacingAndGlyphs">500</text>
<text transform="translate(468 500.6) rotate(0)" font-size="12.27" text-anchor="middle" fill="#555" font-weight="normal" textLength="23.4" lengthAdjust="spacingAndGlyphs">A—A</text>
<line x1="444" y1="505" x2="494" y2="505" stroke="#111" stroke-width="1.5"/>
<line x1="444" y1="507.3" x2="494" y2="507.3" stroke="#666" stroke-width="0.5"/>
<line x1="528.7" y1="195.8" x2="571" y2="195.8" stroke="#666" stroke-width="0.5"/>
<line x1="534.3" y1="195.8" x2="534.3" y2="382.6" stroke="#888" stroke-width="0.6"/>
<line x1="533" y1="197.1" x2="535.6" y2="194.5" stroke="#1a1a1a" stroke-width="1.1"/>
<line x1="533" y1="383.9" x2="535.6" y2="381.3" stroke="#1a1a1a" stroke-width="1.1"/>
<line x1="549.9" y1="195.8" x2="549.9" y2="382.6" stroke="#888" stroke-width="0.6"/>
<line x1="548.6" y1="197.1" x2="551.2" y2="194.5" stroke="#1a1a1a" stroke-width="1.1"/>
<line x1="548.6" y1="383.9" x2="551.2" y2="381.3" stroke="#1a1a1a" stroke-width="1.1"/>
<line x1="564.8" y1="195.8" x2="564.8" y2="382.6" stroke="#888" stroke-width="0.6"/>
<line x1="563.5" y1="197.1" x2="566.1" y2="194.5" stroke="#1a1a1a" stroke-width="1.1"/>
<line x1="563.5" y1="383.9" x2="566.1" y2="381.3" stroke="#1a1a1a" stroke-width="1.1"/>
<line x1="533" y1="208.7" x2="535.6" y2="206.1" stroke="#1a1a1a" stroke-width="1.1"/>
<line x1="533" y1="235.9" x2="535.6" y2="233.3" stroke="#1a1a1a" stroke-width="1.1"/>
<line x1="531.5" y1="207.4" x2="540" y2="207.4" stroke="#666" stroke-width="0.5"/>
<line x1="522" y1="234.6" x2="541" y2="234.6" stroke="#666" stroke-width="0.5"/>
<line x1="525.2" y1="234.6" x2="525.2" y2="241.8" stroke="#666" stroke-width="0.6"/>
<line x1="524" y1="235.8" x2="526.4" y2="233.4" stroke="#1a1a1a" stroke-width="1.1"/>
<line x1="524" y1="243" x2="526.4" y2="240.6" stroke="#1a1a1a" stroke-width="1.1"/>
<line x1="522" y1="241.8" x2="529" y2="241.8" stroke="#666" stroke-width="0.5"/>
<line x1="548.6" y1="202.8" x2="551.2" y2="200.2" stroke="#1a1a1a" stroke-width="1.1"/>
<line x1="546" y1="201.5" x2="556" y2="201.5" stroke="#666" stroke-width="0.5"/>
<text transform="translate(533.2 202.4) rotate(-90)" font-size="10.38" text-anchor="middle" fill="#3a3a3a" font-weight="normal" textLength="13.5" lengthAdjust="spacingAndGlyphs">150</text>
<text transform="translate(530.6 225.8) rotate(-90)" font-size="10.38" text-anchor="middle" fill="#3a3a3a" font-weight="normal" textLength="13" lengthAdjust="spacingAndGlyphs">350</text>
<text transform="translate(523.6 239) rotate(-90)" font-size="9.44" text-anchor="middle" fill="#3a3a3a" font-weight="normal" textLength="11.5" lengthAdjust="spacingAndGlyphs">100</text>
<text transform="translate(548 199) rotate(-90)" font-size="9.44" text-anchor="middle" fill="#3a3a3a" font-weight="normal" textLength="8" lengthAdjust="spacingAndGlyphs">75</text>
<text transform="translate(531 308.5) rotate(-90)" font-size="11.33" text-anchor="middle" fill="#3a3a3a" font-weight="normal" textLength="19" lengthAdjust="spacingAndGlyphs">1900</text>
<text transform="translate(546.6 300) rotate(-90)" font-size="11.33" text-anchor="middle" fill="#3a3a3a" font-weight="normal" textLength="19" lengthAdjust="spacingAndGlyphs">2250</text>
<text transform="translate(561.6 300) rotate(-90)" font-size="11.33" text-anchor="middle" fill="#3a3a3a" font-weight="normal" textLength="19" lengthAdjust="spacingAndGlyphs">2400</text>
<line x1="521.5" y1="358" x2="521.5" y2="382.6" stroke="#555" stroke-width="0.6"/>
<line x1="520.2" y1="360.5" x2="522.8" y2="357.9" stroke="#1a1a1a" stroke-width="1.1"/>
<line x1="520.2" y1="372.2" x2="522.8" y2="369.6" stroke="#1a1a1a" stroke-width="1.1"/>
<line x1="520.2" y1="383.9" x2="522.8" y2="381.3" stroke="#1a1a1a" stroke-width="1.1"/>
<line x1="519.2" y1="359.2" x2="527" y2="359.2" stroke="#666" stroke-width="0.5"/>
<line x1="519.2" y1="370.9" x2="527" y2="370.9" stroke="#666" stroke-width="0.5"/>
<text transform="translate(517.8 357) rotate(-90)" font-size="10.15" text-anchor="middle" fill="#3a3a3a" font-weight="normal" textLength="12.8" lengthAdjust="spacingAndGlyphs">150</text>
<text transform="translate(517.8 372.8) rotate(-90)" font-size="10.15" text-anchor="middle" fill="#3a3a3a" font-weight="normal" textLength="12.8" lengthAdjust="spacingAndGlyphs">150</text>
<line x1="548.6" y1="378.9" x2="551.2" y2="376.3" stroke="#1a1a1a" stroke-width="1.1"/>
<text transform="translate(544.8 376.9) rotate(-90)" font-size="8.5" text-anchor="middle" fill="#3a3a3a" font-weight="normal" textLength="7.6" lengthAdjust="spacingAndGlyphs">25</text>
<text transform="translate(548.4 388.2) rotate(-90)" font-size="8.5" text-anchor="middle" fill="#3a3a3a" font-weight="normal" textLength="7.6" lengthAdjust="spacingAndGlyphs">50</text>
<path d="M575.8 378 L584 378 L579.8 382.6 L575.8 378" fill="none" stroke="#444" stroke-width="0.6" stroke-linejoin="miter"/>
<line x1="575.8" y1="378" x2="603.2" y2="378" stroke="#444" stroke-width="0.6"/>
<path d="M585 371.81H587.54M585 372.86H587.03M585 375.59H587.54M585.89 371.6V375.17M587.34 372.44V375.8M588.48 372.86H590.13M588.1 375.59H590.64M589.5 372.44V375.8M588.3 371.6V375.17M591.2 371.81H593.74M591.2 372.86H593.23M591.2 374.62H593.23M591.4 371.6V375.17M592.6 372.44V375.17M592.47 373.28L591.2 375.8M594.3 371.81H596.84M594.68 373.7H596.84M594.68 374.62H596.84M595.19 371.6V375.17M595.7 371.6V375.17M595.57 373.28L594.3 375.8M597.4 371.81H599.43M597.78 372.86H599.94M599.74 372.44V375.8M598.29 371.6V375.17M598.67 373.28L597.4 375.8M600.5 371.81H602.53M600.5 373.7H603.04M600.5 374.62H603.04M602.84 372.44V375.17M601.9 371.6V375.8" fill="none" stroke="#111" stroke-width="0.85"/>
<path d="M604.4 373.7H606.94M604.4 374.62H606.94M604.4 375.59H606.94M605.29 372.44V375.8M606.74 372.44V375.17M607.88 371.81H609.53M607.88 373.7H610.04M607.5 375.59H610.04M609.84 371.6V375.8M608.9 372.44V375.17M608.77 373.28L607.5 375.8M610.98 372.86H613.14M610.6 375.59H612.63M611.49 371.6V375.17M612.94 371.6V375.8" fill="none" stroke="#111" stroke-width="0.85"/>
<path d="M623.6 195.78 L646.3 235.1 L646.3 378.7" fill="none" stroke="#222" stroke-width="1" stroke-linejoin="miter"/>
<path d="M624.9 234.8 A21.4 21.4 0 0 1 635.6 216.27" fill="none" stroke="#444" stroke-width="0.7"/>
<line x1="623.6" y1="236.1" x2="626.2" y2="233.5" stroke="#1a1a1a" stroke-width="1.1"/>
<line x1="634.6" y1="217.57" x2="637.2" y2="214.97" stroke="#1a1a1a" stroke-width="1.1"/>
<text transform="translate(624.6 222.4) rotate(-60)" font-size="10.62" text-anchor="middle" fill="#3a3a3a" font-weight="normal" textLength="13" lengthAdjust="spacingAndGlyphs">60°</text>
<line x1="624.9" y1="234.8" x2="624.9" y2="382.6" stroke="#666" stroke-width="0.6"/>
<line x1="615.4" y1="234.8" x2="630.1" y2="234.8" stroke="#666" stroke-width="0.5"/>
<line x1="616.2" y1="378.7" x2="630.8" y2="378.7" stroke="#666" stroke-width="0.5"/>
<line x1="623.6" y1="380" x2="626.2" y2="377.4" stroke="#1a1a1a" stroke-width="1.1"/>
<line x1="623.6" y1="383.9" x2="626.2" y2="381.3" stroke="#1a1a1a" stroke-width="1.1"/>
<text transform="translate(621.4 306) rotate(-90)" font-size="10.62" text-anchor="middle" fill="#3a3a3a" font-weight="normal" textLength="18.5" lengthAdjust="spacingAndGlyphs">1850</text>
<text transform="translate(624 388.6) rotate(-90)" font-size="9.44" text-anchor="middle" fill="#3a3a3a" font-weight="normal" textLength="9" lengthAdjust="spacingAndGlyphs">50</text>
<line x1="634.6" y1="187.9" x2="658.5" y2="229" stroke="#444" stroke-width="0.6"/>
<line x1="632.95" y1="190.2" x2="637.45" y2="187.6" stroke="#555" stroke-width="0.6"/>
<circle cx="635.2" cy="188.9" r="0.9" fill="#111" stroke="#111" stroke-width="0.4"/>
<line x1="636.25" y1="196.2" x2="640.75" y2="193.6" stroke="#555" stroke-width="0.6"/>
<circle cx="638.5" cy="194.9" r="0.9" fill="#111" stroke="#111" stroke-width="0.4"/>
<line x1="643.15" y1="207.9" x2="647.65" y2="205.3" stroke="#555" stroke-width="0.6"/>
<circle cx="645.4" cy="206.6" r="0.9" fill="#111" stroke="#111" stroke-width="0.4"/>
<line x1="649.95" y1="219.5" x2="654.45" y2="216.9" stroke="#555" stroke-width="0.6"/>
<circle cx="652.2" cy="218.2" r="0.9" fill="#111" stroke="#111" stroke-width="0.4"/>
<line x1="655.65" y1="229.3" x2="660.15" y2="226.7" stroke="#555" stroke-width="0.6"/>
<circle cx="657.9" cy="228" r="0.9" fill="#111" stroke="#111" stroke-width="0.4"/>
<text transform="translate(640.2 185.45) rotate(60)" font-size="10.86" text-anchor="middle" fill="#3a3a3a" font-weight="normal" textLength="9" lengthAdjust="spacingAndGlyphs">69</text>
<text transform="translate(644.5 197.95) rotate(60)" font-size="10.86" text-anchor="middle" fill="#3a3a3a" font-weight="normal" textLength="13" lengthAdjust="spacingAndGlyphs">173</text>
<text transform="translate(651.1 210.45) rotate(60)" font-size="10.86" text-anchor="middle" fill="#3a3a3a" font-weight="normal" textLength="13" lengthAdjust="spacingAndGlyphs">173</text>
<text transform="translate(660.3 225.75) rotate(60)" font-size="10.86" text-anchor="middle" fill="#3a3a3a" font-weight="normal" textLength="13" lengthAdjust="spacingAndGlyphs">142</text>
<line x1="689.7" y1="195" x2="689.7" y2="383.1" stroke="#333" stroke-width="0.7"/>
<line x1="685.1" y1="195.9" x2="694.9" y2="195.9" stroke="#555" stroke-width="0.5"/>
<line x1="688.5" y1="197.1" x2="690.9" y2="194.7" stroke="#1a1a1a" stroke-width="1.1"/>
<line x1="685.1" y1="201.5" x2="694.9" y2="201.5" stroke="#555" stroke-width="0.5"/>
<line x1="688.5" y1="202.7" x2="690.9" y2="200.3" stroke="#1a1a1a" stroke-width="1.1"/>
<line x1="685.1" y1="213.18" x2="694.9" y2="213.18" stroke="#555" stroke-width="0.5"/>
<line x1="688.5" y1="214.38" x2="690.9" y2="211.98" stroke="#1a1a1a" stroke-width="1.1"/>
<line x1="685.1" y1="224.86" x2="694.9" y2="224.86" stroke="#555" stroke-width="0.5"/>
<line x1="688.5" y1="226.06" x2="690.9" y2="223.66" stroke="#1a1a1a" stroke-width="1.1"/>
<line x1="685.1" y1="236.54" x2="694.9" y2="236.54" stroke="#555" stroke-width="0.5"/>
<line x1="688.5" y1="237.74" x2="690.9" y2="235.34" stroke="#1a1a1a" stroke-width="1.1"/>
<line x1="685.1" y1="248.22" x2="694.9" y2="248.22" stroke="#555" stroke-width="0.5"/>
<line x1="688.5" y1="249.42" x2="690.9" y2="247.02" stroke="#1a1a1a" stroke-width="1.1"/>
<line x1="685.1" y1="259.9" x2="694.9" y2="259.9" stroke="#555" stroke-width="0.5"/>
<line x1="688.5" y1="261.1" x2="690.9" y2="258.7" stroke="#1a1a1a" stroke-width="1.1"/>
<line x1="685.1" y1="271.58" x2="694.9" y2="271.58" stroke="#555" stroke-width="0.5"/>
<line x1="688.5" y1="272.78" x2="690.9" y2="270.38" stroke="#1a1a1a" stroke-width="1.1"/>
<line x1="685.1" y1="283.26" x2="694.9" y2="283.26" stroke="#555" stroke-width="0.5"/>
<line x1="688.5" y1="284.46" x2="690.9" y2="282.06" stroke="#1a1a1a" stroke-width="1.1"/>
<line x1="685.1" y1="294.94" x2="694.9" y2="294.94" stroke="#555" stroke-width="0.5"/>
<line x1="688.5" y1="296.14" x2="690.9" y2="293.74" stroke="#1a1a1a" stroke-width="1.1"/>
<line x1="685.1" y1="306.62" x2="694.9" y2="306.62" stroke="#555" stroke-width="0.5"/>
<line x1="688.5" y1="307.82" x2="690.9" y2="305.42" stroke="#1a1a1a" stroke-width="1.1"/>
<line x1="685.1" y1="318.3" x2="694.9" y2="318.3" stroke="#555" stroke-width="0.5"/>
<line x1="688.5" y1="319.5" x2="690.9" y2="317.1" stroke="#1a1a1a" stroke-width="1.1"/>
<line x1="685.1" y1="329.98" x2="694.9" y2="329.98" stroke="#555" stroke-width="0.5"/>
<line x1="688.5" y1="331.18" x2="690.9" y2="328.78" stroke="#1a1a1a" stroke-width="1.1"/>
<line x1="685.1" y1="341.66" x2="694.9" y2="341.66" stroke="#555" stroke-width="0.5"/>
<line x1="688.5" y1="342.86" x2="690.9" y2="340.46" stroke="#1a1a1a" stroke-width="1.1"/>
<line x1="685.1" y1="353.34" x2="694.9" y2="353.34" stroke="#555" stroke-width="0.5"/>
<line x1="688.5" y1="354.54" x2="690.9" y2="352.14" stroke="#1a1a1a" stroke-width="1.1"/>
<line x1="685.1" y1="365.02" x2="694.9" y2="365.02" stroke="#555" stroke-width="0.5"/>
<line x1="688.5" y1="366.22" x2="690.9" y2="363.82" stroke="#1a1a1a" stroke-width="1.1"/>
<line x1="685.1" y1="377.6" x2="694.9" y2="377.6" stroke="#555" stroke-width="0.5"/>
<line x1="688.5" y1="378.8" x2="690.9" y2="376.4" stroke="#1a1a1a" stroke-width="1.1"/>
<line x1="685.1" y1="382.6" x2="694.9" y2="382.6" stroke="#555" stroke-width="0.5"/>
<line x1="688.5" y1="383.8" x2="690.9" y2="381.4" stroke="#1a1a1a" stroke-width="1.1"/>
<text transform="translate(686.4 194) rotate(-90)" font-size="9.44" text-anchor="middle" fill="#3a3a3a" font-weight="normal" textLength="8.8" lengthAdjust="spacingAndGlyphs">75</text>
<text transform="translate(686.2 205.9) rotate(-90)" font-size="9.68" text-anchor="middle" fill="#3a3a3a" font-weight="normal" textLength="12.6" lengthAdjust="spacingAndGlyphs">150</text>
<text transform="translate(677.8 217.58) rotate(-90)" font-size="9.68" text-anchor="middle" fill="#3a3a3a" font-weight="normal" textLength="12.6" lengthAdjust="spacingAndGlyphs">150</text>
<text transform="translate(686.2 229.26) rotate(-90)" font-size="9.68" text-anchor="middle" fill="#3a3a3a" font-weight="normal" textLength="12.6" lengthAdjust="spacingAndGlyphs">150</text>
<text transform="translate(686.2 240.94) rotate(-90)" font-size="9.68" text-anchor="middle" fill="#3a3a3a" font-weight="normal" textLength="12.6" lengthAdjust="spacingAndGlyphs">150</text>
<text transform="translate(677.8 252.62) rotate(-90)" font-size="9.68" text-anchor="middle" fill="#3a3a3a" font-weight="normal" textLength="12.6" lengthAdjust="spacingAndGlyphs">150</text>
<text transform="translate(686.2 264.3) rotate(-90)" font-size="9.68" text-anchor="middle" fill="#3a3a3a" font-weight="normal" textLength="12.6" lengthAdjust="spacingAndGlyphs">150</text>
<text transform="translate(677.8 275.98) rotate(-90)" font-size="9.68" text-anchor="middle" fill="#3a3a3a" font-weight="normal" textLength="12.6" lengthAdjust="spacingAndGlyphs">150</text>
<text transform="translate(686.2 287.66) rotate(-90)" font-size="9.68" text-anchor="middle" fill="#3a3a3a" font-weight="normal" textLength="12.6" lengthAdjust="spacingAndGlyphs">150</text>
<text transform="translate(677.8 299.34) rotate(-90)" font-size="9.68" text-anchor="middle" fill="#3a3a3a" font-weight="normal" textLength="12.6" lengthAdjust="spacingAndGlyphs">150</text>
<text transform="translate(686.2 311.02) rotate(-90)" font-size="9.68" text-anchor="middle" fill="#3a3a3a" font-weight="normal" textLength="12.6" lengthAdjust="spacingAndGlyphs">150</text>
<text transform="translate(677.8 322.7) rotate(-90)" font-size="9.68" text-anchor="middle" fill="#3a3a3a" font-weight="normal" textLength="12.6" lengthAdjust="spacingAndGlyphs">150</text>
<text transform="translate(686.2 334.38) rotate(-90)" font-size="9.68" text-anchor="middle" fill="#3a3a3a" font-weight="normal" textLength="12.6" lengthAdjust="spacingAndGlyphs">150</text>
<text transform="translate(677.8 346.06) rotate(-90)" font-size="9.68" text-anchor="middle" fill="#3a3a3a" font-weight="normal" textLength="12.6" lengthAdjust="spacingAndGlyphs">150</text>
<text transform="translate(686.2 357.74) rotate(-90)" font-size="9.68" text-anchor="middle" fill="#3a3a3a" font-weight="normal" textLength="12.6" lengthAdjust="spacingAndGlyphs">150</text>
<text transform="translate(677.8 369.42) rotate(-90)" font-size="9.68" text-anchor="middle" fill="#3a3a3a" font-weight="normal" textLength="12.6" lengthAdjust="spacingAndGlyphs">150</text>
<text transform="translate(684.6 375.6) rotate(-90)" font-size="9.44" text-anchor="middle" fill="#3a3a3a" font-weight="normal" textLength="9" lengthAdjust="spacingAndGlyphs">25</text>
<text transform="translate(689 388.4) rotate(-90)" font-size="9.44" text-anchor="middle" fill="#3a3a3a" font-weight="normal" textLength="9" lengthAdjust="spacingAndGlyphs">50</text>
<line x1="601.2" y1="442.7" x2="745.8" y2="442.7" stroke="#333" stroke-width="0.9"/>
<path d="M614.3 436.9 L624.8 436.9 L619.4 442.7 L614.3 436.9" fill="none" stroke="#444" stroke-width="0.6" stroke-linejoin="miter"/>
<line x1="598" y1="436.9" x2="624.8" y2="436.9" stroke="#444" stroke-width="0.6"/>
<path d="M600.37 430.11H602.46M600 433H602.46M602.26 429.9V433.56M600.86 430.76V434.2M603 433H605.46M603.37 433.98H604.97M604.35 430.76V433.56M605.26 429.9V433.56M604.23 431.62L605.46 434.2M606 431.19H608.46M606 433H608.46M606 433.98H608.46M607.35 430.76V433.56M606.86 429.9V433.56M609 431.19H611.46M609 432.05H610.97M611.26 429.9V433.56M610.35 430.76V434.2M610.23 431.62L611.46 434.2" fill="none" stroke="#111" stroke-width="0.9"/>
<text transform="translate(627.9 431.2) rotate(0)" font-size="8.26" text-anchor="start" fill="#444" font-weight="normal" textLength="10.8" lengthAdjust="spacingAndGlyphs">C30</text>
<path d="M641.6 428.7H643.7M641.99 429.76H644.22M641.99 430.86H644.22M642.52 426.3V431.1M644.8 426.54H647.42M644.8 430.86H647.42M647.21 426.3V431.1M646.11 428.22L644.8 431.1M648.39 427.74H650.1M648.39 428.7H650.62M648.39 429.76H650.62M648.92 426.3V431.1M649.31 428.22L648 431.1" fill="none" stroke="#111" stroke-width="0.95"/>
<path d="M626.7 432.3 L655.9 432.3 L672.7 447.9" fill="none" stroke="#444" stroke-width="0.6" stroke-linejoin="miter"/>
<rect x="672.4" y="442.7" width="38.6" height="23.2" fill="none" stroke="#777" stroke-width="0.7"/>
<rect x="674.7" y="445.0" width="33.8" height="19.1" rx="2" fill="none" stroke="#111" stroke-width="1.7"/>
<circle cx="677.2" cy="447.2" r="1" fill="#111" stroke="#111" stroke-width="0.3"/>
<circle cx="677.2" cy="462" r="1" fill="#111" stroke="#111" stroke-width="0.3"/>
<circle cx="684.5" cy="447.2" r="1" fill="#111" stroke="#111" stroke-width="0.3"/>
<circle cx="684.5" cy="462" r="1" fill="#111" stroke="#111" stroke-width="0.3"/>
<circle cx="698.8" cy="447.2" r="1" fill="#111" stroke="#111" stroke-width="0.3"/>
<circle cx="698.8" cy="462" r="1" fill="#111" stroke="#111" stroke-width="0.3"/>
<circle cx="706" cy="447.2" r="1" fill="#111" stroke="#111" stroke-width="0.3"/>
<circle cx="706" cy="462" r="1" fill="#111" stroke="#111" stroke-width="0.3"/>
<line x1="679" y1="452.5" x2="680.5" y2="451.2" stroke="#444" stroke-width="0.6"/>
<line x1="688" y1="456" x2="689.5" y2="454.7" stroke="#444" stroke-width="0.6"/>
<line x1="695" y1="451" x2="696.5" y2="449.7" stroke="#444" stroke-width="0.6"/>
<line x1="703" y1="455.5" x2="704.5" y2="454.2" stroke="#444" stroke-width="0.6"/>
<line x1="699" y1="459" x2="700.5" y2="457.7" stroke="#444" stroke-width="0.6"/>
<line x1="683" y1="459.5" x2="684.5" y2="458.2" stroke="#444" stroke-width="0.6"/>
<line x1="691.8" y1="445" x2="691.8" y2="511.4" stroke="#444" stroke-width="0.7"/>
<rect x="682.4" y="430.5" width="19.3" height="12.2" fill="none" stroke="#444" stroke-width="0.7"/>
<line x1="682.4" y1="432.9" x2="701.7" y2="432.9" stroke="#333" stroke-width="0.8"/>
<line x1="682.4" y1="440.4" x2="701.7" y2="440.4" stroke="#333" stroke-width="0.8"/>
<path d="M684 433.2 L687.2 440.2 L690.4 433.2 L693.6 440.2 L696.8 433.2 L700 440.2" fill="none" stroke="#333" stroke-width="0.8" stroke-linejoin="miter"/>
<line x1="681.4" y1="420.1" x2="702.7" y2="420.1" stroke="#444" stroke-width="0.6"/>
<line x1="682.4" y1="414.9" x2="682.4" y2="428" stroke="#555" stroke-width="0.6"/>
<line x1="701.7" y1="414.9" x2="701.7" y2="428" stroke="#555" stroke-width="0.6"/>
<line x1="681.1" y1="421.4" x2="683.7" y2="418.8" stroke="#1a1a1a" stroke-width="1.1"/>
<line x1="700.4" y1="421.4" x2="703" y2="418.8" stroke="#1a1a1a" stroke-width="1.1"/>
<path d="M689.2 412.04H691.58M689.2 415.26H691.58M689.2 416.36H691.58M689.39 412.76V416.6M691.39 411.8V416.6M690.39 413.72L691.58 416.6M692.46 412.04H694M692.1 413.24H694.48M692.1 416.36H694.48M694.29 412.76V415.88M692.29 411.8V416.6M693.29 413.72L692.1 416.6" fill="none" stroke="#111" stroke-width="0.95"/>
<line x1="674.8" y1="429.9" x2="674.8" y2="442.7" stroke="#444" stroke-width="0.6"/>
<line x1="673.5" y1="431.9" x2="676.1" y2="429.3" stroke="#1a1a1a" stroke-width="1.1"/>
<line x1="673.5" y1="444" x2="676.1" y2="441.4" stroke="#1a1a1a" stroke-width="1.1"/>
<text transform="translate(672.6 435.6) rotate(-90)" font-size="10.15" text-anchor="middle" fill="#3a3a3a" font-weight="normal" textLength="9.4" lengthAdjust="spacingAndGlyphs">50</text>
<line x1="655.3" y1="442.7" x2="655.3" y2="466.6" stroke="#555" stroke-width="0.6"/>
<line x1="654" y1="444" x2="656.6" y2="441.4" stroke="#1a1a1a" stroke-width="1.1"/>
<line x1="654" y1="467.2" x2="656.6" y2="464.6" stroke="#1a1a1a" stroke-width="1.1"/>
<line x1="646" y1="465.9" x2="672.4" y2="465.9" stroke="#666" stroke-width="0.5"/>
<text transform="translate(653 454.2) rotate(-90)" font-size="10.86" text-anchor="middle" fill="#3a3a3a" font-weight="normal" textLength="14" lengthAdjust="spacingAndGlyphs">300</text>
<line x1="647.2" y1="465.9" x2="647.2" y2="475" stroke="#555" stroke-width="0.6"/>
<line x1="645.9" y1="467.2" x2="648.5" y2="464.6" stroke="#1a1a1a" stroke-width="1.1"/>
<line x1="645.9" y1="475.3" x2="648.5" y2="472.7" stroke="#1a1a1a" stroke-width="1.1"/>
<line x1="644" y1="474" x2="651" y2="474" stroke="#666" stroke-width="0.5"/>
<text transform="translate(644.8 470.2) rotate(-90)" font-size="10.15" text-anchor="middle" fill="#3a3a3a" font-weight="normal" textLength="12.5" lengthAdjust="spacingAndGlyphs">100</text>
<text transform="translate(717.8 436.6) rotate(0)" font-size="6.61" text-anchor="start" fill="#1a1a1a" font-weight="bold" textLength="10.8" lengthAdjust="spacingAndGlyphs">4ø12</text>
<line x1="699.8" y1="436.9" x2="728.6" y2="436.9" stroke="#444" stroke-width="0.6"/>
<line x1="706.6" y1="436.9" x2="706.6" y2="445" stroke="#555" stroke-width="0.6"/>
<text transform="translate(718.5 449.8) rotate(0)" font-size="6.14" text-anchor="start" fill="#1a1a1a" font-weight="bold" textLength="16" lengthAdjust="spacingAndGlyphs">ø8@200</text>
<line x1="708.5" y1="450.4" x2="734.8" y2="450.4" stroke="#444" stroke-width="0.6"/>
<text transform="translate(718.5 457.8) rotate(0)" font-size="6.61" text-anchor="start" fill="#1a1a1a" font-weight="bold" textLength="10.2" lengthAdjust="spacingAndGlyphs">4ø12</text>
<line x1="709.1" y1="458.5" x2="728.6" y2="458.5" stroke="#444" stroke-width="0.6"/>
<rect x="736.5" y="446.3" width="21.1" height="9.1" fill="none" stroke="#222" stroke-width="1.1"/>
<rect x="664.5" y="466.6" width="54.9" height="7.3" fill="none" stroke="#666" stroke-width="0.7"/>
<circle cx="698.39" cy="471.71" r="0.35" fill="#555"/>
<circle cx="707.35" cy="472.71" r="0.35" fill="#555"/>
<circle cx="704.47" cy="472.61" r="0.35" fill="#555"/>
<circle cx="667.51" cy="470.33" r="0.35" fill="#555"/>
<circle cx="715.05" cy="471.24" r="0.35" fill="#555"/>
<circle cx="712.85" cy="468.57" r="0.35" fill="#555"/>
<circle cx="690.39" cy="469.23" r="0.35" fill="#555"/>
<circle cx="694.28" cy="470.87" r="0.35" fill="#555"/>
<circle cx="666.68" cy="469.08" r="0.35" fill="#555"/>
<circle cx="680.53" cy="472.58" r="0.35" fill="#555"/>
<circle cx="705.82" cy="468.8" r="0.35" fill="#555"/>
<circle cx="707.45" cy="468.69" r="0.35" fill="#555"/>
<text transform="translate(613.7 489.2) rotate(0)" font-size="7.08" text-anchor="start" fill="#444" font-weight="normal" textLength="9.6" lengthAdjust="spacingAndGlyphs">C20</text>
<path d="M628.6 484.43H631.88M628.6 485.58H631.88M628.6 487.51H631.88M630.4 485.12V488.11M628.86 485.12V488.8M630.24 486.04L628.6 488.8M632.6 484.43H635.88M632.6 485.58H635.88M632.6 486.5H635.88M632.86 485.12V488.11M634.4 484.2V488.8M634.24 486.04L635.88 488.8M636.6 485.58H639.22M636.6 486.5H639.88M636.6 487.51H639.88M638.4 484.2V488.11M637.75 484.2V488.8M638.24 486.04L636.6 488.8M640.6 484.43H643.88M640.6 485.58H643.88M640.6 486.5H643.22M642.4 484.2V488.11M641.75 485.12V488.8" fill="none" stroke="#111" stroke-width="0.95"/>
<path d="M611.6 490.5 L644.9 490.5 L664.6 473.9" fill="none" stroke="#444" stroke-width="0.6" stroke-linejoin="miter"/>
<line x1="662.5" y1="495.1" x2="720.7" y2="495.1" stroke="#444" stroke-width="0.6"/>
<line x1="664.4" y1="485.7" x2="664.4" y2="500.2" stroke="#555" stroke-width="0.6"/>
<line x1="663.1" y1="496.4" x2="665.7" y2="493.8" stroke="#1a1a1a" stroke-width="1.1"/>
<line x1="671.9" y1="485.7" x2="671.9" y2="513.9" stroke="#555" stroke-width="0.6"/>
<line x1="670.6" y1="496.4" x2="673.2" y2="493.8" stroke="#1a1a1a" stroke-width="1.1"/>
<line x1="711.6" y1="485.7" x2="711.6" y2="513.9" stroke="#555" stroke-width="0.6"/>
<line x1="710.3" y1="496.4" x2="712.9" y2="493.8" stroke="#1a1a1a" stroke-width="1.1"/>
<line x1="719.2" y1="485.7" x2="719.2" y2="500.2" stroke="#555" stroke-width="0.6"/>
<line x1="717.9" y1="496.4" x2="720.5" y2="493.8" stroke="#1a1a1a" stroke-width="1.1"/>
<line x1="690.5" y1="496.4" x2="693.1" y2="493.8" stroke="#1a1a1a" stroke-width="1.1"/>
<line x1="670.8" y1="509.1" x2="712.8" y2="509.1" stroke="#444" stroke-width="0.6"/>
<line x1="670.6" y1="510.4" x2="673.2" y2="507.8" stroke="#1a1a1a" stroke-width="1.1"/>
<line x1="710.3" y1="510.4" x2="712.9" y2="507.8" stroke="#1a1a1a" stroke-width="1.1"/>
<text transform="translate(657.6 492.6) rotate(0)" font-size="10.86" text-anchor="middle" fill="#3a3a3a" font-weight="normal" textLength="13.4" lengthAdjust="spacingAndGlyphs">100</text>
<text transform="translate(681.8 492.6) rotate(0)" font-size="10.86" text-anchor="middle" fill="#3a3a3a" font-weight="normal" textLength="13.8" lengthAdjust="spacingAndGlyphs">250</text>
<text transform="translate(701.9 492.6) rotate(0)" font-size="10.86" text-anchor="middle" fill="#3a3a3a" font-weight="normal" textLength="13.8" lengthAdjust="spacingAndGlyphs">250</text>
<text transform="translate(725.9 492.6) rotate(0)" font-size="10.86" text-anchor="middle" fill="#3a3a3a" font-weight="normal" textLength="13.4" lengthAdjust="spacingAndGlyphs">100</text>
<text transform="translate(692 506.7) rotate(0)" font-size="10.86" text-anchor="middle" fill="#3a3a3a" font-weight="normal" textLength="14.2" lengthAdjust="spacingAndGlyphs">500</text>
<circle cx="692" cy="522" r="9.8" fill="none" stroke="#666" stroke-width="0.7"/>
<text transform="translate(693.6 550.4) rotate(0)" font-size="13.22" text-anchor="middle" fill="#555" font-weight="normal" textLength="23.5" lengthAdjust="spacingAndGlyphs">B—B</text>
<line x1="669.9" y1="555" x2="720.7" y2="555" stroke="#111" stroke-width="2.2"/>
<defs><pattern id="hp" width="3.2" height="3.2" patternUnits="userSpaceOnUse" patternTransform="rotate(-45)"><rect width="3.2" height="3.2" fill="#fff"/><rect width="1.7" height="3.2" fill="#111"/></pattern></defs>
<path d="M478 552.2H503.7V591.6H478Z M480.8 554.8V589H500.9V554.8Z" fill="url(#hp)" fill-rule="evenodd" stroke="#111" stroke-width="0.6"/>
<line x1="403.6" y1="551.5" x2="403.6" y2="592.6" stroke="#555" stroke-width="0.6"/>
<line x1="422.7" y1="551.5" x2="422.7" y2="592.6" stroke="#555" stroke-width="0.6"/>
<line x1="402.3" y1="553.9" x2="404.9" y2="551.3" stroke="#1a1a1a" stroke-width="1.1"/>
<line x1="402.3" y1="592.9" x2="404.9" y2="590.3" stroke="#1a1a1a" stroke-width="1.1"/>
<line x1="421.4" y1="553.9" x2="424" y2="551.3" stroke="#1a1a1a" stroke-width="1.1"/>
<line x1="421.4" y1="561.6" x2="424" y2="559" stroke="#1a1a1a" stroke-width="1.1"/>
<line x1="421.4" y1="577.5" x2="424" y2="574.9" stroke="#1a1a1a" stroke-width="1.1"/>
<line x1="421.4" y1="592.9" x2="424" y2="590.3" stroke="#1a1a1a" stroke-width="1.1"/>
<line x1="398.4" y1="552.6" x2="444.7" y2="552.6" stroke="#555" stroke-width="0.5"/>
<line x1="419" y1="560.3" x2="452.4" y2="560.3" stroke="#555" stroke-width="0.5"/>
<line x1="419" y1="576.2" x2="429.2" y2="576.2" stroke="#555" stroke-width="0.5"/>
<line x1="398.4" y1="591.6" x2="445.5" y2="591.6" stroke="#555" stroke-width="0.5"/>
<text transform="translate(420.6 556.4) rotate(-90)" font-size="9.68" text-anchor="middle" fill="#3a3a3a" font-weight="normal" textLength="7.6" lengthAdjust="spacingAndGlyphs">20</text>
<text transform="translate(420.6 568.2) rotate(-90)" font-size="10.38" text-anchor="middle" fill="#3a3a3a" font-weight="normal" textLength="9.8" lengthAdjust="spacingAndGlyphs">40</text>
<text transform="translate(420.6 583.8) rotate(-90)" font-size="10.38" text-anchor="middle" fill="#3a3a3a" font-weight="normal" textLength="9.8" lengthAdjust="spacingAndGlyphs">40</text>
<text transform="translate(401.2 572) rotate(-90)" font-size="10.86" text-anchor="middle" fill="#3a3a3a" font-weight="normal" textLength="13.8" lengthAdjust="spacingAndGlyphs">100</text>
<line x1="452.2" y1="537.7" x2="528.4" y2="537.7" stroke="#444" stroke-width="0.6"/>
<line x1="453.2" y1="532.5" x2="453.2" y2="547.1" stroke="#555" stroke-width="0.6"/>
<line x1="451.9" y1="539" x2="454.5" y2="536.4" stroke="#1a1a1a" stroke-width="1.1"/>
<line x1="478.2" y1="532.5" x2="478.2" y2="547.1" stroke="#555" stroke-width="0.6"/>
<line x1="476.9" y1="539" x2="479.5" y2="536.4" stroke="#1a1a1a" stroke-width="1.1"/>
<line x1="502.8" y1="532.5" x2="502.8" y2="547.1" stroke="#555" stroke-width="0.6"/>
<line x1="501.5" y1="539" x2="504.1" y2="536.4" stroke="#1a1a1a" stroke-width="1.1"/>
<line x1="527.4" y1="532.5" x2="527.4" y2="547.1" stroke="#555" stroke-width="0.6"/>
<line x1="526.1" y1="539" x2="528.7" y2="536.4" stroke="#1a1a1a" stroke-width="1.1"/>
<text transform="translate(466.4 531.6) rotate(0)" font-size="11.09" text-anchor="middle" fill="#3a3a3a" font-weight="normal" textLength="9.6" lengthAdjust="spacingAndGlyphs">63</text>
<text transform="translate(490.4 531.6) rotate(0)" font-size="11.09" text-anchor="middle" fill="#3a3a3a" font-weight="normal" textLength="9.6" lengthAdjust="spacingAndGlyphs">63</text>
<text transform="translate(514.4 531.6) rotate(0)" font-size="11.09" text-anchor="middle" fill="#3a3a3a" font-weight="normal" textLength="9.6" lengthAdjust="spacingAndGlyphs">63</text>
<rect x="451.3" y="560.3" width="26.7" height="2.3" fill="#222" stroke="#111" stroke-width="0.5"/>
<rect x="446.5" y="565" width="31.5" height="2" fill="#333" stroke="#111" stroke-width="0.5"/>
<line x1="446.5" y1="566" x2="443.9" y2="569" stroke="#333" stroke-width="0.9"/>
<line x1="441.3" y1="566.8" x2="478" y2="566.8" stroke="#444" stroke-width="0.7"/>
<line x1="451.3" y1="563.8" x2="478" y2="563.8" stroke="#777" stroke-width="0.6"/>
<line x1="445.9" y1="554.8" x2="445.9" y2="576.2" stroke="#555" stroke-width="0.6"/>
<rect x="456.5" y="567.8" width="19.7" height="3.4" fill="#3a3a3a" stroke="#111" stroke-width="0.5"/>
<rect x="459.8" y="571.2" width="13.2" height="4.1" fill="#e8e8e8" stroke="#222" stroke-width="0.8"/>
<line x1="469.04" y1="571.2" x2="469.04" y2="575.3" stroke="#333" stroke-width="0.7"/>
<line x1="463.76" y1="571.2" x2="463.76" y2="575.3" stroke="#333" stroke-width="0.7"/>
<path d="M464 575.3 Q466.4 578.2 468.8 575.3" fill="#fff" stroke="#444" stroke-width="0.6"/>
<line x1="464.4" y1="562.6" x2="464.4" y2="567.8" stroke="#222" stroke-width="0.9"/>
<line x1="468.4" y1="562.6" x2="468.4" y2="567.8" stroke="#222" stroke-width="0.9"/>
<line x1="459.9" y1="562.6" x2="459.9" y2="565" stroke="#444" stroke-width="0.8"/>
<line x1="472.9" y1="562.6" x2="472.9" y2="565" stroke="#444" stroke-width="0.8"/>
<rect x="476" y="560.3" width="2" height="13.2" fill="#777" stroke="#222" stroke-width="0.5"/>
<path d="M464.4 560.3 A2.6 2.6 0 0 1 469.6 560.3" fill="none" stroke="#444" stroke-width="0.7"/>
<rect x="503.7" y="560.3" width="24.5" height="2.3" fill="#222" stroke="#111" stroke-width="0.5"/>
<rect x="503.7" y="565" width="31.5" height="2" fill="#333" stroke="#111" stroke-width="0.5"/>
<line x1="535.2" y1="566" x2="537.8" y2="569" stroke="#333" stroke-width="0.9"/>
<line x1="503.7" y1="566.8" x2="539.3" y2="566.8" stroke="#444" stroke-width="0.7"/>
<line x1="503.7" y1="563.8" x2="528.2" y2="563.8" stroke="#777" stroke-width="0.6"/>
<line x1="534.7" y1="554.8" x2="534.7" y2="576.2" stroke="#555" stroke-width="0.6"/>
<rect x="505.5" y="567.8" width="19.7" height="3.4" fill="#3a3a3a" stroke="#111" stroke-width="0.5"/>
<rect x="508.7" y="571.2" width="13.2" height="4.1" fill="#e8e8e8" stroke="#222" stroke-width="0.8"/>
<line x1="512.66" y1="571.2" x2="512.66" y2="575.3" stroke="#333" stroke-width="0.7"/>
<line x1="517.94" y1="571.2" x2="517.94" y2="575.3" stroke="#333" stroke-width="0.7"/>
<path d="M512.9 575.3 Q515.3 578.2 517.7 575.3" fill="#fff" stroke="#444" stroke-width="0.6"/>
<line x1="513.3" y1="562.6" x2="513.3" y2="567.8" stroke="#222" stroke-width="0.9"/>
<line x1="517.3" y1="562.6" x2="517.3" y2="567.8" stroke="#222" stroke-width="0.9"/>
<line x1="508.8" y1="562.6" x2="508.8" y2="565" stroke="#444" stroke-width="0.8"/>
<line x1="521.8" y1="562.6" x2="521.8" y2="565" stroke="#444" stroke-width="0.8"/>
<rect x="503.7" y="560.3" width="2" height="13.2" fill="#777" stroke="#222" stroke-width="0.5"/>
<path d="M512.1 560.3 A2.6 2.6 0 0 1 517.3 560.3" fill="none" stroke="#444" stroke-width="0.7"/>
<path d="M436.1 537.62H437.9M436.37 540.57H437.54M436.73 537.4V541.14M437.76 538.28V541.8M437 539.16L437.9 541.8M438.3 537.62H439.74M438.57 538.72H440.1M438.3 539.6H440.1M438.44 538.28V541.14M439.96 537.4V541.8M439.2 539.16L440.1 541.8M440.5 537.62H441.94M440.5 540.57H442.3M440.5 541.58H442.3M441.13 538.28V541.8M441.4 539.16L442.3 541.8M442.7 537.62H444.5M442.7 538.72H444.14M442.7 541.58H444.14M444.36 538.28V541.8M443.69 537.4V541.8M443.6 539.16L444.5 541.8" fill="none" stroke="#111" stroke-width="0.9"/>
<line x1="434.4" y1="544.5" x2="452.4" y2="544.5" stroke="#444" stroke-width="0.6"/>
<line x1="452.4" y1="544.5" x2="459.2" y2="559.9" stroke="#444" stroke-width="0.6"/>
<line x1="452.4" y1="544.5" x2="468.6" y2="560" stroke="#444" stroke-width="0.6"/>
<line x1="452.4" y1="544.5" x2="454" y2="560" stroke="#555" stroke-width="0.6"/>
<path d="M534.5 537.62H536.17M534.5 540.57H536.17M534.89 537.4V541.8M534.36 538.28V541.14M536.9 537.62H538.17M536.6 539.6H538.57M536.6 540.57H538.17M537.68 537.4V541.14M537.29 538.28V541.8M539.3 537.62H540.97M539 538.72H540.57M539 541.58H540.97M540.08 537.4V541.14M539.69 537.4V541.14M541.4 538.72H543.37M541.4 539.6H542.97M541.4 541.58H542.97M542.09 537.4V541.8M542.38 539.16L541.4 541.8" fill="none" stroke="#111" stroke-width="0.9"/>
<line x1="530.8" y1="544.5" x2="550.5" y2="544.5" stroke="#444" stroke-width="0.6"/>
<line x1="530.8" y1="544.5" x2="516.2" y2="558.2" stroke="#444" stroke-width="0.6"/>
<line x1="530.8" y1="544.5" x2="523.9" y2="559.9" stroke="#444" stroke-width="0.6"/>
<line x1="530.8" y1="544.5" x2="529.9" y2="559.9" stroke="#555" stroke-width="0.6"/>
<text transform="translate(500 506) rotate(0)" font-size="6.61" text-anchor="start" fill="#444" font-weight="normal" textLength="34" lengthAdjust="spacingAndGlyphs">2L100X63X6</text>
<path d="M535.04 502.52H536.96M535.04 503.4H537.55M534.6 504.37H536.96M536.22 501.2V505.6M537.32 501.2V504.94M536.08 502.96L534.6 505.6M538.2 501.42H541.15M538.2 502.52H541.15M538.44 501.2V505.6M539.68 502.96L538.2 505.6" fill="none" stroke="#111" stroke-width="0.9"/>
<line x1="498.3" y1="507.7" x2="549.6" y2="507.7" stroke="#444" stroke-width="0.6"/>
<line x1="498.3" y1="507.7" x2="490.5" y2="552.7" stroke="#444" stroke-width="0.6"/>
<text transform="translate(529.1 521.3) rotate(0)" font-size="7.32" text-anchor="start" fill="#444" font-weight="normal" textLength="29.5" lengthAdjust="spacingAndGlyphs">L63X40X5;</text>
<path d="M560.08 517.5H562.16M559.6 518.5H562.16M559.6 519.6H562.8M561.36 516V521M559.86 516V521M563.98 516.25H566.06M563.5 518.5H566.7M563.5 520.75H566.06M565.26 516V521M566.44 516V521M565.1 518L566.7 521" fill="none" stroke="#111" stroke-width="0.9"/>
<text transform="translate(567.4 521.4) rotate(0)" font-size="7.32" text-anchor="start" fill="#444" font-weight="normal" textLength="14" lengthAdjust="spacingAndGlyphs">2400</text>
<line x1="527.4" y1="523.1" x2="581.3" y2="523.1" stroke="#444" stroke-width="0.6"/>
<line x1="527.4" y1="523.1" x2="506.8" y2="559.9" stroke="#444" stroke-width="0.6"/>
<path d="M532.5 583.84H534.73M532.5 584.8H535.29M532.5 586.96H534.73M534.03 583.36V587.2M533.89 584.32L535.29 587.2M536.32 583.84H538.13M535.9 585.86H538.69M535.9 586.96H538.69M537.43 583.36V587.2M536.88 582.4V587.2" fill="none" stroke="#111" stroke-width="0.95"/>
<text transform="translate(539.4 587.4) rotate(0)" font-size="7.32" text-anchor="start" fill="#444" font-weight="normal" textLength="15" lengthAdjust="spacingAndGlyphs">50X5;</text>
<path d="M555.4 583.84H558.43M555.4 584.8H558.43M555.4 585.86H558.43M558.19 582.4V587.2M559.1 582.64H562.13M559.1 583.84H562.13M559.56 584.8H561.53M560.16 582.4V587.2M561.89 582.4V587.2" fill="none" stroke="#111" stroke-width="0.9"/>
<text transform="translate(563 587.4) rotate(0)" font-size="7.32" text-anchor="start" fill="#444" font-weight="normal" textLength="12.6" lengthAdjust="spacingAndGlyphs">2400</text>
<line x1="529.1" y1="589.4" x2="575.3" y2="589.4" stroke="#444" stroke-width="0.6"/>
<line x1="529.1" y1="589.4" x2="519.7" y2="568.5" stroke="#444" stroke-width="0.6"/>
<text transform="translate(532.5 602) rotate(0)" font-size="7.08" text-anchor="start" fill="#444" font-weight="normal" textLength="6.4" lengthAdjust="spacingAndGlyphs">M8</text>
<path d="M540.17 598.44H543.37M540.17 599.4H542.62M540.17 601.56H542.62M539.9 597V601.8M541.49 598.92L543.37 601.8M544.2 597.24H547.97M544.77 598.44H547.22M544.77 599.4H547.97M544.5 597V601.08M546.09 598.92L544.2 601.8M548.8 597.24H552.57M549.37 598.44H551.82M549.37 601.56H551.82M552.27 597V601.8M550.12 597.96V601.08M550.69 598.92L552.57 601.8M553.97 597.24H557.17M553.97 599.4H557.17M553.97 601.56H557.17M554.72 597V601.08M553.7 597.96V601.8M558.57 598.44H561.77M558 599.4H561.02M558 600.46H561.77M558.3 597.96V601.8M559.89 598.92L561.77 601.8" fill="none" stroke="#111" stroke-width="0.95"/>
<text transform="translate(563 602) rotate(0)" font-size="7.32" text-anchor="start" fill="#444" font-weight="normal" textLength="15.8" lengthAdjust="spacingAndGlyphs">@300</text>
<line x1="527.4" y1="603.9" x2="578.7" y2="603.9" stroke="#444" stroke-width="0.6"/>
<line x1="527.4" y1="603.9" x2="515.4" y2="576.2" stroke="#444" stroke-width="0.6"/>
<path d="M506.2 593.8H508.99M506.2 594.95H508.99M506.42 590.2V595.2M507.73 591.2V595.2M507.59 592.2L506.2 595.2M509.6 590.45H512.39M510.02 591.7H512.39M510.02 592.7H512.39M509.82 590.2V594.45M510.58 591.2V595.2" fill="none" stroke="#111" stroke-width="0.95"/>
<line x1="502.5" y1="577" x2="505.4" y2="589.4" stroke="#444" stroke-width="0.6"/>
<text transform="translate(491.8 617.9) rotate(0)" font-size="13.69" text-anchor="middle" fill="#555" font-weight="normal" textLength="24.2" lengthAdjust="spacingAndGlyphs">C—C</text>
<line x1="466.8" y1="622.1" x2="525.1" y2="622.1" stroke="#111" stroke-width="1.9"/>
<text transform="translate(491.6 630.8) rotate(0)" font-size="6.14" text-anchor="start" fill="#555" font-weight="normal" textLength="8" lengthAdjust="spacingAndGlyphs">1:4</text>
<line x1="83.2" y1="497.5" x2="319.1" y2="497.5" stroke="#444" stroke-width="0.6"/>
<line x1="83.2" y1="512" x2="319.1" y2="512" stroke="#444" stroke-width="0.6"/>
<line x1="87" y1="526.2" x2="314.6" y2="526.2" stroke="#444" stroke-width="0.6"/>
<line x1="84.2" y1="491.1" x2="84.2" y2="517.7" stroke="#555" stroke-width="0.6"/>
<line x1="87.6" y1="505" x2="87.6" y2="532.2" stroke="#555" stroke-width="0.6"/>
<line x1="89.3" y1="526.2" x2="89.3" y2="532.2" stroke="#555" stroke-width="0.6"/>
<line x1="318.1" y1="492.1" x2="318.1" y2="518.2" stroke="#555" stroke-width="0.6"/>
<line x1="314.8" y1="505" x2="314.8" y2="532.2" stroke="#555" stroke-width="0.6"/>
<line x1="313.2" y1="526.2" x2="313.2" y2="532.2" stroke="#555" stroke-width="0.6"/>
<line x1="82.9" y1="498.8" x2="85.5" y2="496.2" stroke="#1a1a1a" stroke-width="1.1"/>
<line x1="316.8" y1="498.8" x2="319.4" y2="496.2" stroke="#1a1a1a" stroke-width="1.1"/>
<line x1="82.9" y1="513.3" x2="85.5" y2="510.7" stroke="#1a1a1a" stroke-width="1.1"/>
<line x1="86.3" y1="513.3" x2="88.9" y2="510.7" stroke="#1a1a1a" stroke-width="1.1"/>
<line x1="313.5" y1="513.3" x2="316.1" y2="510.7" stroke="#1a1a1a" stroke-width="1.1"/>
<line x1="316.8" y1="513.3" x2="319.4" y2="510.7" stroke="#1a1a1a" stroke-width="1.1"/>
<line x1="86.3" y1="527.5" x2="88.9" y2="524.9" stroke="#1a1a1a" stroke-width="1.1"/>
<line x1="88" y1="527.5" x2="90.6" y2="524.9" stroke="#1a1a1a" stroke-width="1.1"/>
<line x1="311.9" y1="527.5" x2="314.5" y2="524.9" stroke="#1a1a1a" stroke-width="1.1"/>
<line x1="313.5" y1="527.5" x2="316.1" y2="524.9" stroke="#1a1a1a" stroke-width="1.1"/>
<text transform="translate(200.5 494.4) rotate(0)" font-size="11.33" text-anchor="middle" fill="#3a3a3a" font-weight="normal" textLength="17.6" lengthAdjust="spacingAndGlyphs">3000</text>
<text transform="translate(200.5 509.2) rotate(0)" font-size="11.33" text-anchor="middle" fill="#3a3a3a" font-weight="normal" textLength="17.4" lengthAdjust="spacingAndGlyphs">2910</text>
<text transform="translate(200.5 523.8) rotate(0)" font-size="11.33" text-anchor="middle" fill="#3a3a3a" font-weight="normal" textLength="47.2" lengthAdjust="spacingAndGlyphs">75x38=2850</text>
<text transform="translate(90.8 509.2) rotate(0)" font-size="11.33" text-anchor="middle" fill="#3a3a3a" font-weight="normal" textLength="8.8" lengthAdjust="spacingAndGlyphs">45</text>
<text transform="translate(310.4 509.2) rotate(0)" font-size="11.33" text-anchor="middle" fill="#3a3a3a" font-weight="normal" textLength="8.8" lengthAdjust="spacingAndGlyphs">45</text>
<text transform="translate(94.8 522.4) rotate(0)" font-size="11.33" text-anchor="middle" fill="#3a3a3a" font-weight="normal" textLength="8.8" lengthAdjust="spacingAndGlyphs">30</text>
<text transform="translate(306.8 522.4) rotate(0)" font-size="11.33" text-anchor="middle" fill="#3a3a3a" font-weight="normal" textLength="8.8" lengthAdjust="spacingAndGlyphs">30</text>
<path d="M44.8 516 L44.8 545.6 L31.9 548 L58.3 550.7 L44.8 553.3 L44.8 585.8" fill="none" stroke="#555" stroke-width="0.7" stroke-linejoin="miter"/>
<path d="M356.8 516.4 L356.8 544.4 L370.7 548.1 L341.8 551.8 L356.8 553.7 L356.8 584.9" fill="none" stroke="#555" stroke-width="0.7" stroke-linejoin="miter"/>
<line x1="44.8" y1="541.5" x2="356.8" y2="541.5" stroke="#888" stroke-width="0.7"/>
<line x1="44.8" y1="544.2" x2="356.8" y2="544.2" stroke="#777" stroke-width="0.8"/>
<line x1="44.8" y1="546.5" x2="356.8" y2="546.5" stroke="#222" stroke-width="1.5"/>
<line x1="44.8" y1="552.4" x2="77.1" y2="552.4" stroke="#3a3a3a" stroke-width="0.85"/>
<line x1="90.9" y1="552.4" x2="310.9" y2="552.4" stroke="#3a3a3a" stroke-width="0.85"/>
<line x1="324.7" y1="552.4" x2="356.8" y2="552.4" stroke="#3a3a3a" stroke-width="0.85"/>
<line x1="44.8" y1="559.3" x2="77.1" y2="559.3" stroke="#3a3a3a" stroke-width="0.85"/>
<line x1="90.9" y1="559.3" x2="310.9" y2="559.3" stroke="#3a3a3a" stroke-width="0.85"/>
<line x1="324.7" y1="559.3" x2="356.8" y2="559.3" stroke="#3a3a3a" stroke-width="0.85"/>
<line x1="44.8" y1="566.6" x2="356.8" y2="566.6" stroke="#222" stroke-width="1.1"/>
<line x1="44.8" y1="569.2" x2="356.8" y2="569.2" stroke="#999" stroke-width="1.8"/>
<line x1="44.8" y1="572" x2="356.8" y2="572" stroke="#222" stroke-width="1"/>
<path d="M48.8 546.5V572M54.65 546.5V572M60.5 546.5V572M66.35 546.5V572M72.2 546.5V572M77.1 546.5V572M90.9 546.5V572M95.6 546.5V572M101.45 546.5V572M107.3 546.5V572M113.15 546.5V572M119 546.5V572M124.85 546.5V572M130.7 546.5V572M136.55 546.5V572M142.4 546.5V572M148.25 546.5V572M154.1 546.5V572M159.95 546.5V572M165.8 546.5V572M171.65 546.5V572M177.5 546.5V572M183.35 546.5V572M189.2 546.5V572M195.05 546.5V572M200.9 546.5V572M206.75 546.5V572M212.6 546.5V572M218.45 546.5V572M224.3 546.5V572M230.15 546.5V572M236 546.5V572M241.85 546.5V572M247.7 546.5V572M253.55 546.5V572M259.4 546.5V572M265.25 546.5V572M271.1 546.5V572M276.95 546.5V572M282.8 546.5V572M288.65 546.5V572M294.5 546.5V572M300.35 546.5V572M306.2 546.5V572M310.9 546.5V572M324.7 546.5V572M329.6 546.5V572M335.45 546.5V572M341.3 546.5V572M347.15 546.5V572M353 546.5V572" fill="none" stroke="#2a2a2a" stroke-width="0.9"/>
<path d="M48.8 572V577.2M54.65 572V577.2M60.5 572V577.2M66.35 572V577.2M72.2 572V577.2M77.1 572V577.2M90.9 572V577.2M95.6 572V577.2M101.45 572V577.2M107.3 572V577.2M113.15 572V577.2M119 572V577.2M124.85 572V577.2M130.7 572V577.2M136.55 572V577.2M142.4 572V577.2M148.25 572V577.2M154.1 572V577.2M159.95 572V577.2M165.8 572V577.2M171.65 572V577.2M177.5 572V577.2M183.35 572V577.2M189.2 572V577.2M195.05 572V577.2M200.9 572V577.2M206.75 572V577.2M212.6 572V577.2M218.45 572V577.2M224.3 572V577.2M230.15 572V577.2M236 572V577.2M241.85 572V577.2M247.7 572V577.2M253.55 572V577.2M259.4 572V577.2M265.25 572V577.2M271.1 572V577.2M276.95 572V577.2M282.8 572V577.2M288.65 572V577.2M294.5 572V577.2M300.35 572V577.2M306.2 572V577.2M310.9 572V577.2M324.7 572V577.2M329.6 572V577.2M335.45 572V577.2M341.3 572V577.2M347.15 572V577.2M353 572V577.2" fill="none" stroke="#333" stroke-width="0.9"/>
<rect x="81.6" y="541.6" width="4.6" height="35.7" fill="#fff" stroke="#777" stroke-width="0.7"/>
<circle cx="79.2" cy="561.4" r="1.1" fill="none" stroke="#333" stroke-width="0.6"/>
<circle cx="88.6" cy="561.4" r="1.1" fill="none" stroke="#333" stroke-width="0.6"/>
<rect x="315.4" y="541.6" width="4.6" height="35.7" fill="#fff" stroke="#777" stroke-width="0.7"/>
<circle cx="313" cy="561.4" r="1.1" fill="none" stroke="#333" stroke-width="0.6"/>
<circle cx="322.4" cy="561.4" r="1.1" fill="none" stroke="#333" stroke-width="0.6"/>
<text transform="translate(73.9 587.9) rotate(0)" font-size="7.79" text-anchor="start" fill="#444" font-weight="normal" textLength="24.5" lengthAdjust="spacingAndGlyphs">40X40X2</text>
<line x1="72.2" y1="590.3" x2="112.2" y2="590.3" stroke="#444" stroke-width="0.6"/>
<line x1="112.2" y1="590.3" x2="115.2" y2="543.9" stroke="#444" stroke-width="0.6"/>
<line x1="112.2" y1="590.3" x2="120" y2="571.7" stroke="#444" stroke-width="0.6"/>
<path d="M73.9 593.82H76.28M74.26 594.89H75.8M73.9 597.69H76.28M75.21 593.6V597.25M74.09 593.6V597.9M77.16 595.75H78.7M76.8 596.7H79.18M76.8 597.69H78.7M78.11 593.6V597.25M80.06 595.75H82.08M79.7 596.7H82.08M79.89 593.6V597.9M81.01 594.46V597.25M80.89 595.32L79.7 597.9M82.6 593.82H84.98M82.6 596.7H84.98M82.6 597.69H84.5M84.79 593.6V597.9" fill="none" stroke="#111" stroke-width="0.9"/>
<text transform="translate(125.1 590.3) rotate(0)" font-size="8.02" text-anchor="start" fill="#444" font-weight="normal" textLength="29.5" lengthAdjust="spacingAndGlyphs">ø6@75x150</text>
<path d="M156.1 585.63H158.96M155.6 586.78H158.96M156.1 588.71H158.29M157.45 585.4V590M155.87 586.32V589.31M157.28 587.24L158.96 590M159.7 586.78H162.39M159.7 587.7H163.06M160.2 588.71H163.06M160.88 585.4V590M161.55 585.4V590M161.38 587.24L159.7 590M163.8 585.63H167.16M164.3 586.78H167.16M166.89 585.4V590" fill="none" stroke="#111" stroke-width="0.95"/>
<line x1="125" y1="591.6" x2="177.8" y2="591.6" stroke="#444" stroke-width="0.6"/>
<line x1="177.8" y1="591.6" x2="182" y2="573.8" stroke="#444" stroke-width="0.6"/>
<line x1="177.8" y1="591.6" x2="196.2" y2="574" stroke="#444" stroke-width="0.6"/>
<path d="M193.6 596.8 L198.89 596.8 L198.89 607 L193.6 607 L193.6 596.8M194.66 599.35 L197.83 599.35M194.66 601.7 L197.83 601.7M194.92 604.14 L197.73 604.14 L197.73 605.47M196.25 598.02 L196.25 605.98" fill="none" stroke="#1a1a1a" stroke-width="0.9" stroke-linejoin="round"/>
<path d="M199.9 600.37 L201.81 600.37M200.85 597.31 L200.85 605.47M199.9 605.98 L201.91 604.76M202.28 598.33 L205.19 598.33M203.71 596.8 L203.71 600.88M202.81 599.66 L203.18 600.68M204.66 599.66 L204.29 600.68M202.12 601.39 L205.19 601.39M202.44 602.72 L204.98 602.72 L204.98 607 L202.44 607 L202.44 602.72M203.18 604.14 L204.24 604.14 L204.24 605.78 L203.18 605.78 L203.18 604.14" fill="none" stroke="#1a1a1a" stroke-width="0.9" stroke-linejoin="round"/>
<path d="M206.2 597.82 L208.42 597.82M207.36 597.82 L207.36 606.18 L206.73 605.57M208.58 597.31 L211.49 597.31M210.01 597.31 L209.69 598.84M208.95 599.04 L211.23 599.04 L211.23 604.14 L208.95 604.14 L208.95 599.04M208.95 601.49 L211.23 601.49M209.69 604.14 L208.74 607M210.43 604.55 L211.39 607" fill="none" stroke="#1a1a1a" stroke-width="0.9" stroke-linejoin="round"/>
<path d="M213.82 596.8 L214.09 597.82M212.61 598.64 L215.57 598.64M213.29 599.66 L213.66 601.08M214.88 599.66 L214.51 601.08M212.5 601.7 L215.68 601.7M212.92 603.12 L215.25 603.12 L215.25 606.8 L212.92 606.8 L212.92 603.12M216.2 597 L217.69 597 L216.73 599.86 L217.69 601.9 L217.53 603.74 L216.63 603.74M216.2 597 L216.2 607" fill="none" stroke="#1a1a1a" stroke-width="0.9" stroke-linejoin="round"/>
<path d="M219.12 597.62 L223.77 597.62M219.96 599.04 L220.49 601.08M222.93 599.04 L222.4 601.08M218.8 602.41 L224.09 602.41M221.45 597.62 L221.45 607" fill="none" stroke="#1a1a1a" stroke-width="0.9" stroke-linejoin="round"/>
<path d="M225.1 597.31 L230.39 597.31M227.48 597.31 L227.11 599.66M225.36 599.66 L230.13 599.66 L230.13 607 L225.36 607 L225.36 599.66M226.95 599.66 L226.95 607M228.54 599.66 L228.54 607M226.95 602.1 L228.54 602.1M226.95 604.55 L228.54 604.55" fill="none" stroke="#1a1a1a" stroke-width="0.9" stroke-linejoin="round"/>
<path d="M231.4 596.8 L236.69 596.8 L236.69 607 L231.4 607 L231.4 596.8M233.62 598.02 L232.56 600.88M233.25 598.84 L235.1 598.84 L232.72 603.12M233.41 600.27 L235.63 603.12M233.94 603.53 L234.68 604.14M233.52 604.96 L234.68 605.78" fill="none" stroke="#1a1a1a" stroke-width="0.9" stroke-linejoin="round"/>
<line x1="184.9" y1="611.6" x2="244.3" y2="611.6" stroke="#111" stroke-width="1.6"/>
<line x1="184.9" y1="613.8" x2="244.3" y2="613.8" stroke="#666" stroke-width="0.5"/>
<line x1="785.2" y1="396.2" x2="895.7" y2="396.2" stroke="#333" stroke-width="0.9"/>
<line x1="785.2" y1="407.3" x2="895.7" y2="407.3" stroke="#333" stroke-width="0.9"/>
<line x1="785.2" y1="451.2" x2="895.7" y2="451.2" stroke="#333" stroke-width="0.9"/>
<line x1="785.2" y1="459.9" x2="895.7" y2="459.9" stroke="#333" stroke-width="0.9"/>
<line x1="785.2" y1="468.8" x2="895.7" y2="468.8" stroke="#333" stroke-width="0.9"/>
<line x1="785.2" y1="477.3" x2="895.7" y2="477.3" stroke="#333" stroke-width="0.9"/>
<line x1="785.2" y1="486.2" x2="895.7" y2="486.2" stroke="#333" stroke-width="1.6"/>
<line x1="785.2" y1="521.5" x2="895.7" y2="521.5" stroke="#333" stroke-width="0.9"/>
<line x1="785.2" y1="530.6" x2="895.7" y2="530.6" stroke="#333" stroke-width="0.9"/>
<line x1="785.2" y1="539.4" x2="895.7" y2="539.4" stroke="#333" stroke-width="0.9"/>
<line x1="785.2" y1="548.1" x2="895.7" y2="548.1" stroke="#333" stroke-width="0.9"/>
<line x1="785.2" y1="565.4" x2="895.7" y2="565.4" stroke="#333" stroke-width="1.5"/>
<line x1="785.2" y1="566.9" x2="895.7" y2="566.9" stroke="#333" stroke-width="0.8"/>
<line x1="785.2" y1="583.1" x2="895.7" y2="583.1" stroke="#333" stroke-width="0.9"/>
<line x1="785.2" y1="600.3" x2="895.7" y2="600.3" stroke="#333" stroke-width="1"/>
<line x1="785.2" y1="609.4" x2="895.7" y2="609.4" stroke="#333" stroke-width="0.9"/>
<line x1="785.2" y1="618.3" x2="895.7" y2="618.3" stroke="#333" stroke-width="0.9"/>
<line x1="785.2" y1="627.4" x2="895.7" y2="627.4" stroke="#333" stroke-width="0.9"/>
<line x1="813" y1="451.2" x2="813" y2="486.2" stroke="#333" stroke-width="0.9"/>
<line x1="840.7" y1="451.2" x2="840.7" y2="486.2" stroke="#333" stroke-width="0.9"/>
<line x1="804.5" y1="521.5" x2="804.5" y2="548.1" stroke="#333" stroke-width="0.9"/>
<line x1="822.7" y1="521.5" x2="822.7" y2="548.1" stroke="#333" stroke-width="0.9"/>
<line x1="840.6" y1="521.5" x2="840.6" y2="548.1" stroke="#333" stroke-width="0.9"/>
<line x1="859" y1="521.5" x2="859" y2="548.1" stroke="#333" stroke-width="0.9"/>
<line x1="877.4" y1="521.5" x2="877.4" y2="548.1" stroke="#333" stroke-width="0.9"/>
<line x1="813.3" y1="600.3" x2="813.3" y2="636.5" stroke="#333" stroke-width="0.9"/>
<line x1="840.7" y1="600.3" x2="840.7" y2="618.3" stroke="#333" stroke-width="0.9"/>
<line x1="868.4" y1="600.3" x2="868.4" y2="618.3" stroke="#333" stroke-width="0.9"/>
<line x1="874.3" y1="627.4" x2="874.3" y2="636.5" stroke="#333" stroke-width="0.9"/>
<line x1="884.7" y1="627.4" x2="884.7" y2="636.5" stroke="#333" stroke-width="0.9"/>
<path d="M812.99 402.86H816.89M812.3 403.96H816.89M813.91 400.36V404.2M814.83 399.4V404.2M814.6 401.32L816.89 404.2M817.9 400.84H821.57M817.9 403.96H822.49M822.12 399.4V404.2M820.43 399.4V403.48M820.2 401.32L817.9 404.2M824.19 399.64H828.09M823.5 401.8H828.09M823.5 402.86H828.09M826.03 399.4V404.2M825.11 399.4V403.48M825.8 401.32L823.5 404.2M829.79 400.84H832.77M829.79 403.96H832.77M829.47 400.36V404.2M835.39 399.64H839.29M834.7 400.84H839.29M834.7 401.8H838.37M837.23 399.4V404.2M836.31 399.4V404.2M837 401.32L839.29 404.2M840.99 399.64H843.97M840.99 402.86H843.97M842.83 400.36V403.48M842.6 401.32L840.3 404.2M846.59 400.84H850.49M845.9 401.8H850.49M845.9 403.96H850.49M850.12 399.4V404.2" fill="none" stroke="#555" stroke-width="0.7"/>
<text transform="translate(853 403.6) rotate(0) scale(0.8 1)" font-size="6.49" text-anchor="start" fill="#666" font-weight="normal">(</text>
<path d="M856 400.84H859.67M856.69 402.86H860.59M856 403.96H860.59M860.22 399.4V404.2M858.53 399.4V403.48M858.3 401.32L860.59 404.2M861.6 399.64H866.19M862.29 400.84H866.19M861.6 402.86H866.19M863.21 399.4V404.2" fill="none" stroke="#555" stroke-width="0.7"/>
<text transform="translate(867 403.6) rotate(0) scale(0.8 1)" font-size="6.49" text-anchor="start" fill="#666" font-weight="normal">)</text>
<text transform="translate(818.9 475.1) rotate(0)" font-size="5.43" text-anchor="start" fill="#666" font-weight="normal" textLength="13.2" lengthAdjust="spacingAndGlyphs">2024.09</text>
<path d="M854.34 472.36H856.85M853.9 473.2H856.85M853.9 475.09H856.26M856.62 471.1V475.3M854.14 471.1V475.3M857.5 472.36H859.86M857.94 474.12H860.45M857.5 475.09H859.86M860.22 471.94V475.3M861.54 473.2H864.05M861.54 475.09H864.05M863.82 471.1V475.3M861.34 471.1V475.3M862.58 472.78L861.1 475.3M864.7 471.31H867.06M864.7 472.36H867.65M864.7 474.12H867.06M867.42 471.1V474.67M865.73 471.1V475.3M866.18 472.78L867.65 475.3M868.74 471.31H870.66M868.74 475.09H870.66M868.54 471.1V475.3M871.9 472.36H874.85M872.34 473.2H874.26M871.9 475.09H874.26M872.93 471.1V475.3M873.38 472.78L874.85 475.3M875.5 473.2H877.86M875.94 474.12H878.45M875.94 475.09H877.86M877.12 471.1V475.3M878.22 471.94V474.67M879.1 471.31H882.05M879.1 472.36H882.05M879.1 473.2H881.46M879.34 471.94V475.3M881.82 471.94V475.3" fill="none" stroke="#666" stroke-width="0.6"/>
<path d="M791.4 482.77H793.56M790.9 483.78H794.22M792.06 479.6V484" fill="none" stroke="#555" stroke-width="0.7"/>
<path d="M801.1 480.92H803.26M800.6 481.8H803.26M803.65 479.6V484M800.87 479.6V484M802.26 481.36L800.6 484" fill="none" stroke="#555" stroke-width="0.7"/>
<path d="M819.7 480.92H823.02M820.2 482.77H822.36M822.75 480.48V483.34" fill="none" stroke="#555" stroke-width="0.7"/>
<path d="M829.4 479.82H832.72M829.4 481.8H832.72M829.9 483.78H832.72M829.67 479.6V484M832.45 479.6V484" fill="none" stroke="#555" stroke-width="0.7"/>
<path d="M859.3 480.92H861.96M859.3 483.78H861.96M862.35 479.6V483.34M859.57 479.6V484" fill="none" stroke="#555" stroke-width="0.7"/>
<path d="M874.4 480.92H877.72M874.4 482.77H877.06M874.4 483.78H877.72M875.56 480.48V483.34M874.67 479.6V483.34M876.06 481.36L877.72 484" fill="none" stroke="#555" stroke-width="0.7"/>
<circle cx="794" cy="494.7" r="4.2" fill="none" stroke="#111" stroke-width="2.2"/>
<path d="M786.8 494.7L794 487.5L801.2 494.7L794 501.9Z" fill="#111"/>
<circle cx="794" cy="494.7" r="1.6" fill="#fff" stroke="#fff" stroke-width="0.1"/>
<circle cx="790.8" cy="491.5" r="0.9" fill="#fff" stroke="#fff" stroke-width="0.1"/>
<circle cx="797.2" cy="491.5" r="0.9" fill="#fff" stroke="#fff" stroke-width="0.1"/>
<circle cx="790.8" cy="497.9" r="0.9" fill="#fff" stroke="#fff" stroke-width="0.1"/>
<circle cx="797.2" cy="497.9" r="0.9" fill="#fff" stroke="#fff" stroke-width="0.1"/>
<path d="M808.66 494.08H811.52M808 496.43H811.52M808 497.72H811.52M810.42 492.4V498M808.35 492.4V498M814.02 492.68H816.88M813.36 495.2H817.76M814.02 496.43H817.76M817.4 492.4V497.16M813.71 492.4V498M818.72 495.2H823.12M818.72 496.43H823.12M822.76 492.4V498M821.14 492.4V498M820.92 494.64L818.72 498M824.08 496.43H827.6M824.74 497.72H828.48M828.12 493.52V497.16M826.28 494.64L824.08 498M830.1 494.08H832.96M829.44 496.43H833.84M829.44 497.72H833.84M831.86 493.52V497.16M830.98 492.4V498M835.46 492.68H839.2M834.8 497.72H839.2M835.15 492.4V497.16M838.84 492.4V498M840.16 492.68H844.56M840.16 494.08H843.68M840.16 496.43H844.56M841.7 493.52V497.16M842.36 494.64L844.56 498M846.18 492.68H849.92M846.18 494.08H849.04M847.06 493.52V498M845.87 492.4V498M847.72 494.64L849.92 498M850.88 492.68H854.4M851.54 495.2H854.4M851.23 492.4V498M852.42 492.4V497.16M856.9 494.08H860.64M856.9 495.2H860.64M857.78 493.52V497.16M856.59 492.4V498M858.44 494.64L860.64 498M861.6 492.68H865.12M861.6 495.2H866M862.26 496.43H865.12M863.14 492.4V497.16M861.95 492.4V497.16M867.62 492.68H871.36M867.62 494.08H871.36M866.96 495.2H871.36M871 493.52V497.16M869.16 494.64L871.36 498M872.32 494.08H876.72M872.32 495.2H876.72M876.36 492.4V497.16M873.86 492.4V498M874.52 494.64L876.72 498M877.68 495.2H881.2M877.68 496.43H882.08M877.68 497.72H882.08M878.03 493.52V497.16M881.72 492.4V497.16M883.7 492.68H886.56M883.04 494.08H886.56M883.04 496.43H887.44M884.58 492.4V498M887.08 492.4V498" fill="none" stroke="#444" stroke-width="0.75"/>
<path d="M790.1 506.11H792.48M790.46 507.16H792.48M790.46 509.89H792.48M790.93 506.74V510.1M793.36 507.16H795.38M793 508H795.38M794.31 506.74V510.1M795.9 508.92H798.28M796.26 509.89H798.28M797.21 505.9V510.1M796.09 505.9V510.1M797.09 507.58L798.28 510.1M799.16 506.11H801.18M799.16 509.89H800.7M800.99 506.74V509.47M800.11 505.9V510.1M801.7 507.16H804.08M802.06 508H803.6M801.7 508.92H803.6M802.53 505.9V510.1M803.89 506.74V510.1" fill="none" stroke="#666" stroke-width="0.6"/>
<path d="M805.6 506.11H808.1M805.6 507.16H808.1M805.6 509.89H808.1M806.98 505.9V510.1M806.48 505.9V510.1M806.85 507.58L805.6 510.1M809.03 506.11H811.15M808.65 507.16H810.65M809.03 509.89H811.15M810.95 505.9V510.1M808.85 506.74V509.47M809.9 507.58L808.65 510.1M812.08 507.16H813.7M811.7 509.89H814.2M814 506.74V509.47M814.75 508H816.75M814.75 508.92H817.25M817.05 505.9V510.1M818.18 506.11H820.3M817.8 507.16H820.3M818.18 508.92H820.3M818.68 505.9V510.1M820.1 506.74V510.1M820.85 506.11H822.85M820.85 508H823.35M820.85 508.92H823.35M821.73 505.9V510.1M823.15 505.9V510.1M824.28 506.11H826.4M824.28 507.16H825.9M823.9 509.89H825.9M824.78 505.9V509.47M825.28 505.9V510.1M825.15 507.58L826.4 510.1M826.95 506.11H829.45M827.33 508H829.45M826.95 508.92H829.45M827.83 505.9V510.1M828.2 507.58L826.95 510.1M830 507.16H832M830 508H832.5M830 508.92H832M830.88 505.9V510.1M831.38 505.9V510.1M831.25 507.58L830 510.1M833.43 506.11H835.55M833.05 508.92H835.05M833.05 509.89H835.55M835.35 506.74V509.47M833.25 505.9V510.1M834.3 507.58L833.05 510.1" fill="none" stroke="#666" stroke-width="0.6"/>
<path d="M859.3 506.11H861.6M859.3 507.16H861.14M860.1 506.74V510.1M859.48 505.9V509.47M862.1 508.92H864.4M862.44 509.89H864.4M862.9 505.9V510.1M864.9 506.11H867.2M865.24 508H866.74M867.01 505.9V510.1M866.16 505.9V509.47M867.7 506.11H870M867.7 508H869.54M867.7 509.89H869.54M868.96 506.74V510.1M867.88 506.74V509.47M868.85 507.58L867.7 510.1M870.5 507.16H872.8M870.5 508H872.8M871.3 505.9V510.1M871.76 505.9V510.1M871.65 507.58L870.5 510.1" fill="none" stroke="#666" stroke-width="0.6"/>
<text transform="translate(873.9 509.6) rotate(0)" font-size="4.72" text-anchor="start" fill="#666" font-weight="normal" textLength="15.2" lengthAdjust="spacingAndGlyphs">A142002911</text>
<path d="M790.42 515.36H792.23M790.1 516.2H792.23M791.27 514.1V518.3M790.85 514.1V517.67M791.17 515.78L792.23 518.3M792.7 514.31H794.83M792.7 515.36H794.83M792.7 517.12H794.83M794.66 514.94V517.67M793.45 514.1V518.3" fill="none" stroke="#666" stroke-width="0.6"/>
<path d="M795.9 514.31H797.62M796.22 515.36H798.05M795.9 517.12H797.62M796.07 514.94V518.3M798.52 514.31H800.67M798.52 515.36H800.24M798.52 516.2H800.67M800.5 514.1V517.67M799.27 514.1V518.3M801.14 514.31H803.29M801.14 515.36H802.86M801.14 516.2H802.86M802.32 514.94V517.67M801.89 514.1V518.3M803.76 514.31H805.91M803.76 515.36H805.91M804.51 514.94V518.3M804.94 514.1V518.3M806.38 516.2H808.53M806.7 517.12H808.53M806.38 518.09H808.1M807.13 514.1V517.67M807.45 515.78L808.53 518.3M809.32 514.31H811.15M809 516.2H810.72M809.32 518.09H810.72M810.18 514.94V518.3M810.07 515.78L809 518.3M811.62 514.31H813.34M811.62 515.36H813.34M811.94 516.2H813.77M812.37 514.1V518.3M813.6 514.94V518.3M814.56 515.36H815.96M814.24 516.2H816.39M814.24 517.12H815.96M814.99 514.94V518.3M814.41 514.1V518.3M817.18 514.31H819.01M816.86 515.36H819.01M816.86 517.12H819.01M817.61 514.94V518.3M817.03 514.1V517.67M819.48 514.31H821.2M819.48 517.12H821.2M819.8 518.09H821.63M821.46 514.1V518.3M820.55 515.78L819.48 518.3M822.42 515.36H824.25M822.42 518.09H823.82M822.85 514.1V518.3M824.08 514.1V517.67M824.72 514.31H826.87M824.72 515.36H826.87M824.72 518.09H826.44M826.7 514.1V518.3M825.9 514.1V517.67M827.34 516.2H829.49M827.66 518.09H829.49M828.52 514.1V518.3M828.41 515.78L829.49 518.3M829.96 514.31H831.68M829.96 515.36H831.68M830.28 516.2H831.68M830.71 514.1V518.3M831.94 514.94V517.67M831.03 515.78L832.11 518.3M832.58 515.36H834.73M832.58 516.2H834.3M832.58 517.12H834.73M832.75 514.1V517.67M833.33 514.1V518.3M835.2 515.36H837.35M835.52 516.2H837.35M835.2 517.12H837.35M835.37 514.1V518.3M837.82 515.36H839.54M837.82 517.12H839.97M838.14 518.09H839.97M839.8 514.1V518.3M837.99 514.1V518.3M840.44 515.36H842.59M840.76 518.09H842.59M841.19 514.1V518.3M841.62 514.1V518.3M843.06 514.31H845.21M843.06 515.36H845.21M843.06 517.12H845.21M844.24 514.1V517.67M843.23 514.1V518.3M846 515.36H847.83M846 517.12H847.83M846 518.09H847.83M845.85 514.94V518.3M846.43 514.1V518.3M848.62 515.36H850.45M848.3 518.09H850.02M850.28 514.94V517.67M849.37 515.78L848.3 518.3M851.24 516.2H852.64M850.92 517.12H852.64M852.9 514.1V518.3M851.67 514.1V518.3" fill="none" stroke="#666" stroke-width="0.6"/>
<text transform="translate(854.14 517.8) rotate(0)" font-size="4.72" text-anchor="start" fill="#555" font-weight="normal" textLength="7.6" lengthAdjust="spacingAndGlyphs">(027)</text>
<path d="M862.46 515.36H864.27M862.14 516.2H864.27M862.14 518.09H864.27M864.1 514.1V518.3M863.31 514.94V518.3M863.21 515.78L864.27 518.3M864.74 515.36H866.87M864.74 518.09H866.45M865.49 514.94V517.67M866.7 514.1V518.3M867.34 514.31H869.05M867.34 516.2H869.47M867.34 517.12H869.05M868.51 514.1V518.3M868.09 514.1V517.67M868.41 515.78L869.47 518.3M870.26 514.31H872.07M870.26 516.2H871.65M870.26 518.09H872.07M871.11 514.1V518.3M872.54 514.31H874.67M872.54 516.2H874.67M872.86 518.09H874.67M873.29 514.1V518.3M873.71 514.94V517.67M873.61 515.78L872.54 518.3" fill="none" stroke="#666" stroke-width="0.6"/>
<text transform="translate(875.64 517.8) rotate(0)" font-size="4.72" text-anchor="start" fill="#555" font-weight="normal" textLength="7.6" lengthAdjust="spacingAndGlyphs">(027)</text>
<path d="M884.06 514.31H885.87M883.74 516.2H885.87M883.74 517.12H885.87M883.91 514.1V518.3M884.49 514.1V517.67M884.81 515.78L885.87 518.3M886.34 515.36H888.05M886.34 516.2H888.47M886.66 517.12H888.47M887.09 514.94V518.3M888.94 514.31H891.07M888.94 515.36H891.07M888.94 518.09H890.65M890.9 514.1V518.3M889.69 514.1V518.3M890.01 515.78L888.94 518.3" fill="none" stroke="#666" stroke-width="0.6"/>
<path d="M788.6 524.12H791.26M789.1 525.22H791.92M789.1 526.1H791.26M789.76 524.78V528.3M790.26 525.66L791.92 528.3" fill="none" stroke="#555" stroke-width="0.7"/>
<path d="M797.6 524.12H800.92M797.6 525.22H800.26M800.65 524.78V527.64M797.87 523.9V528.3" fill="none" stroke="#555" stroke-width="0.7"/>
<path d="M843.9 524.12H846.72M843.9 527.07H846.72M843.67 523.9V527.64M846.45 523.9V527.64M845.06 525.66L843.4 528.3" fill="none" stroke="#555" stroke-width="0.7"/>
<path d="M852.6 526.1H855.92M852.6 528.08H855.26M852.87 523.9V528.3M853.76 523.9V527.64M854.26 525.66L855.92 528.3" fill="none" stroke="#555" stroke-width="0.7"/>
<path d="M788.6 534.12H791.26M788.6 535.97H791.92M788.6 536.98H791.92M790.43 532.8V536.54" fill="none" stroke="#555" stroke-width="0.7"/>
<path d="M797.6 535H800.26M798.1 536.98H800.26M797.87 532.8V537.2M799.26 534.56L800.92 537.2" fill="none" stroke="#555" stroke-width="0.7"/>
<path d="M843.4 533.02H846.72M843.9 535H846.72M844.56 532.8V537.2M845.06 534.56L846.72 537.2" fill="none" stroke="#555" stroke-width="0.7"/>
<path d="M852.6 534.12H855.92M852.6 535H855.26M853.76 532.8V536.54" fill="none" stroke="#555" stroke-width="0.7"/>
<path d="M786.4 541.82H789.22M786.93 542.92H789.93M786.4 545.78H789.93M786.68 541.6V546M787.63 541.6V545.34M788.16 543.36L786.4 546M791.23 542.92H793.52M790.7 543.8H794.23M793.94 541.6V546M795 542.92H797.82M795 544.77H798.53M796.94 541.6V546M798.24 541.6V545.34M796.76 543.36L798.53 546M799.3 541.82H802.83M799.3 542.92H802.12M799.3 545.78H802.83M801.24 541.6V546M802.54 541.6V546" fill="none" stroke="#555" stroke-width="0.7"/>
<path d="M843.4 541.82H846.06M843.9 544.77H846.72M843.4 545.78H846.72M845.23 542.48V545.34" fill="none" stroke="#555" stroke-width="0.7"/>
<path d="M853.1 542.92H855.92M852.6 543.8H855.92M855.65 541.6V546M852.87 541.6V545.34" fill="none" stroke="#555" stroke-width="0.7"/>
<path d="M814.3 555.55H818.03M814.3 556.8H818.03M814.3 558.9H818.03M816.35 555.3V559.55M817.73 555.3V559.55M816.17 557.3L814.3 560.3M819.41 555.55H822.58M818.85 556.8H822.58M818.85 558.9H822.58M822.28 556.3V559.55M819.15 556.3V559.55M823.4 555.55H826.38M823.4 557.8H827.13M823.7 555.3V560.3M825.45 556.3V560.3M825.27 557.3L827.13 560.3M827.95 556.8H830.93M827.95 557.8H831.68M828.51 560.05H831.68M828.25 555.3V559.55M829.26 556.3V559.55M829.82 557.3L831.68 560.3M832.5 557.8H836.23M832.5 560.05H836.23M835.93 556.3V560.3M833.81 555.3V560.3M834.37 557.3L832.5 560.3M837.05 555.55H840.78M837.05 556.8H840.03M840.48 556.3V560.3M839.1 555.3V560.3M838.92 557.3L840.78 560.3M841.6 556.8H844.58M841.6 557.8H844.58M842.16 560.05H845.33M842.91 555.3V560.3M845.03 555.3V559.55M843.47 557.3L841.6 560.3M846.15 556.8H849.88M846.15 558.9H849.13M846.71 560.05H849.88M847.46 556.3V560.3M848.02 557.3L846.15 560.3M850.7 556.8H854.43M850.7 560.05H854.43M851 556.3V560.3M852.57 557.3L854.43 560.3M855.25 556.8H858.98M855.81 557.8H858.23M855.55 556.3V559.55M859.8 555.55H863.53M859.8 558.9H862.78M859.8 560.05H863.53M863.23 556.3V560.3M861.11 556.3V559.55M864.35 557.8H868.08M864.91 558.9H868.08M864.35 560.05H867.33M867.78 555.3V560.3M864.65 556.3V560.3M868.9 556.8H871.88M869.46 557.8H872.63M868.9 558.9H871.88M870.21 555.3V560.3M870.95 555.3V560.3" fill="none" stroke="#555" stroke-width="0.7"/>
<path d="M807.3 573.25H810.91M807.3 574.5H810.19M807.3 577.75H810.91M810.62 573V577.25M809.1 575L810.91 578M811.7 573.25H815.31M812.24 576.6H815.31M815.02 573V578M816.1 573.25H819.71M816.1 574.5H819.71M818.08 573V578M816.39 573V577.25M821.04 573.25H824.11M821.04 574.5H824.11M820.5 576.6H824.11M822.48 573V577.25M822.3 575L820.5 578M825.44 573.25H828.51M824.9 576.6H828.51M825.44 577.75H828.51M826.16 574V578M825.19 573V578M829.84 574.5H832.91M829.3 576.6H832.91M829.3 577.75H832.91M829.59 573V578M832.62 573V577.25" fill="none" stroke="#666" stroke-width="0.65"/>
<text transform="translate(834 577) rotate(0) scale(0.8 1)" font-size="5.9" text-anchor="start" fill="#666" font-weight="normal">-</text>
<path d="M836.9 574.5H840.34M836.9 576.6H839.66M840.07 573V577.25M837.18 573V578M841.62 573.25H844.54M841.62 574.5H843.86M841.1 575.5H843.86M841.38 573V578M842.82 575L844.54 578M845.3 573.25H848.74M845.3 575.5H848.74M847.19 573V578M850.02 573.25H852.26M849.5 576.6H852.94M850.02 577.75H852.94M849.78 573V577.25M854.22 573.25H856.46M853.7 574.5H857.14M853.7 576.6H857.14M853.98 574V578M855.59 574V577.25M855.42 575L853.7 578M857.9 575.5H861.34M857.9 576.6H861.34M859.11 573V578M861.07 573V578M859.62 575L861.34 578M862.1 574.5H865.54M862.1 575.5H865.54M862.62 576.6H865.54M865.27 573V578M863.31 574V577.25M866.3 573.25H869.74M866.3 575.5H869.74M867.51 573V578M868.19 573V577.25M870.5 573.25H873.94M870.5 577.75H873.94M871.71 573V578M872.22 575L873.94 578M875.22 573.25H878.14M875.22 574.5H878.14M875.22 575.5H878.14M876.59 574V578M877.87 573V577.25" fill="none" stroke="#666" stroke-width="0.65"/>
<path d="M830.4 593.7H834.01M830.94 594.85H833.29M831.66 591.1V595.1M833.72 591.1V595.1M835.34 591.6H838.41M835.34 594.85H837.69M838.12 590.1V594.35M836.6 592.1L838.41 595.1M839.2 590.35H842.09M839.74 593.7H842.81M839.49 590.1V595.1M840.46 591.1V595.1M843.6 590.35H847.21M843.6 593.7H847.21M843.89 590.1V594.35M845.58 591.1V594.35M845.4 592.1L843.6 595.1M848.54 593.7H850.89M848 594.85H850.89M849.98 590.1V595.1M848.29 590.1V595.1M849.8 592.1L848 595.1" fill="none" stroke="#555" stroke-width="0.7"/>
<path d="M792.7 604.02H796.02M793.2 604.9H796.02M793.2 605.87H795.36M793.86 602.7V607.1M794.53 603.58V606.44" fill="none" stroke="#555" stroke-width="0.7"/>
<path d="M801.8 602.92H804.46M801.8 604.02H805.12M802.3 605.87H805.12M803.63 603.58V606.44M802.96 602.7V607.1" fill="none" stroke="#555" stroke-width="0.7"/>
<path d="M792.7 613.9H796.02M792.7 614.87H796.02M793.2 615.88H795.36M795.75 611.7V615.44M792.97 612.58V616.1M794.36 613.46L792.7 616.1" fill="none" stroke="#555" stroke-width="0.7"/>
<path d="M802.3 611.92H805.12M802.3 614.87H805.12M802.07 612.58V616.1M802.96 612.58V616.1M803.46 613.46L801.8 616.1" fill="none" stroke="#555" stroke-width="0.7"/>
<path d="M792.7 620.92H795.36M792.7 622.9H795.36M795.75 620.7V625.1M792.97 621.58V624.44M794.36 622.46L792.7 625.1" fill="none" stroke="#555" stroke-width="0.7"/>
<path d="M801.8 622.02H805.12M801.8 622.9H804.46M801.8 623.87H805.12M802.96 621.58V625.1" fill="none" stroke="#555" stroke-width="0.7"/>
<path d="M821.3 602.92H823.86M821.3 604.02H824.5M821.78 604.9H824.5M822.42 603.58V607.1M824.24 602.7V607.1M825.2 604.02H828.4M825.2 604.9H828.4M825.2 605.87H828.4M828.14 603.58V606.44M829.58 604.02H832.3M829.58 605.87H832.3M829.36 603.58V606.44M830.22 603.58V607.1" fill="none" stroke="#555" stroke-width="0.7"/>
<path d="M821.8 613.9H823.96M821.3 615.88H824.62M821.57 611.7V616.1M824.35 611.7V616.1M822.96 613.46L824.62 616.1" fill="none" stroke="#555" stroke-width="0.7"/>
<path d="M829.3 611.92H831.46M828.8 613.02H831.46M829.96 611.7V615.44M829.07 611.7V616.1" fill="none" stroke="#555" stroke-width="0.7"/>
<path d="M846.9 604.9H849.56M846.9 605.87H850.22M848.73 603.58V607.1M847.17 602.7V607.1" fill="none" stroke="#555" stroke-width="0.7"/>
<path d="M857.2 602.92H859.86M857.2 606.88H860.52M860.25 603.58V607.1" fill="none" stroke="#555" stroke-width="0.7"/>
<path d="M846.9 613.9H849.56M846.9 614.87H850.22M846.9 615.88H849.56M848.73 611.7V615.44M849.95 611.7V616.1M848.56 613.46L846.9 616.1" fill="none" stroke="#555" stroke-width="0.7"/>
<path d="M857.2 611.92H860.52M857.7 613.02H860.52M857.2 615.88H860.52M858.36 611.7V616.1M860.25 611.7V616.1M858.86 613.46L860.52 616.1" fill="none" stroke="#555" stroke-width="0.7"/>
<text transform="translate(875.3 615.6) rotate(0)" font-size="5.43" text-anchor="start" fill="#666" font-weight="normal" textLength="14.6" lengthAdjust="spacingAndGlyphs">2024.09</text>
<text transform="translate(820 624.6) rotate(0)" font-size="5.19" text-anchor="start" fill="#555" font-weight="normal" textLength="46" lengthAdjust="spacingAndGlyphs">ZTZH-WWTW-SG-WQ-C2-01</text>
<path d="M789.23 629.92H791.52M788.7 631.02H791.52M788.7 633.88H791.52M791.94 630.58V634.1M788.98 630.58V634.1M790.46 631.46L788.7 634.1M793 631.02H796.53M793.53 632.87H796.53M796.24 630.58V634.1M793.28 630.58V634.1M794.76 631.46L796.53 634.1M797.3 629.92H800.12M797.3 631.9H800.83M797.3 632.87H800.83M797.58 630.58V634.1M800.54 629.7V634.1M799.06 631.46L797.3 634.1M801.6 629.92H804.42M802.13 633.88H805.13M804.84 629.7V633.44M803.36 631.46L805.13 634.1M806.43 629.92H809.43M806.43 631.02H809.43M806.43 631.9H809.43M806.18 630.58V633.44M809.14 630.58V634.1M807.66 631.46L809.43 634.1" fill="none" stroke="#555" stroke-width="0.7"/>
<text transform="translate(817.3 633.6) rotate(0)" font-size="5.19" text-anchor="start" fill="#555" font-weight="normal" textLength="54.7" lengthAdjust="spacingAndGlyphs">ZTZH-WWTW-SG-WQ-C2-01.dwg</text>
<path d="M876.08 632.87H878.8M875.6 633.88H878.16M876.72 629.7V634.1M875.86 630.58V634.1M879.5 629.92H882.06M879.98 631.02H882.7M882.44 630.58V634.1M879.76 630.58V634.1" fill="none" stroke="#555" stroke-width="0.7"/>
<line x1="872.4" y1="632" x2="872.4" y2="635.6" stroke="#111" stroke-width="1.2"/>
<rect x="730.4" y="565.6" width="54.8" height="70.9" fill="none" stroke="#333" stroke-width="1"/>
<line x1="730.4" y1="565.6" x2="785.2" y2="565.6" stroke="#333" stroke-width="1.5"/>
<line x1="730.4" y1="574.5" x2="785.2" y2="574.5" stroke="#333" stroke-width="0.9"/>
<line x1="730.4" y1="583.3" x2="785.2" y2="583.3" stroke="#333" stroke-width="0.9"/>
<line x1="730.4" y1="592.1" x2="785.2" y2="592.1" stroke="#333" stroke-width="0.9"/>
<line x1="730.4" y1="600.9" x2="785.2" y2="600.9" stroke="#333" stroke-width="0.9"/>
<line x1="730.4" y1="609.7" x2="785.2" y2="609.7" stroke="#333" stroke-width="0.9"/>
<line x1="730.4" y1="618.5" x2="785.2" y2="618.5" stroke="#333" stroke-width="0.9"/>
<line x1="730.4" y1="627.7" x2="785.2" y2="627.7" stroke="#333" stroke-width="0.9"/>
<line x1="758.5" y1="565.6" x2="758.5" y2="627.7" stroke="#333" stroke-width="0.9"/>
<path d="M748.6 570.2H751.36M749.12 571.04H752.04M748.6 571.91H752.04M748.88 569.06V571.53M750.49 568.3V572.1M752.8 569.44H756.24M752.8 571.04H756.24M752.8 571.91H755.56M754.01 568.3V572.1M755.97 568.3V572.1M754.52 569.82L756.24 572.1" fill="none" stroke="#666" stroke-width="0.6"/>
<path d="M748.6 577.29H751.36M748.6 578.24H752.04M748.6 580.71H752.04M749.81 577.1V580.9M748.88 577.86V580.9M750.32 578.62L748.6 580.9M752.8 577.29H756.24M752.8 579H756.24M753.32 579.84H755.56M754.69 577.1V580.33M755.97 577.1V580.9" fill="none" stroke="#666" stroke-width="0.6"/>
<path d="M749.12 587.04H752.04M748.6 588.64H751.36M749.12 589.51H751.36M748.88 585.9V589.7M751.77 585.9V589.7M750.32 587.42L752.04 589.7M753.32 587.8H756.24M752.8 588.64H756.24M752.8 589.51H756.24M754.69 585.9V589.7M753.08 586.66V589.13M754.52 587.42L756.24 589.7" fill="none" stroke="#666" stroke-width="0.6"/>
<path d="M748.6 595.84H751.36M748.6 596.6H752.04M748.6 598.31H752.04M751.77 595.46V598.5M749.81 594.7V598.5M752.8 597.44H756.24M752.8 598.31H755.56M754.01 594.7V598.5M754.69 595.46V597.93M754.52 596.22L756.24 598.5" fill="none" stroke="#666" stroke-width="0.6"/>
<path d="M748.6 603.69H752.04M749.12 605.4H751.36M749.12 606.24H751.36M750.49 603.5V607.3M750.32 605.02L752.04 607.3M753.32 603.69H755.56M752.8 604.64H755.56M752.8 607.11H755.56M753.08 603.5V607.3M754.01 603.5V606.73M754.52 605.02L752.8 607.3" fill="none" stroke="#666" stroke-width="0.6"/>
<path d="M748.6 613.44H751.36M748.6 614.2H751.36M748.6 615.91H751.36M750.49 613.06V616.1M750.32 613.82L748.6 616.1M753.32 612.49H756.24M753.32 614.2H756.24M752.8 615.91H756.24M753.08 612.3V616.1" fill="none" stroke="#666" stroke-width="0.6"/>
<path d="M748.6 621.49H751.36M748.6 622.44H751.36M749.12 624.91H752.04M749.81 621.3V625.1M752.8 621.49H756.24M753.32 622.44H755.56M752.8 623.2H756.24M753.08 621.3V625.1M754.01 621.3V625.1" fill="none" stroke="#666" stroke-width="0.6"/>
<path d="M750 630.4H753.02M750.45 631.4H752.41M750 633.08H753.02M750.24 631V634.2M751.51 631.8L750 634.2" fill="none" stroke="#666" stroke-width="0.6"/>
<path d="M761 630.4H763.41M761 631.4H763.41M761 634H764.02M763.78 630.2V633.6" fill="none" stroke="#666" stroke-width="0.6"/>
</svg>
</body></html>
